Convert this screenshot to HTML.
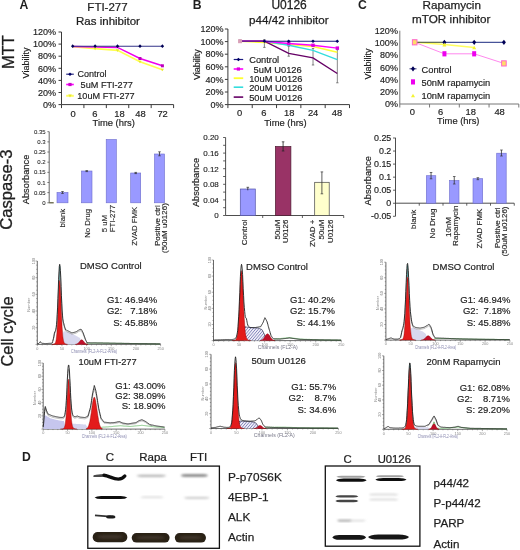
<!DOCTYPE html>
<html><head><meta charset="utf-8"><style>
html,body{margin:0;padding:0;background:#fff;}
svg{display:block;font-family:"Liberation Sans", sans-serif;}
text{opacity:0.999;stroke:#1e1e1e;stroke-width:0.22px;}
</style></head><body>
<svg width="520" height="550" viewBox="0 0 520 550">
<rect width="520" height="550" fill="#fff"/>
<text transform="translate(14.00,52.00) rotate(-90)" font-size="16.5" text-anchor="middle" font-weight="normal" fill="#1e1e1e" style="stroke-width:0.30px">MTT</text>
<text transform="translate(12.20,189.60) rotate(-90)" font-size="16.6" text-anchor="middle" font-weight="normal" fill="#1e1e1e" style="stroke-width:0.30px">Caspase-3</text>
<text transform="translate(12.60,331.50) rotate(-90)" font-size="16.4" text-anchor="middle" font-weight="normal" fill="#1e1e1e" style="stroke-width:0.30px">Cell cycle</text>
<text x="19.40" y="8.80" font-size="12.2" text-anchor="start" font-weight="bold" fill="#1e1e1e" style="stroke-width:0.00px" >A</text>
<text x="192.70" y="9.00" font-size="12.2" text-anchor="start" font-weight="bold" fill="#1e1e1e" style="stroke-width:0.00px" >B</text>
<text x="358.00" y="9.00" font-size="12.2" text-anchor="start" font-weight="bold" fill="#1e1e1e" style="stroke-width:0.00px" >C</text>
<text x="22.00" y="461.30" font-size="12.2" text-anchor="start" font-weight="bold" fill="#1e1e1e" style="stroke-width:0.00px" >D</text>
<text x="107.50" y="10.90" font-size="11.5" text-anchor="middle" font-weight="normal" fill="#1e1e1e" style="stroke-width:0.24px" >FTI-277</text>
<text x="108.00" y="25.30" font-size="11.5" text-anchor="middle" font-weight="normal" fill="#1e1e1e" style="stroke-width:0.24px" >Ras inhibitor</text>
<line x1="61.50" y1="32.00" x2="61.50" y2="104.60" stroke="#3a3a3a" stroke-width="1" />
<line x1="61.50" y1="104.60" x2="173.60" y2="104.60" stroke="#3a3a3a" stroke-width="1" />
<line x1="58.50" y1="32.00" x2="61.50" y2="32.00" stroke="#3a3a3a" stroke-width="1" />
<text x="56.00" y="35.20" font-size="9" text-anchor="end" font-weight="normal" fill="#1e1e1e" style="stroke-width:0.17px" >120%</text>
<line x1="58.50" y1="44.10" x2="61.50" y2="44.10" stroke="#3a3a3a" stroke-width="1" />
<text x="56.00" y="47.30" font-size="9" text-anchor="end" font-weight="normal" fill="#1e1e1e" style="stroke-width:0.17px" >100%</text>
<line x1="58.50" y1="56.20" x2="61.50" y2="56.20" stroke="#3a3a3a" stroke-width="1" />
<text x="56.00" y="59.40" font-size="9" text-anchor="end" font-weight="normal" fill="#1e1e1e" style="stroke-width:0.17px" >80%</text>
<line x1="58.50" y1="68.30" x2="61.50" y2="68.30" stroke="#3a3a3a" stroke-width="1" />
<text x="56.00" y="71.50" font-size="9" text-anchor="end" font-weight="normal" fill="#1e1e1e" style="stroke-width:0.17px" >60%</text>
<line x1="58.50" y1="80.40" x2="61.50" y2="80.40" stroke="#3a3a3a" stroke-width="1" />
<text x="56.00" y="83.60" font-size="9" text-anchor="end" font-weight="normal" fill="#1e1e1e" style="stroke-width:0.17px" >40%</text>
<line x1="58.50" y1="92.50" x2="61.50" y2="92.50" stroke="#3a3a3a" stroke-width="1" />
<text x="56.00" y="95.70" font-size="9" text-anchor="end" font-weight="normal" fill="#1e1e1e" style="stroke-width:0.17px" >20%</text>
<line x1="58.50" y1="104.60" x2="61.50" y2="104.60" stroke="#3a3a3a" stroke-width="1" />
<text x="56.00" y="107.80" font-size="9" text-anchor="end" font-weight="normal" fill="#1e1e1e" style="stroke-width:0.17px" >0%</text>
<line x1="61.50" y1="104.60" x2="61.50" y2="108.10" stroke="#3a3a3a" stroke-width="1" />
<line x1="83.92" y1="104.60" x2="83.92" y2="108.10" stroke="#3a3a3a" stroke-width="1" />
<line x1="106.34" y1="104.60" x2="106.34" y2="108.10" stroke="#3a3a3a" stroke-width="1" />
<line x1="128.76" y1="104.60" x2="128.76" y2="108.10" stroke="#3a3a3a" stroke-width="1" />
<line x1="151.18" y1="104.60" x2="151.18" y2="108.10" stroke="#3a3a3a" stroke-width="1" />
<line x1="173.60" y1="104.60" x2="173.60" y2="108.10" stroke="#3a3a3a" stroke-width="1" />
<text x="73.20" y="117.30" font-size="9.4" text-anchor="middle" font-weight="normal" fill="#1e1e1e" style="stroke-width:0.18px" >0</text>
<text x="94.80" y="117.30" font-size="9.4" text-anchor="middle" font-weight="normal" fill="#1e1e1e" style="stroke-width:0.18px" >6</text>
<text x="119.40" y="117.30" font-size="9.4" text-anchor="middle" font-weight="normal" fill="#1e1e1e" style="stroke-width:0.18px" >18</text>
<text x="140.40" y="117.30" font-size="9.4" text-anchor="middle" font-weight="normal" fill="#1e1e1e" style="stroke-width:0.18px" >48</text>
<text x="162.60" y="117.30" font-size="9.4" text-anchor="middle" font-weight="normal" fill="#1e1e1e" style="stroke-width:0.18px" >72</text>
<text x="113.70" y="125.60" font-size="9.4" text-anchor="middle" font-weight="normal" fill="#1e1e1e" style="stroke-width:0.18px" >Time (hrs)</text>
<text transform="translate(28.80,63.00) rotate(-90)" font-size="9" text-anchor="middle" font-weight="normal" fill="#1e1e1e" style="stroke-width:0.17px">Viability</text>
<polyline points="72.7,46.6 95.1,48.6 117.5,50.3 140.0,61.7 162.4,69.7" stroke="#ffff50" fill="none" stroke-width="1.7" />
<polyline points="72.7,46.4 95.1,47.0 117.5,47.4 140.0,58.5 162.4,65.8" stroke="#ee00ee" fill="none" stroke-width="1.5" />
<polyline points="72.7,46.2 95.1,46.2 117.5,46.2 140.0,46.2 162.4,46.2" stroke="#333388" fill="none" stroke-width="1.1" />
<rect x="138.47" y="57.00" width="3.00" height="3.00" fill="#bb00bb" stroke="none" stroke-width="1" />
<rect x="160.89" y="64.30" width="3.00" height="3.00" fill="#bb00bb" stroke="none" stroke-width="1" />
<polygon points="93.5,47.6 96.7,47.6 95.1,50.2" stroke="none" fill="#e8e830" stroke-width="1" />
<polygon points="115.9,49.3 119.1,49.3 117.5,51.9" stroke="none" fill="#e8e830" stroke-width="1" />
<polygon points="138.4,60.7 141.6,60.7 140.0,63.3" stroke="none" fill="#e8e830" stroke-width="1" />
<polygon points="160.8,68.7 164.0,68.7 162.4,71.3" stroke="none" fill="#e8e830" stroke-width="1" />
<polygon points="71.0,46.2 72.7,44.3 74.4,46.2 72.7,48.1" stroke="none" fill="#000055" stroke-width="1" />
<polygon points="93.4,46.2 95.1,44.3 96.8,46.2 95.1,48.1" stroke="none" fill="#000055" stroke-width="1" />
<polygon points="115.8,46.2 117.5,44.3 119.2,46.2 117.5,48.1" stroke="none" fill="#000055" stroke-width="1" />
<polygon points="138.3,46.2 140.0,44.3 141.7,46.2 140.0,48.1" stroke="none" fill="#000055" stroke-width="1" />
<polygon points="160.7,46.2 162.4,44.3 164.1,46.2 162.4,48.1" stroke="none" fill="#000055" stroke-width="1" />
<line x1="66.20" y1="74.20" x2="73.80" y2="74.20" stroke="#2a2a80" stroke-width="1.2" />
<polygon points="68.2,74.2 70.0,72.4 71.8,74.2 70.0,76.0" stroke="none" fill="#000066" stroke-width="1" />
<line x1="66.20" y1="84.50" x2="73.80" y2="84.50" stroke="#ff00ff" stroke-width="1.6" />
<rect x="68.40" y="82.90" width="3.20" height="3.20" fill="#cc00cc" stroke="none" stroke-width="1" />
<line x1="66.20" y1="95.80" x2="73.80" y2="95.80" stroke="#ffff60" stroke-width="2.0" />
<polygon points="68.2,94.6 71.8,94.6 70.0,97.4" stroke="none" fill="#e8e830" stroke-width="1" />
<text x="77.60" y="77.20" font-size="9" text-anchor="start" font-weight="normal" fill="#1e1e1e" style="stroke-width:0.17px" >Control</text>
<text x="80.60" y="88.30" font-size="9.15" text-anchor="start" font-weight="normal" fill="#1e1e1e" style="stroke-width:0.17px" >5uM FTI-277</text>
<text x="77.30" y="99.30" font-size="9.15" text-anchor="start" font-weight="normal" fill="#1e1e1e" style="stroke-width:0.17px" >10uM FTI-277</text>
<text x="289.10" y="9.30" font-size="12.0" text-anchor="middle" font-weight="normal" fill="#1e1e1e" style="stroke-width:0.26px" >U0126</text>
<text x="288.90" y="23.80" font-size="11.65" text-anchor="middle" font-weight="normal" fill="#1e1e1e" style="stroke-width:0.25px" >p44/42 inhibitor</text>
<line x1="227.90" y1="29.00" x2="227.90" y2="104.60" stroke="#3a3a3a" stroke-width="1" />
<line x1="227.90" y1="104.60" x2="349.50" y2="104.60" stroke="#3a3a3a" stroke-width="1" />
<line x1="224.90" y1="29.00" x2="227.90" y2="29.00" stroke="#3a3a3a" stroke-width="1" />
<text x="223.50" y="32.20" font-size="9" text-anchor="end" font-weight="normal" fill="#1e1e1e" style="stroke-width:0.17px" >120%</text>
<line x1="224.90" y1="41.60" x2="227.90" y2="41.60" stroke="#3a3a3a" stroke-width="1" />
<text x="223.50" y="44.80" font-size="9" text-anchor="end" font-weight="normal" fill="#1e1e1e" style="stroke-width:0.17px" >100%</text>
<line x1="224.90" y1="54.20" x2="227.90" y2="54.20" stroke="#3a3a3a" stroke-width="1" />
<text x="223.50" y="57.40" font-size="9" text-anchor="end" font-weight="normal" fill="#1e1e1e" style="stroke-width:0.17px" >80%</text>
<line x1="224.90" y1="66.80" x2="227.90" y2="66.80" stroke="#3a3a3a" stroke-width="1" />
<text x="223.50" y="70.00" font-size="9" text-anchor="end" font-weight="normal" fill="#1e1e1e" style="stroke-width:0.17px" >60%</text>
<line x1="224.90" y1="79.40" x2="227.90" y2="79.40" stroke="#3a3a3a" stroke-width="1" />
<text x="223.50" y="82.60" font-size="9" text-anchor="end" font-weight="normal" fill="#1e1e1e" style="stroke-width:0.17px" >40%</text>
<line x1="224.90" y1="92.00" x2="227.90" y2="92.00" stroke="#3a3a3a" stroke-width="1" />
<text x="223.50" y="95.20" font-size="9" text-anchor="end" font-weight="normal" fill="#1e1e1e" style="stroke-width:0.17px" >20%</text>
<line x1="224.90" y1="104.60" x2="227.90" y2="104.60" stroke="#3a3a3a" stroke-width="1" />
<text x="223.50" y="107.80" font-size="9" text-anchor="end" font-weight="normal" fill="#1e1e1e" style="stroke-width:0.17px" >0%</text>
<line x1="227.90" y1="104.60" x2="227.90" y2="108.10" stroke="#3a3a3a" stroke-width="1" />
<line x1="252.22" y1="104.60" x2="252.22" y2="108.10" stroke="#3a3a3a" stroke-width="1" />
<line x1="276.54" y1="104.60" x2="276.54" y2="108.10" stroke="#3a3a3a" stroke-width="1" />
<line x1="300.86" y1="104.60" x2="300.86" y2="108.10" stroke="#3a3a3a" stroke-width="1" />
<line x1="325.18" y1="104.60" x2="325.18" y2="108.10" stroke="#3a3a3a" stroke-width="1" />
<line x1="349.50" y1="104.60" x2="349.50" y2="108.10" stroke="#3a3a3a" stroke-width="1" />
<text x="239.60" y="115.50" font-size="9.4" text-anchor="middle" font-weight="normal" fill="#1e1e1e" style="stroke-width:0.18px" >0</text>
<text x="263.90" y="115.50" font-size="9.4" text-anchor="middle" font-weight="normal" fill="#1e1e1e" style="stroke-width:0.18px" >6</text>
<text x="289.20" y="115.50" font-size="9.4" text-anchor="middle" font-weight="normal" fill="#1e1e1e" style="stroke-width:0.18px" >18</text>
<text x="313.10" y="115.50" font-size="9.4" text-anchor="middle" font-weight="normal" fill="#1e1e1e" style="stroke-width:0.18px" >24</text>
<text x="336.90" y="115.50" font-size="9.4" text-anchor="middle" font-weight="normal" fill="#1e1e1e" style="stroke-width:0.18px" >48</text>
<text x="285.40" y="125.60" font-size="9.4" text-anchor="middle" font-weight="normal" fill="#1e1e1e" style="stroke-width:0.18px" >Time (hrs)</text>
<text transform="translate(199.60,64.60) rotate(-90)" font-size="9" text-anchor="middle" font-weight="normal" fill="#1e1e1e" style="stroke-width:0.17px">Viability</text>
<line x1="240.06" y1="40.00" x2="240.06" y2="42.00" stroke="#555" stroke-width="0.7" />
<line x1="238.86" y1="40.00" x2="241.26" y2="40.00" stroke="#555" stroke-width="0.7" />
<line x1="238.86" y1="42.00" x2="241.26" y2="42.00" stroke="#555" stroke-width="0.7" />
<line x1="264.38" y1="39.60" x2="264.38" y2="47.40" stroke="#555" stroke-width="0.7" />
<line x1="263.18" y1="39.60" x2="265.58" y2="39.60" stroke="#555" stroke-width="0.7" />
<line x1="263.18" y1="47.40" x2="265.58" y2="47.40" stroke="#555" stroke-width="0.7" />
<line x1="288.70" y1="46.30" x2="288.70" y2="56.20" stroke="#555" stroke-width="0.7" />
<line x1="287.50" y1="46.30" x2="289.90" y2="46.30" stroke="#555" stroke-width="0.7" />
<line x1="287.50" y1="56.20" x2="289.90" y2="56.20" stroke="#555" stroke-width="0.7" />
<line x1="313.02" y1="48.50" x2="313.02" y2="65.00" stroke="#555" stroke-width="0.7" />
<line x1="311.82" y1="48.50" x2="314.22" y2="48.50" stroke="#555" stroke-width="0.7" />
<line x1="311.82" y1="65.00" x2="314.22" y2="65.00" stroke="#555" stroke-width="0.7" />
<line x1="337.34" y1="49.60" x2="337.34" y2="82.80" stroke="#555" stroke-width="0.7" />
<line x1="336.14" y1="49.60" x2="338.54" y2="49.60" stroke="#555" stroke-width="0.7" />
<line x1="336.14" y1="82.80" x2="338.54" y2="82.80" stroke="#555" stroke-width="0.7" />
<polyline points="240.1,41.2 264.4,42.6 288.7,44.5 313.0,46.5 337.3,52.2" stroke="#ffff30" fill="none" stroke-width="1.5" />
<polyline points="240.1,41.2 264.4,41.2 288.7,45.3 313.0,50.4 337.3,59.6" stroke="#33dddd" fill="none" stroke-width="1.4" />
<polyline points="240.1,41.2 264.4,41.2 288.7,53.4 313.0,57.8 337.3,73.5" stroke="#660066" fill="none" stroke-width="1.4" />
<polyline points="240.1,41.2 264.4,41.2 288.7,43.5 313.0,45.3 337.3,48.1" stroke="#ff00ff" fill="none" stroke-width="1.4" />
<rect x="287.00" y="41.80" width="3.40" height="3.40" fill="#dd00dd" stroke="none" stroke-width="1" />
<rect x="311.32" y="43.60" width="3.40" height="3.40" fill="#dd00dd" stroke="none" stroke-width="1" />
<rect x="335.64" y="46.40" width="3.40" height="3.40" fill="#dd00dd" stroke="none" stroke-width="1" />
<line x1="240.06" y1="41.20" x2="264.38" y2="41.20" stroke="#662288" stroke-width="1.4" />
<rect x="238.06" y="39.20" width="4.00" height="4.00" fill="#d8a0b8" stroke="none" stroke-width="1" />
<polyline points="264.4,41.2 288.7,41.2 313.0,41.2 337.3,41.2" stroke="#1a1a80" fill="none" stroke-width="1.1" />
<polygon points="262.6,41.2 264.4,39.4 266.2,41.2 264.4,43.0" stroke="none" fill="#000066" stroke-width="1" />
<polygon points="286.9,41.2 288.7,39.4 290.5,41.2 288.7,43.0" stroke="none" fill="#000066" stroke-width="1" />
<polygon points="311.2,41.2 313.0,39.4 314.8,41.2 313.0,43.0" stroke="none" fill="#000066" stroke-width="1" />
<polygon points="335.5,41.2 337.3,39.4 339.1,41.2 337.3,43.0" stroke="none" fill="#000066" stroke-width="1" />
<line x1="233.70" y1="59.50" x2="243.20" y2="59.50" stroke="#1a1a80" stroke-width="1.2" />
<line x1="233.70" y1="69.00" x2="243.20" y2="69.00" stroke="#ff00ff" stroke-width="1.6" />
<line x1="233.70" y1="78.20" x2="243.20" y2="78.20" stroke="#ffff30" stroke-width="1.8" />
<line x1="233.70" y1="87.20" x2="243.20" y2="87.20" stroke="#33dddd" stroke-width="1.6" />
<line x1="233.70" y1="97.10" x2="243.20" y2="97.10" stroke="#660066" stroke-width="1.6" />
<polygon points="236.6,59.5 238.4,57.7 240.2,59.5 238.4,61.3" stroke="none" fill="#000066" stroke-width="1" />
<rect x="236.80" y="67.40" width="3.20" height="3.20" fill="#dd00dd" stroke="none" stroke-width="1" />
<text x="249.20" y="63.00" font-size="9.3" text-anchor="start" font-weight="normal" fill="#1e1e1e" style="stroke-width:0.18px" >Control</text>
<text x="253.60" y="72.50" font-size="9.3" text-anchor="start" font-weight="normal" fill="#1e1e1e" style="stroke-width:0.18px" >5uM U0126</text>
<text x="249.20" y="81.70" font-size="9.3" text-anchor="start" font-weight="normal" fill="#1e1e1e" style="stroke-width:0.18px" >10uM U0126</text>
<text x="249.20" y="90.70" font-size="9.3" text-anchor="start" font-weight="normal" fill="#1e1e1e" style="stroke-width:0.18px" >20uM U0126</text>
<text x="249.20" y="100.70" font-size="9.3" text-anchor="start" font-weight="normal" fill="#1e1e1e" style="stroke-width:0.18px" >50uM U0126</text>
<text x="451.70" y="9.40" font-size="11.7" text-anchor="middle" font-weight="normal" fill="#1e1e1e" style="stroke-width:0.25px" >Rapamycin</text>
<text x="451.30" y="23.20" font-size="11.7" text-anchor="middle" font-weight="normal" fill="#1e1e1e" style="stroke-width:0.25px" >mTOR inhibitor</text>
<line x1="399.80" y1="30.70" x2="399.80" y2="104.00" stroke="#777" stroke-width="1" />
<line x1="399.80" y1="104.00" x2="518.80" y2="104.00" stroke="#777" stroke-width="1" />
<text x="397.90" y="33.90" font-size="9" text-anchor="end" font-weight="normal" fill="#1e1e1e" style="stroke-width:0.17px" >120%</text>
<text x="397.90" y="46.12" font-size="9" text-anchor="end" font-weight="normal" fill="#1e1e1e" style="stroke-width:0.17px" >100%</text>
<text x="397.90" y="58.33" font-size="9" text-anchor="end" font-weight="normal" fill="#1e1e1e" style="stroke-width:0.17px" >80%</text>
<text x="397.90" y="70.55" font-size="9" text-anchor="end" font-weight="normal" fill="#1e1e1e" style="stroke-width:0.17px" >60%</text>
<text x="397.90" y="82.77" font-size="9" text-anchor="end" font-weight="normal" fill="#1e1e1e" style="stroke-width:0.17px" >40%</text>
<text x="397.90" y="94.98" font-size="9" text-anchor="end" font-weight="normal" fill="#1e1e1e" style="stroke-width:0.17px" >20%</text>
<text x="397.90" y="107.20" font-size="9" text-anchor="end" font-weight="normal" fill="#1e1e1e" style="stroke-width:0.17px" >0%</text>
<line x1="399.80" y1="104.00" x2="399.80" y2="107.50" stroke="#777" stroke-width="1" />
<line x1="429.55" y1="104.00" x2="429.55" y2="107.50" stroke="#777" stroke-width="1" />
<line x1="459.30" y1="104.00" x2="459.30" y2="107.50" stroke="#777" stroke-width="1" />
<line x1="489.05" y1="104.00" x2="489.05" y2="107.50" stroke="#777" stroke-width="1" />
<line x1="518.80" y1="104.00" x2="518.80" y2="107.50" stroke="#777" stroke-width="1" />
<text x="412.30" y="115.00" font-size="9.4" text-anchor="middle" font-weight="normal" fill="#1e1e1e" style="stroke-width:0.18px" >0</text>
<text x="440.70" y="115.00" font-size="9.4" text-anchor="middle" font-weight="normal" fill="#1e1e1e" style="stroke-width:0.18px" >6</text>
<text x="470.70" y="115.00" font-size="9.4" text-anchor="middle" font-weight="normal" fill="#1e1e1e" style="stroke-width:0.18px" >18</text>
<text x="499.60" y="115.00" font-size="9.4" text-anchor="middle" font-weight="normal" fill="#1e1e1e" style="stroke-width:0.18px" >48</text>
<text x="458.30" y="124.20" font-size="9.4" text-anchor="middle" font-weight="normal" fill="#1e1e1e" style="stroke-width:0.18px" >Time (hrs)</text>
<text transform="translate(371.20,64.00) rotate(-90)" font-size="9" text-anchor="middle" font-weight="normal" fill="#1e1e1e" style="stroke-width:0.17px">Viability</text>
<polyline points="414.7,42.3 444.4,44.6 474.2,47.5" stroke="#ffff60" fill="none" stroke-width="1.5" />
<polyline points="414.7,42.3 444.4,53.8 474.2,53.8 503.9,63.4" stroke="#ff88ee" fill="none" stroke-width="1.0" />
<line x1="414.68" y1="42.30" x2="444.43" y2="42.30" stroke="#4a5a40" stroke-width="1.1" />
<line x1="444.43" y1="42.30" x2="503.92" y2="42.30" stroke="#1a2a80" stroke-width="1.0" />
<polygon points="412.7,42.3 414.7,39.7 416.7,42.3 414.7,44.9" stroke="none" fill="#000055" stroke-width="1" />
<polygon points="442.4,42.3 444.4,39.7 446.4,42.3 444.4,44.9" stroke="none" fill="#000055" stroke-width="1" />
<polygon points="472.2,42.3 474.2,39.7 476.2,42.3 474.2,44.9" stroke="none" fill="#000055" stroke-width="1" />
<polygon points="501.9,42.3 503.9,39.7 505.9,42.3 503.9,44.9" stroke="none" fill="#000055" stroke-width="1" />
<rect x="442.43" y="51.20" width="4.00" height="5.20" fill="#ee00ee" stroke="none" stroke-width="1" />
<rect x="472.17" y="51.20" width="4.00" height="5.20" fill="#ee00ee" stroke="none" stroke-width="1" />
<polygon points="442.4,46.4 446.4,46.4 444.4,42.8" stroke="none" fill="#f4f430" stroke-width="1" />
<polygon points="472.2,49.3 476.2,49.3 474.2,45.7" stroke="none" fill="#f4f430" stroke-width="1" />
<rect x="412.38" y="39.70" width="4.60" height="5.20" fill="#ffdd66" stroke="#ff66cc" stroke-width="1.0" />
<rect x="501.62" y="60.80" width="4.60" height="5.20" fill="#ffdd66" stroke="#ff66cc" stroke-width="1.0" />
<line x1="409.50" y1="68.80" x2="416.50" y2="68.80" stroke="#000055" stroke-width="0.8" />
<polygon points="411.0,68.8 413.0,66.2 415.0,68.8 413.0,71.4" stroke="none" fill="#000055" stroke-width="1" />
<rect x="411.00" y="79.30" width="4.00" height="5.20" fill="#ee00ee" stroke="none" stroke-width="1" />
<polygon points="411.0,97.3 415.0,97.3 413.0,93.7" stroke="none" fill="#f4f430" stroke-width="1" />
<text x="421.50" y="72.70" font-size="9.3" text-anchor="start" font-weight="normal" fill="#1e1e1e" style="stroke-width:0.18px" >Control</text>
<text x="421.50" y="86.20" font-size="9.3" text-anchor="start" font-weight="normal" fill="#1e1e1e" style="stroke-width:0.18px" >50nM rapamycin</text>
<text x="421.50" y="98.90" font-size="9.3" text-anchor="start" font-weight="normal" fill="#1e1e1e" style="stroke-width:0.18px" >10nM rapamycin</text>
<line x1="49.20" y1="131.70" x2="49.20" y2="202.80" stroke="#555" stroke-width="0.9" />
<line x1="49.20" y1="202.80" x2="53.70" y2="202.80" stroke="#555533" stroke-width="1.2" />
<line x1="47.40" y1="131.70" x2="49.20" y2="131.70" stroke="#555" stroke-width="0.8" />
<text x="45.60" y="133.80" font-size="6" text-anchor="end" font-weight="normal" fill="#1e1e1e" style="stroke-width:0.08px" >0.35</text>
<line x1="47.40" y1="141.86" x2="49.20" y2="141.86" stroke="#555" stroke-width="0.8" />
<text x="45.60" y="143.96" font-size="6" text-anchor="end" font-weight="normal" fill="#1e1e1e" style="stroke-width:0.08px" >0.3</text>
<line x1="47.40" y1="152.01" x2="49.20" y2="152.01" stroke="#555" stroke-width="0.8" />
<text x="45.60" y="154.11" font-size="6" text-anchor="end" font-weight="normal" fill="#1e1e1e" style="stroke-width:0.08px" >0.25</text>
<line x1="47.40" y1="162.17" x2="49.20" y2="162.17" stroke="#555" stroke-width="0.8" />
<text x="45.60" y="164.27" font-size="6" text-anchor="end" font-weight="normal" fill="#1e1e1e" style="stroke-width:0.08px" >0.2</text>
<line x1="47.40" y1="172.33" x2="49.20" y2="172.33" stroke="#555" stroke-width="0.8" />
<text x="45.60" y="174.43" font-size="6" text-anchor="end" font-weight="normal" fill="#1e1e1e" style="stroke-width:0.08px" >0.15</text>
<line x1="47.40" y1="182.49" x2="49.20" y2="182.49" stroke="#555" stroke-width="0.8" />
<text x="45.60" y="184.59" font-size="6" text-anchor="end" font-weight="normal" fill="#1e1e1e" style="stroke-width:0.08px" >0.1</text>
<line x1="47.40" y1="192.64" x2="49.20" y2="192.64" stroke="#555" stroke-width="0.8" />
<text x="45.60" y="194.74" font-size="6" text-anchor="end" font-weight="normal" fill="#1e1e1e" style="stroke-width:0.08px" >0.05</text>
<line x1="47.40" y1="202.80" x2="49.20" y2="202.80" stroke="#555" stroke-width="0.8" />
<text x="45.60" y="204.90" font-size="6" text-anchor="end" font-weight="normal" fill="#1e1e1e" style="stroke-width:0.08px" >0</text>
<text transform="translate(29.40,179.50) rotate(-90)" font-size="9.3" text-anchor="middle" font-weight="normal" fill="#1e1e1e" style="stroke-width:0.18px">Absorbance</text>
<rect x="57.00" y="192.50" width="11.00" height="10.30" fill="#9999ff" stroke="#6c6ccc" stroke-width="0.6" />
<line x1="62.50" y1="191.50" x2="62.50" y2="193.50" stroke="#333" stroke-width="0.8" />
<line x1="61.20" y1="191.50" x2="63.80" y2="191.50" stroke="#333" stroke-width="0.7" />
<line x1="61.20" y1="193.50" x2="63.80" y2="193.50" stroke="#333" stroke-width="0.7" />
<rect x="81.50" y="171.00" width="10.50" height="31.80" fill="#9999ff" stroke="#6c6ccc" stroke-width="0.6" />
<line x1="86.75" y1="170.60" x2="86.75" y2="171.60" stroke="#333" stroke-width="0.8" />
<line x1="85.45" y1="170.60" x2="88.05" y2="170.60" stroke="#333" stroke-width="0.7" />
<line x1="85.45" y1="171.60" x2="88.05" y2="171.60" stroke="#333" stroke-width="0.7" />
<rect x="106.20" y="139.50" width="10.10" height="63.30" fill="#9999ff" stroke="#6c6ccc" stroke-width="0.6" />
<rect x="130.70" y="173.00" width="10.00" height="29.80" fill="#9999ff" stroke="#6c6ccc" stroke-width="0.6" />
<line x1="135.70" y1="172.40" x2="135.70" y2="173.60" stroke="#333" stroke-width="0.8" />
<line x1="134.40" y1="172.40" x2="137.00" y2="172.40" stroke="#333" stroke-width="0.7" />
<line x1="134.40" y1="173.60" x2="137.00" y2="173.60" stroke="#333" stroke-width="0.7" />
<rect x="154.50" y="154.00" width="10.00" height="48.80" fill="#9999ff" stroke="#6c6ccc" stroke-width="0.6" />
<line x1="159.50" y1="151.80" x2="159.50" y2="155.80" stroke="#333" stroke-width="0.8" />
<line x1="158.20" y1="151.80" x2="160.80" y2="151.80" stroke="#333" stroke-width="0.7" />
<line x1="158.20" y1="155.80" x2="160.80" y2="155.80" stroke="#333" stroke-width="0.7" />
<text transform="translate(65.30,208.80) rotate(-90)" font-size="7.8" text-anchor="end" font-weight="normal" fill="#1e1e1e" style="stroke-width:0.13px">blank</text>
<text transform="translate(89.70,208.80) rotate(-90)" font-size="7.8" text-anchor="end" font-weight="normal" fill="#1e1e1e" style="stroke-width:0.13px">No Drug</text>
<text transform="translate(106.60,232.30) rotate(-90)" font-size="7.8" text-anchor="start" font-weight="normal" fill="#1e1e1e" style="stroke-width:0.13px">5 uM</text>
<text transform="translate(115.40,232.30) rotate(-90)" font-size="7.8" text-anchor="start" font-weight="normal" fill="#1e1e1e" style="stroke-width:0.13px">FTI-277</text>
<text transform="translate(136.60,206.80) rotate(-90)" font-size="7.8" text-anchor="end" font-weight="normal" fill="#1e1e1e" style="stroke-width:0.13px">ZVAD FMK</text>
<text transform="translate(159.60,205.20) rotate(-90)" font-size="8" text-anchor="end" font-weight="normal" fill="#1e1e1e" style="stroke-width:0.14px">Positive ctrl</text>
<text transform="translate(167.20,203.20) rotate(-90)" font-size="8" text-anchor="end" font-weight="normal" fill="#1e1e1e" style="stroke-width:0.14px">(50uM u0126)</text>
<line x1="225.60" y1="137.50" x2="225.60" y2="215.50" stroke="#3a3a3a" stroke-width="0.9" />
<line x1="225.60" y1="215.50" x2="343.70" y2="215.50" stroke="#3a3a3a" stroke-width="0.9" />
<line x1="223.10" y1="137.50" x2="225.60" y2="137.50" stroke="#3a3a3a" stroke-width="0.8" />
<line x1="223.10" y1="145.30" x2="225.60" y2="145.30" stroke="#3a3a3a" stroke-width="0.8" />
<line x1="223.10" y1="153.10" x2="225.60" y2="153.10" stroke="#3a3a3a" stroke-width="0.8" />
<line x1="223.10" y1="160.90" x2="225.60" y2="160.90" stroke="#3a3a3a" stroke-width="0.8" />
<line x1="223.10" y1="168.70" x2="225.60" y2="168.70" stroke="#3a3a3a" stroke-width="0.8" />
<line x1="223.10" y1="176.50" x2="225.60" y2="176.50" stroke="#3a3a3a" stroke-width="0.8" />
<line x1="223.10" y1="184.30" x2="225.60" y2="184.30" stroke="#3a3a3a" stroke-width="0.8" />
<line x1="223.10" y1="192.10" x2="225.60" y2="192.10" stroke="#3a3a3a" stroke-width="0.8" />
<line x1="223.10" y1="199.90" x2="225.60" y2="199.90" stroke="#3a3a3a" stroke-width="0.8" />
<line x1="223.10" y1="207.70" x2="225.60" y2="207.70" stroke="#3a3a3a" stroke-width="0.8" />
<line x1="223.10" y1="215.50" x2="225.60" y2="215.50" stroke="#3a3a3a" stroke-width="0.8" />
<text x="218.80" y="140.40" font-size="8" text-anchor="end" font-weight="normal" fill="#1e1e1e" style="stroke-width:0.14px" >0.20</text>
<text x="218.80" y="156.00" font-size="8" text-anchor="end" font-weight="normal" fill="#1e1e1e" style="stroke-width:0.14px" >0.16</text>
<text x="218.80" y="171.60" font-size="8" text-anchor="end" font-weight="normal" fill="#1e1e1e" style="stroke-width:0.14px" >0.12</text>
<text x="218.80" y="187.20" font-size="8" text-anchor="end" font-weight="normal" fill="#1e1e1e" style="stroke-width:0.14px" >0.08</text>
<text x="218.80" y="202.80" font-size="8" text-anchor="end" font-weight="normal" fill="#1e1e1e" style="stroke-width:0.14px" >0.04</text>
<text x="218.80" y="218.40" font-size="8" text-anchor="end" font-weight="normal" fill="#1e1e1e" style="stroke-width:0.14px" >0</text>
<line x1="262.70" y1="215.50" x2="262.70" y2="218.00" stroke="#3a3a3a" stroke-width="0.8" />
<line x1="302.40" y1="215.50" x2="302.40" y2="218.00" stroke="#3a3a3a" stroke-width="0.8" />
<line x1="343.70" y1="215.50" x2="343.70" y2="218.00" stroke="#3a3a3a" stroke-width="0.8" />
<text transform="translate(198.60,182.50) rotate(-90)" font-size="9.2" text-anchor="middle" font-weight="normal" fill="#1e1e1e" style="stroke-width:0.18px">Absorbance</text>
<rect x="240.30" y="189.00" width="15.00" height="26.50" fill="#9999ff" stroke="#5555aa" stroke-width="0.7" />
<line x1="247.80" y1="187.30" x2="247.80" y2="190.30" stroke="#222" stroke-width="0.8" />
<line x1="246.50" y1="187.30" x2="249.10" y2="187.30" stroke="#222" stroke-width="0.7" />
<rect x="275.40" y="146.50" width="15.50" height="69.00" fill="#993366" stroke="#4a1a30" stroke-width="0.7" />
<line x1="283.10" y1="141.80" x2="283.10" y2="151.00" stroke="#222" stroke-width="0.8" />
<line x1="281.80" y1="141.80" x2="284.40" y2="141.80" stroke="#222" stroke-width="0.7" />
<line x1="281.80" y1="151.00" x2="284.40" y2="151.00" stroke="#222" stroke-width="0.7" />
<rect x="314.70" y="182.30" width="14.50" height="33.20" fill="#ffffcc" stroke="#444" stroke-width="0.7" />
<line x1="321.90" y1="171.90" x2="321.90" y2="193.80" stroke="#333" stroke-width="0.8" />
<line x1="320.60" y1="171.90" x2="323.20" y2="171.90" stroke="#333" stroke-width="0.7" />
<line x1="320.60" y1="193.80" x2="323.20" y2="193.80" stroke="#333" stroke-width="0.7" />
<text transform="translate(247.20,219.70) rotate(-90)" font-size="7.9" text-anchor="end" font-weight="normal" fill="#1e1e1e" style="stroke-width:0.14px">Control</text>
<text transform="translate(279.50,219.70) rotate(-90)" font-size="7.9" text-anchor="end" font-weight="normal" fill="#1e1e1e" style="stroke-width:0.14px">50uM</text>
<text transform="translate(288.30,219.70) rotate(-90)" font-size="7.9" text-anchor="end" font-weight="normal" fill="#1e1e1e" style="stroke-width:0.14px">U0126</text>
<text transform="translate(315.30,219.70) rotate(-90)" font-size="7.9" text-anchor="end" font-weight="normal" fill="#1e1e1e" style="stroke-width:0.14px">ZVAD +</text>
<text transform="translate(323.90,219.70) rotate(-90)" font-size="7.9" text-anchor="end" font-weight="normal" fill="#1e1e1e" style="stroke-width:0.14px">50uM</text>
<text transform="translate(332.50,219.70) rotate(-90)" font-size="7.9" text-anchor="end" font-weight="normal" fill="#1e1e1e" style="stroke-width:0.14px">U0126</text>
<line x1="395.50" y1="137.80" x2="395.50" y2="216.25" stroke="#3a3a3a" stroke-width="0.9" />
<line x1="395.50" y1="203.20" x2="514.20" y2="203.20" stroke="#3a3a3a" stroke-width="0.9" />
<line x1="393.00" y1="138.00" x2="395.50" y2="138.00" stroke="#3a3a3a" stroke-width="0.8" />
<text x="391.30" y="141.10" font-size="8.9" text-anchor="end" font-weight="normal" fill="#1e1e1e" style="stroke-width:0.17px" >0.25</text>
<line x1="393.00" y1="151.05" x2="395.50" y2="151.05" stroke="#3a3a3a" stroke-width="0.8" />
<text x="391.30" y="154.15" font-size="8.9" text-anchor="end" font-weight="normal" fill="#1e1e1e" style="stroke-width:0.17px" >0.2</text>
<line x1="393.00" y1="164.10" x2="395.50" y2="164.10" stroke="#3a3a3a" stroke-width="0.8" />
<text x="391.30" y="167.20" font-size="8.9" text-anchor="end" font-weight="normal" fill="#1e1e1e" style="stroke-width:0.17px" >0.15</text>
<line x1="393.00" y1="177.15" x2="395.50" y2="177.15" stroke="#3a3a3a" stroke-width="0.8" />
<text x="391.30" y="180.25" font-size="8.9" text-anchor="end" font-weight="normal" fill="#1e1e1e" style="stroke-width:0.17px" >0.1</text>
<line x1="393.00" y1="190.20" x2="395.50" y2="190.20" stroke="#3a3a3a" stroke-width="0.8" />
<text x="391.30" y="193.30" font-size="8.9" text-anchor="end" font-weight="normal" fill="#1e1e1e" style="stroke-width:0.17px" >0.05</text>
<line x1="393.00" y1="203.25" x2="395.50" y2="203.25" stroke="#3a3a3a" stroke-width="0.8" />
<text x="391.30" y="206.35" font-size="8.9" text-anchor="end" font-weight="normal" fill="#1e1e1e" style="stroke-width:0.17px" >0</text>
<line x1="393.00" y1="216.30" x2="395.50" y2="216.30" stroke="#3a3a3a" stroke-width="0.8" />
<text x="391.30" y="219.40" font-size="8.9" text-anchor="end" font-weight="normal" fill="#1e1e1e" style="stroke-width:0.17px" >-0.05</text>
<line x1="419.25" y1="203.20" x2="419.25" y2="205.70" stroke="#3a3a3a" stroke-width="0.8" />
<line x1="443.00" y1="203.20" x2="443.00" y2="205.70" stroke="#3a3a3a" stroke-width="0.8" />
<line x1="466.75" y1="203.20" x2="466.75" y2="205.70" stroke="#3a3a3a" stroke-width="0.8" />
<line x1="490.50" y1="203.20" x2="490.50" y2="205.70" stroke="#3a3a3a" stroke-width="0.8" />
<line x1="514.25" y1="203.20" x2="514.25" y2="205.70" stroke="#3a3a3a" stroke-width="0.8" />
<text transform="translate(370.60,180.70) rotate(-90)" font-size="9.25" text-anchor="middle" font-weight="normal" fill="#1e1e1e" style="stroke-width:0.18px">Absorbance</text>
<rect x="426.30" y="175.70" width="9.50" height="27.50" fill="#9999ff" stroke="#6c6ccc" stroke-width="0.6" />
<line x1="431.05" y1="172.50" x2="431.05" y2="178.80" stroke="#333" stroke-width="0.8" />
<line x1="429.75" y1="172.50" x2="432.35" y2="172.50" stroke="#333" stroke-width="0.7" />
<line x1="429.75" y1="178.80" x2="432.35" y2="178.80" stroke="#333" stroke-width="0.7" />
<rect x="449.50" y="180.50" width="9.50" height="22.70" fill="#9999ff" stroke="#6c6ccc" stroke-width="0.6" />
<line x1="454.25" y1="176.50" x2="454.25" y2="184.00" stroke="#333" stroke-width="0.8" />
<line x1="452.95" y1="176.50" x2="455.55" y2="176.50" stroke="#333" stroke-width="0.7" />
<line x1="452.95" y1="184.00" x2="455.55" y2="184.00" stroke="#333" stroke-width="0.7" />
<rect x="473.00" y="178.70" width="9.70" height="24.50" fill="#9999ff" stroke="#6c6ccc" stroke-width="0.6" />
<line x1="477.85" y1="177.70" x2="477.85" y2="179.70" stroke="#333" stroke-width="0.8" />
<line x1="476.55" y1="177.70" x2="479.15" y2="177.70" stroke="#333" stroke-width="0.7" />
<line x1="476.55" y1="179.70" x2="479.15" y2="179.70" stroke="#333" stroke-width="0.7" />
<rect x="496.70" y="153.20" width="9.50" height="50.00" fill="#9999ff" stroke="#6c6ccc" stroke-width="0.6" />
<line x1="501.45" y1="150.00" x2="501.45" y2="156.00" stroke="#333" stroke-width="0.8" />
<line x1="500.15" y1="150.00" x2="502.75" y2="150.00" stroke="#333" stroke-width="0.7" />
<line x1="500.15" y1="156.00" x2="502.75" y2="156.00" stroke="#333" stroke-width="0.7" />
<text transform="translate(415.80,209.80) rotate(-90)" font-size="8" text-anchor="end" font-weight="normal" fill="#1e1e1e" style="stroke-width:0.14px">blank</text>
<text transform="translate(435.20,208.60) rotate(-90)" font-size="8" text-anchor="end" font-weight="normal" fill="#1e1e1e" style="stroke-width:0.14px">No Drug</text>
<text transform="translate(451.40,227.00) rotate(-90)" font-size="7.9" text-anchor="middle" font-weight="normal" fill="#1e1e1e" style="stroke-width:0.14px">10nM</text>
<text transform="translate(458.00,225.70) rotate(-90)" font-size="8.1" text-anchor="middle" font-weight="normal" fill="#1e1e1e" style="stroke-width:0.14px">Rapamycin</text>
<text transform="translate(481.90,208.60) rotate(-90)" font-size="8" text-anchor="end" font-weight="normal" fill="#1e1e1e" style="stroke-width:0.14px">ZVAD FMK</text>
<text transform="translate(500.10,207.40) rotate(-90)" font-size="8" text-anchor="end" font-weight="normal" fill="#1e1e1e" style="stroke-width:0.14px">Positive ctrl</text>
<text transform="translate(507.30,206.50) rotate(-90)" font-size="8" text-anchor="end" font-weight="normal" fill="#1e1e1e" style="stroke-width:0.14px">(50uM u0126)</text>
<defs><pattern id="hatch" patternUnits="userSpaceOnUse" width="2.2" height="2.2" patternTransform="rotate(40)"><rect width="2.2" height="2.2" fill="#eeeef8"/><line x1="0" y1="0" x2="0" y2="2.2" stroke="#33338f" stroke-width="0.85"/></pattern></defs>
<line x1="37.30" y1="261.00" x2="37.30" y2="344.40" stroke="#444" stroke-width="0.8" />
<line x1="37.30" y1="344.40" x2="160.60" y2="344.40" stroke="#444" stroke-width="0.8" />
<line x1="35.50" y1="344.40" x2="37.30" y2="344.40" stroke="#555" stroke-width="0.5" />
<line x1="36.20" y1="340.23" x2="37.30" y2="340.23" stroke="#555" stroke-width="0.5" />
<line x1="36.20" y1="336.06" x2="37.30" y2="336.06" stroke="#555" stroke-width="0.5" />
<line x1="36.20" y1="331.89" x2="37.30" y2="331.89" stroke="#555" stroke-width="0.5" />
<line x1="35.50" y1="327.72" x2="37.30" y2="327.72" stroke="#555" stroke-width="0.5" />
<line x1="36.20" y1="323.55" x2="37.30" y2="323.55" stroke="#555" stroke-width="0.5" />
<line x1="36.20" y1="319.38" x2="37.30" y2="319.38" stroke="#555" stroke-width="0.5" />
<line x1="36.20" y1="315.21" x2="37.30" y2="315.21" stroke="#555" stroke-width="0.5" />
<line x1="35.50" y1="311.04" x2="37.30" y2="311.04" stroke="#555" stroke-width="0.5" />
<line x1="36.20" y1="306.87" x2="37.30" y2="306.87" stroke="#555" stroke-width="0.5" />
<line x1="36.20" y1="302.70" x2="37.30" y2="302.70" stroke="#555" stroke-width="0.5" />
<line x1="36.20" y1="298.53" x2="37.30" y2="298.53" stroke="#555" stroke-width="0.5" />
<line x1="35.50" y1="294.36" x2="37.30" y2="294.36" stroke="#555" stroke-width="0.5" />
<line x1="36.20" y1="290.19" x2="37.30" y2="290.19" stroke="#555" stroke-width="0.5" />
<line x1="36.20" y1="286.02" x2="37.30" y2="286.02" stroke="#555" stroke-width="0.5" />
<line x1="36.20" y1="281.85" x2="37.30" y2="281.85" stroke="#555" stroke-width="0.5" />
<line x1="35.50" y1="277.68" x2="37.30" y2="277.68" stroke="#555" stroke-width="0.5" />
<line x1="36.20" y1="273.51" x2="37.30" y2="273.51" stroke="#555" stroke-width="0.5" />
<line x1="36.20" y1="269.34" x2="37.30" y2="269.34" stroke="#555" stroke-width="0.5" />
<line x1="36.20" y1="265.17" x2="37.30" y2="265.17" stroke="#555" stroke-width="0.5" />
<line x1="35.50" y1="261.00" x2="37.30" y2="261.00" stroke="#555" stroke-width="0.5" />
<text transform="translate(34.70,327.72) rotate(-90)" font-size="3.8" text-anchor="middle" fill="#777" style="stroke:none">20</text>
<text transform="translate(34.70,311.04) rotate(-90)" font-size="3.8" text-anchor="middle" fill="#777" style="stroke:none">40</text>
<text transform="translate(34.70,294.36) rotate(-90)" font-size="3.8" text-anchor="middle" fill="#777" style="stroke:none">60</text>
<text transform="translate(34.70,277.68) rotate(-90)" font-size="3.8" text-anchor="middle" fill="#777" style="stroke:none">80</text>
<text transform="translate(34.70,261.00) rotate(-90)" font-size="3.8" text-anchor="middle" fill="#777" style="stroke:none">100</text>
<text transform="translate(30.30,304.70) rotate(-90)" font-size="4" text-anchor="middle" fill="#888" style="stroke:none">Number</text>
<line x1="37.30" y1="344.40" x2="37.30" y2="346.20" stroke="#555" stroke-width="0.5" />
<line x1="42.23" y1="344.40" x2="42.23" y2="345.40" stroke="#555" stroke-width="0.5" />
<line x1="47.16" y1="344.40" x2="47.16" y2="345.40" stroke="#555" stroke-width="0.5" />
<line x1="52.10" y1="344.40" x2="52.10" y2="345.40" stroke="#555" stroke-width="0.5" />
<line x1="57.03" y1="344.40" x2="57.03" y2="345.40" stroke="#555" stroke-width="0.5" />
<line x1="61.96" y1="344.40" x2="61.96" y2="346.20" stroke="#555" stroke-width="0.5" />
<line x1="66.89" y1="344.40" x2="66.89" y2="345.40" stroke="#555" stroke-width="0.5" />
<line x1="71.82" y1="344.40" x2="71.82" y2="345.40" stroke="#555" stroke-width="0.5" />
<line x1="76.76" y1="344.40" x2="76.76" y2="345.40" stroke="#555" stroke-width="0.5" />
<line x1="81.69" y1="344.40" x2="81.69" y2="345.40" stroke="#555" stroke-width="0.5" />
<line x1="86.62" y1="344.40" x2="86.62" y2="346.20" stroke="#555" stroke-width="0.5" />
<line x1="91.55" y1="344.40" x2="91.55" y2="345.40" stroke="#555" stroke-width="0.5" />
<line x1="96.48" y1="344.40" x2="96.48" y2="345.40" stroke="#555" stroke-width="0.5" />
<line x1="101.42" y1="344.40" x2="101.42" y2="345.40" stroke="#555" stroke-width="0.5" />
<line x1="106.35" y1="344.40" x2="106.35" y2="345.40" stroke="#555" stroke-width="0.5" />
<line x1="111.28" y1="344.40" x2="111.28" y2="346.20" stroke="#555" stroke-width="0.5" />
<line x1="116.21" y1="344.40" x2="116.21" y2="345.40" stroke="#555" stroke-width="0.5" />
<line x1="121.14" y1="344.40" x2="121.14" y2="345.40" stroke="#555" stroke-width="0.5" />
<line x1="126.08" y1="344.40" x2="126.08" y2="345.40" stroke="#555" stroke-width="0.5" />
<line x1="131.01" y1="344.40" x2="131.01" y2="345.40" stroke="#555" stroke-width="0.5" />
<line x1="135.94" y1="344.40" x2="135.94" y2="346.20" stroke="#555" stroke-width="0.5" />
<line x1="140.87" y1="344.40" x2="140.87" y2="345.40" stroke="#555" stroke-width="0.5" />
<line x1="145.80" y1="344.40" x2="145.80" y2="345.40" stroke="#555" stroke-width="0.5" />
<line x1="150.74" y1="344.40" x2="150.74" y2="345.40" stroke="#555" stroke-width="0.5" />
<line x1="155.67" y1="344.40" x2="155.67" y2="345.40" stroke="#555" stroke-width="0.5" />
<line x1="160.60" y1="344.40" x2="160.60" y2="346.20" stroke="#555" stroke-width="0.5" />
<text x="37.30" y="349.60" font-size="3.8" text-anchor="middle" fill="#888" style="stroke:none">0</text>
<text x="61.96" y="349.60" font-size="3.8" text-anchor="middle" fill="#888" style="stroke:none">50</text>
<text x="86.62" y="349.60" font-size="3.8" text-anchor="middle" fill="#888" style="stroke:none">100</text>
<text x="111.28" y="349.60" font-size="3.8" text-anchor="middle" fill="#888" style="stroke:none">150</text>
<text x="135.94" y="349.60" font-size="3.8" text-anchor="middle" fill="#888" style="stroke:none">200</text>
<text x="160.60" y="349.60" font-size="3.8" text-anchor="middle" fill="#888" style="stroke:none">250</text>
<text x="71.00" y="353.00" font-size="4.6" textLength="46" lengthAdjust="spacingAndGlyphs" fill="#8a8ab0" style="stroke:none">Channels (FL2-A-FL2-Area)</text>
<polygon points="62.0,344.4 62.1,342.6 62.5,338.4 62.8,334.2 63.2,332.1 63.5,331.7 63.9,331.2 64.2,331.2 64.6,331.3 64.9,331.4 65.3,331.5 65.6,331.6 66.0,331.7 66.3,331.8 66.7,331.9 67.0,332.0 67.4,332.1 67.8,332.2 68.1,332.3 68.4,332.4 68.8,332.5 69.1,332.6 69.5,332.8 69.8,332.9 70.2,333.0 70.5,333.2 70.9,333.3 71.2,333.5 71.6,333.6 71.9,333.8 72.3,334.0 72.6,334.1 73.0,334.3 73.3,334.4 73.7,334.6 74.0,334.8 74.4,334.9 74.8,335.1 75.1,335.3 75.4,335.5 75.8,335.6 76.1,335.8 76.5,336.0 76.8,336.2 77.2,336.4 77.5,336.6 77.9,336.8 78.2,337.0 78.6,337.2 78.9,337.4 79.3,337.6 79.6,337.8 80.0,338.0 80.3,338.8 80.7,339.6 81.0,340.4 81.4,341.2 81.8,342.1 82.1,343.2 82.4,344.2 82.5,344.4" stroke="none" fill="#d8d8ee" stroke-width="1" />
<polyline points="86.3,343.2 86.6,343.2 87.0,343.2 87.3,343.2 87.7,343.2 88.0,343.2 88.4,343.2 88.8,343.2 89.1,343.2 89.4,343.2 89.8,343.2 90.1,343.2 90.5,343.2 90.8,343.2 91.2,343.2 91.5,343.2 91.9,343.2 92.2,343.2 92.6,343.2 92.9,343.2 93.3,343.1 93.6,343.1 94.0,343.1 94.3,343.1 94.7,343.1 95.0,343.1 95.4,343.1 95.8,343.1 96.1,343.1 96.4,343.1 96.8,343.1 97.1,343.1 97.5,343.1 97.8,343.1 98.2,343.1 98.5,343.1 98.9,343.1 99.2,343.1 99.6,343.1 99.9,343.1 100.3,343.1 100.6,343.1 101.0,343.1 101.3,343.1 101.7,343.1 102.0,343.1 102.4,343.1 102.8,343.1 103.1,343.1 103.4,343.2 103.8,343.2 104.1,343.2 104.5,343.2 104.8,343.2 105.2,343.2 105.5,343.2 105.9,343.2 106.2,343.2 106.6,343.2 106.9,343.2 107.3,343.2 107.6,343.2 108.0,343.2 108.3,343.2 108.7,343.2 109.0,343.2 109.4,343.2 109.7,343.2 110.1,343.3 110.4,343.3 110.8,343.3 111.1,343.3 111.5,343.3 111.8,343.3 112.2,343.3 112.5,343.3 112.9,343.3 113.2,343.3 113.6,343.3 113.9,343.3 114.3,343.3 114.6,343.3 115.0,343.3 115.3,343.3 115.7,343.3 116.0,343.3 116.4,343.3 116.7,343.4 117.1,343.4 117.4,343.4 117.8,343.4 118.1,343.4 118.5,343.4 118.8,343.4 119.2,343.4 119.5,343.4 119.9,343.4 120.2,343.4 120.6,343.4 120.9,343.4 121.3,343.4 121.6,343.4 122.0,343.4 122.3,343.4 122.7,343.4 123.0,343.4 123.4,343.4 123.7,343.4 124.1,343.5 124.4,343.5 124.8,343.5 125.1,343.5 125.5,343.5 125.8,343.5 126.2,343.5 126.5,343.5 126.9,343.5 127.2,343.5 127.6,343.5 127.9,343.5 128.3,343.5 128.6,343.5 129.0,343.5 129.3,343.5 129.7,343.5 130.1,343.5 130.4,343.5 130.8,343.5 131.1,343.5 131.4,343.5 131.8,343.5 132.1,343.6 132.5,343.6 132.8,343.6 133.2,343.6 133.6,343.6 133.9,343.6 134.2,343.6 134.6,343.6 134.9,343.6 135.3,343.6 135.6,343.6 136.0,343.6 136.3,343.6 136.7,343.6 137.1,343.6 137.4,343.6 137.8,343.6 138.1,343.6 138.4,343.6 138.8,343.6 139.1,343.6 139.5,343.6 139.8,343.6 140.2,343.7 140.6,343.7 140.9,343.7 141.2,343.7 141.6,343.7 141.9,343.7 142.3,343.7 142.6,343.7 143.0,343.7 143.3,343.7 143.7,343.7 144.1,343.7 144.4,343.7 144.8,343.7 145.1,343.7 145.4,343.7 145.8,343.7 146.1,343.7 146.5,343.7 146.8,343.7 147.2,343.7 147.6,343.7 147.9,343.7 148.2,343.8 148.6,343.8 148.9,343.8 149.3,343.8 149.6,343.8 150.0,343.8 150.3,343.8 150.7,343.8 151.0,343.8 151.4,343.8 151.8,343.8 152.1,343.8 152.4,343.8 152.8,343.8 153.1,343.8 153.5,343.8 153.8,343.8 154.2,343.8 154.5,343.8 154.9,343.8 155.2,343.8 155.6,343.8 155.9,343.8 156.3,343.9 156.6,343.9 157.0,343.9 157.3,343.9 157.7,343.9 158.0,343.9 158.4,343.9 158.8,343.9 159.1,343.9 159.4,343.9 159.8,343.9" stroke="#66bb66" fill="none" stroke-width="0.8" />
<polygon points="52.0,344.4 52.0,344.4 52.3,344.3 52.7,344.3 53.0,344.3 53.4,344.2 53.8,344.1 54.1,344.0 54.4,343.8 54.8,343.6 55.1,343.2 55.5,342.5 55.8,341.3 56.2,339.5 56.5,336.8 56.9,332.8 57.2,327.3 57.6,320.2 57.9,311.9 58.3,302.8 58.6,293.9 59.0,286.4 59.3,281.3 59.7,279.4 60.0,281.1 60.4,286.1 60.8,293.5 61.1,302.3 61.4,311.3 61.8,319.6 62.1,326.7 62.5,332.2 62.8,336.2 63.2,339.0 63.5,340.8 63.9,342.0 64.2,342.8 64.6,343.2 64.9,343.6 65.3,343.8 65.6,343.9 66.0,344.1 66.3,344.2 66.7,344.2 67.0,344.3 67.4,344.3 67.4,344.4" stroke="#8a0000" fill="#e31b1b" stroke-width="0.4" />
<polygon points="75.4,344.4 75.4,344.3 75.8,344.3 76.1,344.2 76.5,344.1 76.8,344.0 77.2,343.8 77.5,343.6 77.9,343.4 78.2,343.1 78.6,342.7 78.9,342.3 79.3,341.9 79.6,341.4 80.0,341.0 80.3,340.6 80.7,340.3 81.0,340.0 81.4,339.8 81.8,339.8 82.1,339.9 82.4,340.1 82.8,340.3 83.1,340.7 83.5,341.1 83.8,341.5 84.2,342.0 84.5,342.4 84.9,342.8 85.2,343.1 85.6,343.4 85.9,343.7 86.3,343.9 86.6,344.0 87.0,344.1 87.3,344.2 87.7,344.3 88.0,344.3 88.0,344.4" stroke="#8a0000" fill="#c0102a" stroke-width="0.4" />
<line x1="59.70" y1="266.27" x2="59.70" y2="280.40" stroke="#5aa" stroke-width="1.1" />
<polyline points="53.0,340.9 53.4,339.6 53.8,337.9 54.1,336.2 54.4,334.4 54.8,333.3 55.1,332.8 55.5,332.0 55.8,330.8 56.2,329.0 56.5,326.2 56.9,322.2 57.2,316.8 57.6,309.9 57.9,301.8 58.3,292.9 58.6,284.2 59.0,276.8 59.3,271.7 59.7,269.7 60.0,271.1 60.4,275.6 60.8,282.5 61.1,290.6 61.4,298.8 61.8,306.3 62.1,312.7 62.5,317.5 62.8,320.9 63.2,323.2 63.5,324.6 63.9,325.6 64.2,327.1 64.6,328.3 64.9,329.3 65.3,330.3 65.6,331.1 66.0,331.3 66.3,331.5 66.7,331.7 67.0,331.9 67.4,332.1 67.8,332.2 68.1,332.4 68.4,332.5 68.8,332.7 69.1,332.8 69.5,333.0 69.8,333.2 70.2,333.4 70.5,333.5 70.9,333.7 71.2,333.9 71.6,334.0 71.9,334.2 72.3,334.1 72.6,334.0 73.0,333.9 73.3,333.9 73.7,333.8 74.0,333.7 74.4,333.6 74.8,333.5 75.1,333.5 75.4,333.4 75.8,333.3 76.1,333.2 76.5,332.9 76.8,332.7 77.2,332.5 77.5,332.3 77.9,332.1 78.2,331.8 78.6,331.6 78.9,331.4 79.3,331.3 79.6,331.1 80.0,331.0 80.3,330.9 80.7,330.8 81.0,330.6 81.4,331.1 81.8,331.7 82.1,332.3 82.4,332.8 82.8,333.4 83.1,334.1 83.5,335.0 83.8,336.0 84.2,336.9 84.5,337.8 84.9,338.7 85.2,339.6 85.6,340.5" stroke="#777" fill="none" stroke-width="0.5" />
<polyline points="37.3,343.8 37.6,343.7 38.0,343.6 38.3,343.6 38.7,343.5 39.0,343.3 39.4,342.8 39.8,342.2 40.1,341.7 40.4,341.8 40.8,342.2 41.1,342.7 41.5,343.1 41.8,343.2 42.2,343.3 42.5,343.3 42.9,343.4 43.2,343.4 43.6,343.4 43.9,343.5 44.3,343.5 44.6,343.6 45.0,343.6 45.3,343.6 45.7,343.6 46.0,343.5 46.4,343.5 46.8,343.5 47.1,343.5 47.4,343.5 47.8,343.4 48.1,343.4 48.5,343.4 48.8,343.4 49.2,343.4 49.5,343.3 49.9,343.3 50.2,343.3 50.6,343.3 50.9,343.3 51.3,343.2 51.6,343.2 52.0,343.2 52.3,342.9 52.7,341.5 53.0,340.1 53.4,338.6 53.8,336.9 54.1,335.0 54.4,333.1 54.8,332.0 55.1,331.4 55.5,330.6 55.8,329.3 56.2,327.4 56.5,324.4 56.9,320.2 57.2,314.4 57.6,307.1 57.9,298.4 58.3,289.0 58.6,279.7 59.0,271.8 59.3,266.4 59.7,264.3 60.0,265.8 60.4,270.6 60.8,277.9 61.1,286.5 61.4,295.3 61.8,303.3 62.1,310.0 62.5,315.1 62.8,318.8 63.2,321.2 63.5,322.7 63.9,323.8 64.2,325.3 64.6,326.6 64.9,327.7 65.3,328.7 65.6,329.6 66.0,329.8 66.3,330.1 66.7,330.3 67.0,330.5 67.4,330.7 67.8,330.8 68.1,331.0 68.4,331.1 68.8,331.3 69.1,331.5 69.5,331.7 69.8,331.8 70.2,332.0 70.5,332.2 70.9,332.4 71.2,332.6 71.6,332.7 71.9,332.9 72.3,332.8 72.6,332.7 73.0,332.6 73.3,332.5 73.7,332.5 74.0,332.4 74.4,332.3 74.8,332.2 75.1,332.1 75.4,332.0 75.8,331.9 76.1,331.8 76.5,331.6 76.8,331.3 77.2,331.1 77.5,330.9 77.9,330.6 78.2,330.4 78.6,330.2 78.9,329.9 79.3,329.8 79.6,329.7 80.0,329.5 80.3,329.4 80.7,329.3 81.0,329.1 81.4,329.6 81.8,330.2 82.1,330.8 82.4,331.4 82.8,332.1 83.1,332.8 83.5,333.8 83.8,334.8 84.2,335.8 84.5,336.7 84.9,337.7 85.2,338.7 85.6,339.6 85.9,340.4 86.3,341.2 86.6,342.0 87.0,342.8 87.3,342.8 87.7,342.8 88.0,342.8 88.4,342.8 88.8,342.8 89.1,342.8 89.4,342.8 89.8,342.8 90.1,342.8 90.5,342.9 90.8,342.9 91.2,342.9 91.5,342.9 91.9,342.9 92.2,342.9 92.6,342.9 92.9,342.9 93.3,342.9 93.6,342.9 94.0,342.9 94.3,342.9 94.7,342.9 95.0,342.9 95.4,342.9 95.8,342.9 96.1,342.9 96.4,342.9 96.8,343.0 97.1,343.0 97.5,343.0 97.8,343.0 98.2,343.0 98.5,343.0 98.9,343.0 99.2,343.0 99.6,343.0 99.9,343.0 100.3,343.0 100.6,343.0 101.0,343.0 101.3,343.0 101.7,343.0 102.0,343.0 102.4,343.0 102.8,343.0 103.1,343.0 103.4,343.1 103.8,343.1 104.1,343.1 104.5,343.1 104.8,343.1 105.2,343.1 105.5,343.1 105.9,343.1 106.2,343.1 106.6,343.1 106.9,343.1 107.3,343.1 107.6,343.1 108.0,343.1 108.3,343.1 108.7,343.1 109.0,343.1 109.4,343.2 109.7,343.2 110.1,343.2 110.4,343.2 110.8,343.2 111.1,343.2 111.5,343.2 111.8,343.2 112.2,343.2 112.5,343.2 112.9,343.2 113.2,343.2 113.6,343.2 113.9,343.2 114.3,343.2 114.6,343.2 115.0,343.2 115.3,343.2 115.7,343.3 116.0,343.3 116.4,343.3 116.7,343.3 117.1,343.3 117.4,343.3 117.8,343.3 118.1,343.3 118.5,343.3 118.8,343.3 119.2,343.3 119.5,343.3 119.9,343.3 120.2,343.3 120.6,343.3 120.9,343.3 121.3,343.3 121.6,343.3 122.0,343.4 122.3,343.4 122.7,343.4 123.0,343.4 123.4,343.4 123.7,343.4 124.1,343.4 124.4,343.4 124.8,343.4 125.1,343.4 125.5,343.4 125.8,343.4 126.2,343.4 126.5,343.4 126.9,343.4 127.2,343.4 127.6,343.4 127.9,343.4 128.3,343.4 128.6,343.4 129.0,343.4 129.3,343.4 129.7,343.5 130.1,343.5 130.4,343.5 130.8,343.5 131.1,343.5 131.4,343.5 131.8,343.5 132.1,343.5 132.5,343.5 132.8,343.5 133.2,343.5 133.6,343.5 133.9,343.5 134.2,343.5 134.6,343.5 134.9,343.5 135.3,343.5 135.6,343.5 136.0,343.5 136.3,343.5 136.7,343.5 137.1,343.5 137.4,343.5 137.8,343.5 138.1,343.5 138.4,343.6 138.8,343.6 139.1,343.6 139.5,343.6 139.8,343.6 140.2,343.6 140.6,343.6 140.9,343.6 141.2,343.6 141.6,343.6 141.9,343.6 142.3,343.6 142.6,343.6 143.0,343.6 143.3,343.6 143.7,343.6 144.1,343.6 144.4,343.6 144.8,343.6 145.1,343.6 145.4,343.6 145.8,343.6 146.1,343.6 146.5,343.6 146.8,343.6 147.2,343.7 147.6,343.7 147.9,343.7 148.2,343.7 148.6,343.7 148.9,343.7 149.3,343.7 149.6,343.7 150.0,343.7 150.3,343.7 150.7,343.7 151.0,343.7 151.4,343.7 151.8,343.7 152.1,343.7 152.4,343.7 152.8,343.7 153.1,343.7 153.5,343.7 153.8,343.7 154.2,343.7 154.5,343.7 154.9,343.7 155.2,343.7 155.6,343.7 155.9,343.8 156.3,343.8 156.6,343.8 157.0,343.8 157.3,343.8 157.7,343.8 158.0,343.8 158.4,343.8 158.8,343.8 159.1,343.8 159.4,343.8 159.8,343.8 160.1,343.8 160.5,343.8" stroke="#151515" fill="none" stroke-width="0.85" stroke-linejoin="round"/>
<line x1="43.20" y1="363.00" x2="43.20" y2="429.10" stroke="#444" stroke-width="0.8" />
<line x1="43.20" y1="429.10" x2="164.90" y2="429.10" stroke="#444" stroke-width="0.8" />
<line x1="41.40" y1="429.10" x2="43.20" y2="429.10" stroke="#555" stroke-width="0.5" />
<line x1="42.10" y1="425.80" x2="43.20" y2="425.80" stroke="#555" stroke-width="0.5" />
<line x1="42.10" y1="422.49" x2="43.20" y2="422.49" stroke="#555" stroke-width="0.5" />
<line x1="42.10" y1="419.19" x2="43.20" y2="419.19" stroke="#555" stroke-width="0.5" />
<line x1="41.40" y1="415.88" x2="43.20" y2="415.88" stroke="#555" stroke-width="0.5" />
<line x1="42.10" y1="412.58" x2="43.20" y2="412.58" stroke="#555" stroke-width="0.5" />
<line x1="42.10" y1="409.27" x2="43.20" y2="409.27" stroke="#555" stroke-width="0.5" />
<line x1="42.10" y1="405.97" x2="43.20" y2="405.97" stroke="#555" stroke-width="0.5" />
<line x1="41.40" y1="402.66" x2="43.20" y2="402.66" stroke="#555" stroke-width="0.5" />
<line x1="42.10" y1="399.36" x2="43.20" y2="399.36" stroke="#555" stroke-width="0.5" />
<line x1="42.10" y1="396.05" x2="43.20" y2="396.05" stroke="#555" stroke-width="0.5" />
<line x1="42.10" y1="392.75" x2="43.20" y2="392.75" stroke="#555" stroke-width="0.5" />
<line x1="41.40" y1="389.44" x2="43.20" y2="389.44" stroke="#555" stroke-width="0.5" />
<line x1="42.10" y1="386.13" x2="43.20" y2="386.13" stroke="#555" stroke-width="0.5" />
<line x1="42.10" y1="382.83" x2="43.20" y2="382.83" stroke="#555" stroke-width="0.5" />
<line x1="42.10" y1="379.52" x2="43.20" y2="379.52" stroke="#555" stroke-width="0.5" />
<line x1="41.40" y1="376.22" x2="43.20" y2="376.22" stroke="#555" stroke-width="0.5" />
<line x1="42.10" y1="372.92" x2="43.20" y2="372.92" stroke="#555" stroke-width="0.5" />
<line x1="42.10" y1="369.61" x2="43.20" y2="369.61" stroke="#555" stroke-width="0.5" />
<line x1="42.10" y1="366.31" x2="43.20" y2="366.31" stroke="#555" stroke-width="0.5" />
<line x1="41.40" y1="363.00" x2="43.20" y2="363.00" stroke="#555" stroke-width="0.5" />
<text transform="translate(40.60,415.88) rotate(-90)" font-size="3.8" text-anchor="middle" fill="#777" style="stroke:none">20</text>
<text transform="translate(40.60,402.66) rotate(-90)" font-size="3.8" text-anchor="middle" fill="#777" style="stroke:none">40</text>
<text transform="translate(40.60,389.44) rotate(-90)" font-size="3.8" text-anchor="middle" fill="#777" style="stroke:none">60</text>
<text transform="translate(40.60,376.22) rotate(-90)" font-size="3.8" text-anchor="middle" fill="#777" style="stroke:none">80</text>
<text transform="translate(40.60,363.00) rotate(-90)" font-size="3.8" text-anchor="middle" fill="#777" style="stroke:none">100</text>
<text transform="translate(36.20,398.05) rotate(-90)" font-size="4" text-anchor="middle" fill="#888" style="stroke:none">Number</text>
<line x1="43.20" y1="429.10" x2="43.20" y2="430.90" stroke="#555" stroke-width="0.5" />
<line x1="48.07" y1="429.10" x2="48.07" y2="430.10" stroke="#555" stroke-width="0.5" />
<line x1="52.94" y1="429.10" x2="52.94" y2="430.10" stroke="#555" stroke-width="0.5" />
<line x1="57.80" y1="429.10" x2="57.80" y2="430.10" stroke="#555" stroke-width="0.5" />
<line x1="62.67" y1="429.10" x2="62.67" y2="430.10" stroke="#555" stroke-width="0.5" />
<line x1="67.54" y1="429.10" x2="67.54" y2="430.90" stroke="#555" stroke-width="0.5" />
<line x1="72.41" y1="429.10" x2="72.41" y2="430.10" stroke="#555" stroke-width="0.5" />
<line x1="77.28" y1="429.10" x2="77.28" y2="430.10" stroke="#555" stroke-width="0.5" />
<line x1="82.14" y1="429.10" x2="82.14" y2="430.10" stroke="#555" stroke-width="0.5" />
<line x1="87.01" y1="429.10" x2="87.01" y2="430.10" stroke="#555" stroke-width="0.5" />
<line x1="91.88" y1="429.10" x2="91.88" y2="430.90" stroke="#555" stroke-width="0.5" />
<line x1="96.75" y1="429.10" x2="96.75" y2="430.10" stroke="#555" stroke-width="0.5" />
<line x1="101.62" y1="429.10" x2="101.62" y2="430.10" stroke="#555" stroke-width="0.5" />
<line x1="106.48" y1="429.10" x2="106.48" y2="430.10" stroke="#555" stroke-width="0.5" />
<line x1="111.35" y1="429.10" x2="111.35" y2="430.10" stroke="#555" stroke-width="0.5" />
<line x1="116.22" y1="429.10" x2="116.22" y2="430.90" stroke="#555" stroke-width="0.5" />
<line x1="121.09" y1="429.10" x2="121.09" y2="430.10" stroke="#555" stroke-width="0.5" />
<line x1="125.96" y1="429.10" x2="125.96" y2="430.10" stroke="#555" stroke-width="0.5" />
<line x1="130.82" y1="429.10" x2="130.82" y2="430.10" stroke="#555" stroke-width="0.5" />
<line x1="135.69" y1="429.10" x2="135.69" y2="430.10" stroke="#555" stroke-width="0.5" />
<line x1="140.56" y1="429.10" x2="140.56" y2="430.90" stroke="#555" stroke-width="0.5" />
<line x1="145.43" y1="429.10" x2="145.43" y2="430.10" stroke="#555" stroke-width="0.5" />
<line x1="150.30" y1="429.10" x2="150.30" y2="430.10" stroke="#555" stroke-width="0.5" />
<line x1="155.16" y1="429.10" x2="155.16" y2="430.10" stroke="#555" stroke-width="0.5" />
<line x1="160.03" y1="429.10" x2="160.03" y2="430.10" stroke="#555" stroke-width="0.5" />
<line x1="164.90" y1="429.10" x2="164.90" y2="430.90" stroke="#555" stroke-width="0.5" />
<text x="43.20" y="434.30" font-size="3.8" text-anchor="middle" fill="#888" style="stroke:none">0</text>
<text x="67.54" y="434.30" font-size="3.8" text-anchor="middle" fill="#888" style="stroke:none">50</text>
<text x="91.88" y="434.30" font-size="3.8" text-anchor="middle" fill="#888" style="stroke:none">100</text>
<text x="116.22" y="434.30" font-size="3.8" text-anchor="middle" fill="#888" style="stroke:none">150</text>
<text x="140.56" y="434.30" font-size="3.8" text-anchor="middle" fill="#888" style="stroke:none">200</text>
<text x="164.90" y="434.30" font-size="3.8" text-anchor="middle" fill="#888" style="stroke:none">250</text>
<text x="81.80" y="437.70" font-size="4.6" textLength="45" lengthAdjust="spacingAndGlyphs" fill="#8a8ab0" style="stroke:none">Channels (FL2-A-FL2-Area)</text>
<polygon points="43.3,429.1 43.6,417.4 43.9,415.2 44.2,415.2 44.6,415.3 45.0,415.4 45.3,415.5 45.7,415.5 46.0,415.6 46.4,415.8 46.7,416.0 47.1,416.3 47.4,416.5 47.8,416.7 48.1,416.9 48.5,417.1 48.8,417.4 49.2,417.6 49.5,417.8 49.9,418.0 50.2,418.2 50.6,418.3 50.9,418.4 51.2,418.5 51.6,418.6 52.0,418.7 52.3,418.8 52.7,418.9 53.0,419.0 53.4,419.1 53.7,419.2 54.1,419.3 54.4,419.4 54.8,419.5 55.1,419.6 55.5,419.7 55.8,419.8 56.2,419.8 56.5,419.9 56.9,420.0 57.2,420.0 57.6,420.1 57.9,420.2 58.2,420.2 58.6,420.3 59.0,420.4 59.3,420.5 59.7,420.5 60.0,420.6 60.4,420.6 60.7,420.7 61.0,420.7 61.4,420.8 61.8,420.8 62.1,420.9 62.5,420.9 62.8,421.0 63.2,421.0 63.5,421.0 63.9,421.1 64.2,422.2 64.5,424.0 64.9,425.9 65.2,427.8 65.5,429.1" stroke="none" fill="#c6c6ee" stroke-width="1" />
<polygon points="71.0,429.1 71.2,428.0 71.5,426.1 71.9,424.1 72.2,423.6 72.6,423.6 73.0,423.7 73.3,423.7 73.7,423.7 74.0,423.7 74.3,423.7 74.7,423.8 75.0,423.8 75.4,423.8 75.8,423.8 76.1,423.9 76.5,423.9 76.8,423.9 77.2,423.9 77.5,423.9 77.8,424.0 78.2,424.0 78.5,424.0 78.9,424.0 79.2,424.1 79.6,424.1 80.0,424.1 80.3,424.1 80.7,424.2 81.0,424.2 81.3,424.2 81.7,424.2 82.0,424.3 82.4,424.3 82.8,424.3 83.1,424.4 83.5,424.4 83.8,424.4 84.2,424.4 84.5,424.5 84.8,424.5 85.2,424.5 85.5,424.6 85.9,424.6 86.2,425.2 86.6,425.9 87.0,426.7 87.3,427.5 87.7,428.3 88.0,429.1 88.0,429.1" stroke="none" fill="#d4d4ee" stroke-width="1" />
<polyline points="101.3,427.3 101.7,427.3 102.0,427.2 102.3,427.2 102.7,427.2 103.0,427.2 103.4,427.1 103.8,427.1 104.1,427.1 104.4,427.1 104.8,427.0 105.2,427.0 105.5,427.0 105.8,427.0 106.2,427.0 106.5,426.9 106.9,426.9 107.2,426.9 107.6,426.9 108.0,426.8 108.3,426.8 108.7,426.8 109.0,426.8 109.3,426.7 109.7,426.7 110.0,426.7 110.4,426.7 110.8,426.6 111.1,426.6 111.5,426.6 111.8,426.5 112.1,426.5 112.5,426.5 112.8,426.4 113.2,426.4 113.5,426.3 113.9,426.3 114.2,426.3 114.6,426.2 115.0,426.2 115.3,426.2 115.6,426.1 116.0,426.1 116.3,426.1 116.7,426.0 117.0,426.0 117.4,426.0 117.8,425.9 118.1,425.9 118.5,425.9 118.8,425.8 119.1,425.8 119.5,425.8 119.8,425.7 120.2,425.7 120.5,425.7 120.9,425.8 121.2,425.8 121.6,425.8 122.0,425.9 122.3,425.9 122.6,425.9 123.0,425.9 123.3,426.0 123.7,426.0 124.0,426.0 124.4,426.1 124.8,426.1 125.1,426.1 125.5,426.1 125.8,426.2 126.1,426.2 126.5,426.2 126.8,426.2 127.2,426.3 127.5,426.3 127.9,426.3 128.2,426.4 128.6,426.4 128.9,426.4 129.3,426.4 129.6,426.5 130.0,426.5 130.3,426.5 130.7,426.4 131.1,426.4 131.4,426.4 131.8,426.3 132.1,426.3 132.4,426.3 132.8,426.2 133.1,426.2 133.5,426.2 133.8,426.1 134.2,426.1 134.6,426.0 134.9,426.0 135.2,426.0 135.6,425.9 135.9,425.9 136.3,425.9 136.6,425.8 137.0,425.8 137.3,425.8 137.7,425.7 138.1,425.7 138.4,425.7 138.8,425.6 139.1,425.6 139.4,425.6 139.8,425.5 140.1,425.5 140.5,425.5 140.8,425.4 141.2,425.4 141.6,425.3 141.9,425.3 142.2,425.3 142.6,425.4 142.9,425.4 143.3,425.5 143.6,425.5 144.0,425.5 144.3,425.6 144.7,425.6 145.1,425.7 145.4,425.7 145.8,425.8 146.1,425.8 146.4,425.8 146.8,425.9 147.1,425.9 147.5,426.0 147.8,426.0 148.2,426.1 148.6,426.1 148.9,426.1 149.2,426.2 149.6,426.2 149.9,426.3 150.3,426.3 150.6,426.4 151.0,426.4 151.3,426.5 151.7,426.5 152.1,426.5 152.4,426.6 152.8,426.6 153.1,426.7 153.4,426.7 153.8,426.8 154.1,426.8 154.5,426.8 154.8,426.9 155.2,426.9 155.6,426.9 155.9,427.0 156.2,427.0 156.6,427.0 156.9,427.0 157.3,427.1 157.6,427.1 158.0,427.1 158.3,427.1 158.7,427.2 159.1,427.2 159.4,427.2 159.8,427.2 160.1,427.3 160.4,427.3 160.8,427.3 161.1,427.3 161.5,427.4 161.8,427.4 162.2,427.4 162.6,427.4 162.9,427.5 163.2,427.5 163.6,427.5 163.9,427.5 164.3,427.6 164.6,427.6" stroke="#66bb66" fill="none" stroke-width="0.8" />
<polygon points="60.4,429.1 60.4,429.1 60.7,429.1 61.0,429.0 61.4,429.0 61.8,429.0 62.1,428.9 62.5,428.9 62.8,428.8 63.2,428.7 63.5,428.5 63.9,428.2 64.2,427.7 64.5,426.9 64.9,425.7 65.2,423.9 65.6,421.1 66.0,417.4 66.3,412.5 66.7,406.7 67.0,400.0 67.3,393.3 67.7,387.1 68.0,382.3 68.4,379.6 68.8,379.3 69.1,381.6 69.5,386.1 69.8,392.0 70.2,398.7 70.5,405.3 70.8,411.3 71.2,416.3 71.5,420.2 71.9,423.1 72.2,425.1 72.6,426.4 73.0,427.3 73.3,427.8 73.7,428.2 74.0,428.4 74.3,428.6 74.7,428.7 75.0,428.8 75.4,428.9 75.8,429.0 76.1,429.0 76.5,429.0 76.8,429.1 76.8,429.1" stroke="#8a0000" fill="#e31b1b" stroke-width="0.4" />
<polygon points="86.2,429.1 86.2,428.7 86.6,428.6 87.0,428.3 87.3,428.0 87.7,427.6 88.0,427.0 88.3,426.3 88.7,425.4 89.0,424.3 89.4,422.9 89.8,421.4 90.1,419.6 90.5,417.5 90.8,415.3 91.2,412.9 91.5,410.4 91.8,407.9 92.2,405.5 92.5,403.2 92.9,401.1 93.2,399.4 93.6,398.2 94.0,397.4 94.3,397.1 94.7,397.4 95.0,398.2 95.3,399.4 95.7,401.1 96.0,403.2 96.4,405.5 96.8,407.9 97.1,410.4 97.5,412.9 97.8,415.3 98.2,417.5 98.5,419.6 98.8,421.4 99.2,422.9 99.5,424.3 99.9,425.4 100.2,426.3 100.6,427.0 100.9,427.6 101.3,428.0 101.7,428.3 102.0,428.6 102.3,428.7 102.3,429.1" stroke="#8a0000" fill="#e31b1b" stroke-width="0.4" />
<polyline points="43.6,424.2 43.9,420.6 44.2,417.1 44.6,413.3 45.0,409.4 45.3,408.5 45.7,409.7 46.0,410.8 46.4,412.0 46.7,412.7 47.1,413.5 47.4,414.3 47.8,415.0 48.1,415.6 48.5,415.8 48.8,415.9 49.2,416.0 49.5,416.1 49.9,416.3 50.2,416.4 50.6,416.5 50.9,416.6 51.2,416.8 51.6,416.9 52.0,417.0 52.3,417.2 52.7,417.3 53.0,417.4 53.4,417.5 53.7,417.6 54.1,417.6 54.4,417.7 54.8,417.8 55.1,417.9 55.5,417.9 55.8,418.0 56.2,418.1 56.5,418.1 56.9,418.2 57.2,418.3 57.6,418.3 57.9,418.4 58.2,418.4 58.6,418.5 59.0,418.5 59.3,418.6 59.7,418.6 60.0,418.6 60.4,418.7 60.7,418.7 61.0,418.7 61.4,418.7 61.8,418.8 62.1,418.8 62.5,418.7 62.8,418.7 63.2,418.6 63.5,418.5 63.9,418.2 64.2,417.8 64.5,417.0 64.9,415.9 65.2,414.0 65.6,411.4 66.0,407.7 66.3,402.8 66.7,396.9 67.0,390.3 67.3,383.5 67.7,377.3 68.0,372.5 68.4,369.7 68.8,369.4 69.1,371.7 69.5,376.1 69.8,381.9 70.2,388.5 70.5,395.1 70.8,401.0 71.2,406.0 71.5,409.8 71.9,412.6 72.2,414.6 72.6,415.9 73.0,416.7 73.3,417.3 73.7,417.6 74.0,417.8 74.3,418.0 74.7,418.1 75.0,418.1 75.4,418.0 75.8,417.9 76.1,417.8 76.5,417.7 76.8,417.6 77.2,417.4 77.5,417.4 77.8,417.6 78.2,417.7 78.5,417.9 78.9,418.0 79.2,418.1 79.6,418.3 80.0,418.4 80.3,418.4 80.7,418.5 81.0,418.5 81.3,418.5 81.7,418.6 82.0,418.6 82.4,418.6 82.8,418.7 83.1,418.7 83.5,418.7 83.8,418.8 84.2,418.8 84.5,418.8 84.8,418.9 85.2,418.8 85.5,418.6 85.9,418.5 86.2,418.3 86.6,418.1 87.0,418.0 87.3,417.8 87.7,417.6 88.0,417.5 88.3,416.3 88.7,415.1 89.0,413.9 89.4,412.7 89.8,411.6 90.1,410.4 90.5,409.2 90.8,407.2 91.2,405.0 91.5,402.9 91.8,400.8 92.2,398.6 92.5,396.6 92.9,395.0 93.2,393.4 93.6,391.9 94.0,390.3 94.3,388.7 94.7,389.8 95.0,390.9 95.3,392.0 95.7,393.1 96.0,394.3 96.4,396.4 96.8,398.5 97.1,400.6 97.5,402.7 97.8,404.8 98.2,406.9 98.5,409.0 98.8,410.5 99.2,411.9 99.5,413.4 99.9,414.8 100.2,416.3 100.6,417.7 100.9,419.2 101.3,419.7 101.7,420.2 102.0,420.6 102.3,421.1 102.7,421.5 103.0,421.9 103.4,422.4 103.8,422.8 104.1,423.1 104.4,423.2 104.8,423.2 105.2,423.2 105.5,423.3 105.8,423.3 106.2,423.4 106.5,423.4 106.9,423.4 107.2,423.5 107.6,423.5 108.0,423.6 108.3,423.6 108.7,423.6 109.0,423.7 109.3,423.7 109.7,423.7 110.0,423.8 110.4,423.8 110.8,423.7 111.1,423.7 111.5,423.7 111.8,423.7 112.1,423.7 112.5,423.6 112.8,423.6 113.2,423.6 113.5,423.6 113.9,423.6 114.2,423.5 114.6,423.5 115.0,423.5 115.3,423.4 115.6,423.4 116.0,423.3 116.3,423.2 116.7,423.1 117.0,423.0 117.4,423.0 117.8,422.9 118.1,422.8 118.5,422.7 118.8,422.6 119.1,422.6 119.5,422.7 119.8,422.8 120.2,423.0 120.5,423.1 120.9,423.2 121.2,423.4 121.6,423.5 122.0,423.6 122.3,423.8 122.6,423.9 123.0,424.1 123.3,424.1 123.7,424.2 124.0,424.2 124.4,424.3 124.8,424.3 125.1,424.4 125.5,424.4 125.8,424.5 126.1,424.5 126.5,424.6 126.8,424.6 127.2,424.7 127.5,424.7 127.9,424.8 128.2,424.8 128.6,424.7 128.9,424.7 129.3,424.6 129.6,424.6 130.0,424.5 130.3,424.5 130.7,424.4 131.1,424.3 131.4,424.3 131.8,424.2 132.1,424.2 132.4,424.1 132.8,424.1 133.1,424.0 133.5,424.0 133.8,423.9 134.2,423.9 134.6,423.8 134.9,423.8 135.2,423.7 135.6,423.7 135.9,423.6 136.3,423.4 136.6,423.2 137.0,423.0 137.3,422.7 137.7,422.5 138.1,422.3 138.4,422.1 138.8,421.9 139.1,421.7 139.4,421.6 139.8,421.5 140.1,421.4 140.5,421.3 140.8,421.2 141.2,421.1 141.6,421.0 141.9,420.9 142.2,421.0 142.6,421.1 142.9,421.3 143.3,421.4 143.6,421.6 144.0,421.7 144.3,421.9 144.7,422.0 145.1,422.2 145.4,422.4 145.8,422.7 146.1,422.9 146.4,423.1 146.8,423.4 147.1,423.6 147.5,423.8 147.8,424.1 148.2,424.3 148.6,424.5 148.9,424.7 149.2,425.0 149.6,425.2 149.9,425.4 150.3,425.5 150.6,425.6 151.0,425.7 151.3,425.7 151.7,425.8 152.1,425.9" stroke="#777" fill="none" stroke-width="0.5" />
<polyline points="43.2,427.1 43.6,423.3 43.9,419.5 44.2,415.6 44.6,411.6 45.0,407.5 45.3,406.5 45.7,407.8 46.0,409.0 46.4,410.2 46.7,411.0 47.1,411.9 47.4,412.7 47.8,413.5 48.1,414.1 48.5,414.3 48.8,414.4 49.2,414.5 49.5,414.7 49.9,414.8 50.2,414.9 50.6,415.1 50.9,415.2 51.2,415.3 51.6,415.5 52.0,415.6 52.3,415.8 52.7,415.9 53.0,416.0 53.4,416.1 53.7,416.2 54.1,416.3 54.4,416.3 54.8,416.4 55.1,416.5 55.5,416.6 55.8,416.6 56.2,416.7 56.5,416.8 56.9,416.9 57.2,416.9 57.6,417.0 57.9,417.1 58.2,417.1 58.6,417.2 59.0,417.2 59.3,417.3 59.7,417.3 60.0,417.3 60.4,417.4 60.7,417.4 61.0,417.4 61.4,417.4 61.8,417.5 62.1,417.5 62.5,417.4 62.8,417.4 63.2,417.3 63.5,417.1 63.9,416.9 64.2,416.4 64.5,415.6 64.9,414.4 65.2,412.4 65.6,409.6 66.0,405.7 66.3,400.5 66.7,394.2 67.0,387.2 67.3,379.9 67.7,373.3 68.0,368.2 68.4,365.3 68.8,365.0 69.1,367.4 69.5,372.0 69.8,378.3 70.2,385.3 70.5,392.3 70.8,398.6 71.2,403.9 71.5,407.9 71.9,410.9 72.2,413.0 72.6,414.4 73.0,415.3 73.3,415.9 73.7,416.2 74.0,416.5 74.3,416.6 74.7,416.7 75.0,416.8 75.4,416.7 75.8,416.6 76.1,416.5 76.5,416.3 76.8,416.2 77.2,416.0 77.5,416.1 77.8,416.2 78.2,416.4 78.5,416.5 78.9,416.6 79.2,416.8 79.6,416.9 80.0,417.1 80.3,417.1 80.7,417.2 81.0,417.2 81.3,417.2 81.7,417.3 82.0,417.3 82.4,417.3 82.8,417.4 83.1,417.4 83.5,417.4 83.8,417.5 84.2,417.5 84.5,417.5 84.8,417.6 85.2,417.5 85.5,417.3 85.9,417.1 86.2,417.0 86.6,416.8 87.0,416.6 87.3,416.4 87.7,416.3 88.0,416.1 88.3,414.8 88.7,413.6 89.0,412.3 89.4,411.1 89.8,409.8 90.1,408.5 90.5,407.3 90.8,405.2 91.2,402.9 91.5,400.6 91.8,398.3 92.2,396.1 92.5,393.9 92.9,392.2 93.2,390.5 93.6,388.8 94.0,387.2 94.3,385.5 94.7,386.7 95.0,387.8 95.3,389.0 95.7,390.1 96.0,391.4 96.4,393.7 96.8,395.9 97.1,398.1 97.5,400.4 97.8,402.6 98.2,404.9 98.5,407.1 98.8,408.6 99.2,410.2 99.5,411.7 99.9,413.3 100.2,414.8 100.6,416.3 100.9,417.9 101.3,418.5 101.7,419.0 102.0,419.4 102.3,419.9 102.7,420.4 103.0,420.8 103.4,421.3 103.8,421.8 104.1,422.1 104.4,422.2 104.8,422.2 105.2,422.2 105.5,422.3 105.8,422.3 106.2,422.4 106.5,422.4 106.9,422.4 107.2,422.5 107.6,422.5 108.0,422.6 108.3,422.6 108.7,422.6 109.0,422.7 109.3,422.7 109.7,422.8 110.0,422.8 110.4,422.8 110.8,422.8 111.1,422.7 111.5,422.7 111.8,422.7 112.1,422.7 112.5,422.7 112.8,422.6 113.2,422.6 113.5,422.6 113.9,422.6 114.2,422.5 114.6,422.5 115.0,422.5 115.3,422.4 115.6,422.3 116.0,422.3 116.3,422.2 116.7,422.1 117.0,422.0 117.4,421.9 117.8,421.8 118.1,421.8 118.5,421.7 118.8,421.6 119.1,421.5 119.5,421.6 119.8,421.8 120.2,421.9 120.5,422.1 120.9,422.2 121.2,422.4 121.6,422.5 122.0,422.7 122.3,422.8 122.6,423.0 123.0,423.1 123.3,423.2 123.7,423.2 124.0,423.3 124.4,423.3 124.8,423.4 125.1,423.4 125.5,423.5 125.8,423.5 126.1,423.6 126.5,423.7 126.8,423.7 127.2,423.8 127.5,423.8 127.9,423.9 128.2,423.9 128.6,423.8 128.9,423.7 129.3,423.7 129.6,423.6 130.0,423.6 130.3,423.5 130.7,423.5 131.1,423.4 131.4,423.3 131.8,423.3 132.1,423.2 132.4,423.2 132.8,423.1 133.1,423.1 133.5,423.0 133.8,422.9 134.2,422.9 134.6,422.8 134.9,422.8 135.2,422.7 135.6,422.7 135.9,422.6 136.3,422.4 136.6,422.2 137.0,421.9 137.3,421.7 137.7,421.5 138.1,421.2 138.4,421.0 138.8,420.8 139.1,420.6 139.4,420.5 139.8,420.4 140.1,420.3 140.5,420.2 140.8,420.0 141.2,419.9 141.6,419.8 141.9,419.7 142.2,419.8 142.6,420.0 142.9,420.1 143.3,420.3 143.6,420.5 144.0,420.6 144.3,420.8 144.7,421.0 145.1,421.1 145.4,421.4 145.8,421.6 146.1,421.9 146.4,422.1 146.8,422.4 147.1,422.6 147.5,422.9 147.8,423.1 148.2,423.3 148.6,423.6 148.9,423.8 149.2,424.1 149.6,424.3 149.9,424.6 150.3,424.7 150.6,424.7 151.0,424.8 151.3,424.9 151.7,425.0 152.1,425.0 152.4,425.1 152.8,425.2 153.1,425.3 153.4,425.3 153.8,425.4 154.1,425.5 154.5,425.6 154.8,425.7 155.2,425.7 155.6,425.8 155.9,425.9 156.2,425.9 156.6,426.0 156.9,426.0 157.3,426.1 157.6,426.1 158.0,426.2 158.3,426.2 158.7,426.3 159.1,426.3 159.4,426.4 159.8,426.4 160.1,426.5 160.4,426.5 160.8,426.5 161.1,426.6 161.5,426.6 161.8,426.7 162.2,426.7 162.6,426.8 162.9,426.8 163.2,426.9 163.6,426.9 163.9,427.0 164.3,427.0 164.6,427.1" stroke="#151515" fill="none" stroke-width="0.85" stroke-linejoin="round"/>
<line x1="213.50" y1="260.00" x2="213.50" y2="340.60" stroke="#444" stroke-width="0.8" />
<line x1="213.50" y1="340.60" x2="341.30" y2="340.60" stroke="#444" stroke-width="0.8" />
<line x1="211.70" y1="340.60" x2="213.50" y2="340.60" stroke="#555" stroke-width="0.5" />
<line x1="212.40" y1="336.57" x2="213.50" y2="336.57" stroke="#555" stroke-width="0.5" />
<line x1="212.40" y1="332.54" x2="213.50" y2="332.54" stroke="#555" stroke-width="0.5" />
<line x1="212.40" y1="328.51" x2="213.50" y2="328.51" stroke="#555" stroke-width="0.5" />
<line x1="211.70" y1="324.48" x2="213.50" y2="324.48" stroke="#555" stroke-width="0.5" />
<line x1="212.40" y1="320.45" x2="213.50" y2="320.45" stroke="#555" stroke-width="0.5" />
<line x1="212.40" y1="316.42" x2="213.50" y2="316.42" stroke="#555" stroke-width="0.5" />
<line x1="212.40" y1="312.39" x2="213.50" y2="312.39" stroke="#555" stroke-width="0.5" />
<line x1="211.70" y1="308.36" x2="213.50" y2="308.36" stroke="#555" stroke-width="0.5" />
<line x1="212.40" y1="304.33" x2="213.50" y2="304.33" stroke="#555" stroke-width="0.5" />
<line x1="212.40" y1="300.30" x2="213.50" y2="300.30" stroke="#555" stroke-width="0.5" />
<line x1="212.40" y1="296.27" x2="213.50" y2="296.27" stroke="#555" stroke-width="0.5" />
<line x1="211.70" y1="292.24" x2="213.50" y2="292.24" stroke="#555" stroke-width="0.5" />
<line x1="212.40" y1="288.21" x2="213.50" y2="288.21" stroke="#555" stroke-width="0.5" />
<line x1="212.40" y1="284.18" x2="213.50" y2="284.18" stroke="#555" stroke-width="0.5" />
<line x1="212.40" y1="280.15" x2="213.50" y2="280.15" stroke="#555" stroke-width="0.5" />
<line x1="211.70" y1="276.12" x2="213.50" y2="276.12" stroke="#555" stroke-width="0.5" />
<line x1="212.40" y1="272.09" x2="213.50" y2="272.09" stroke="#555" stroke-width="0.5" />
<line x1="212.40" y1="268.06" x2="213.50" y2="268.06" stroke="#555" stroke-width="0.5" />
<line x1="212.40" y1="264.03" x2="213.50" y2="264.03" stroke="#555" stroke-width="0.5" />
<line x1="211.70" y1="260.00" x2="213.50" y2="260.00" stroke="#555" stroke-width="0.5" />
<text transform="translate(210.90,324.48) rotate(-90)" font-size="3.8" text-anchor="middle" fill="#777" style="stroke:none">20</text>
<text transform="translate(210.90,308.36) rotate(-90)" font-size="3.8" text-anchor="middle" fill="#777" style="stroke:none">40</text>
<text transform="translate(210.90,292.24) rotate(-90)" font-size="3.8" text-anchor="middle" fill="#777" style="stroke:none">60</text>
<text transform="translate(210.90,276.12) rotate(-90)" font-size="3.8" text-anchor="middle" fill="#777" style="stroke:none">80</text>
<text transform="translate(210.90,260.00) rotate(-90)" font-size="3.8" text-anchor="middle" fill="#777" style="stroke:none">100</text>
<text transform="translate(206.50,302.30) rotate(-90)" font-size="4" text-anchor="middle" fill="#888" style="stroke:none">Number</text>
<line x1="213.50" y1="340.60" x2="213.50" y2="342.40" stroke="#555" stroke-width="0.5" />
<line x1="218.61" y1="340.60" x2="218.61" y2="341.60" stroke="#555" stroke-width="0.5" />
<line x1="223.72" y1="340.60" x2="223.72" y2="341.60" stroke="#555" stroke-width="0.5" />
<line x1="228.84" y1="340.60" x2="228.84" y2="341.60" stroke="#555" stroke-width="0.5" />
<line x1="233.95" y1="340.60" x2="233.95" y2="341.60" stroke="#555" stroke-width="0.5" />
<line x1="239.06" y1="340.60" x2="239.06" y2="342.40" stroke="#555" stroke-width="0.5" />
<line x1="244.17" y1="340.60" x2="244.17" y2="341.60" stroke="#555" stroke-width="0.5" />
<line x1="249.28" y1="340.60" x2="249.28" y2="341.60" stroke="#555" stroke-width="0.5" />
<line x1="254.40" y1="340.60" x2="254.40" y2="341.60" stroke="#555" stroke-width="0.5" />
<line x1="259.51" y1="340.60" x2="259.51" y2="341.60" stroke="#555" stroke-width="0.5" />
<line x1="264.62" y1="340.60" x2="264.62" y2="342.40" stroke="#555" stroke-width="0.5" />
<line x1="269.73" y1="340.60" x2="269.73" y2="341.60" stroke="#555" stroke-width="0.5" />
<line x1="274.84" y1="340.60" x2="274.84" y2="341.60" stroke="#555" stroke-width="0.5" />
<line x1="279.96" y1="340.60" x2="279.96" y2="341.60" stroke="#555" stroke-width="0.5" />
<line x1="285.07" y1="340.60" x2="285.07" y2="341.60" stroke="#555" stroke-width="0.5" />
<line x1="290.18" y1="340.60" x2="290.18" y2="342.40" stroke="#555" stroke-width="0.5" />
<line x1="295.29" y1="340.60" x2="295.29" y2="341.60" stroke="#555" stroke-width="0.5" />
<line x1="300.40" y1="340.60" x2="300.40" y2="341.60" stroke="#555" stroke-width="0.5" />
<line x1="305.52" y1="340.60" x2="305.52" y2="341.60" stroke="#555" stroke-width="0.5" />
<line x1="310.63" y1="340.60" x2="310.63" y2="341.60" stroke="#555" stroke-width="0.5" />
<line x1="315.74" y1="340.60" x2="315.74" y2="342.40" stroke="#555" stroke-width="0.5" />
<line x1="320.85" y1="340.60" x2="320.85" y2="341.60" stroke="#555" stroke-width="0.5" />
<line x1="325.96" y1="340.60" x2="325.96" y2="341.60" stroke="#555" stroke-width="0.5" />
<line x1="331.08" y1="340.60" x2="331.08" y2="341.60" stroke="#555" stroke-width="0.5" />
<line x1="336.19" y1="340.60" x2="336.19" y2="341.60" stroke="#555" stroke-width="0.5" />
<line x1="341.30" y1="340.60" x2="341.30" y2="342.40" stroke="#555" stroke-width="0.5" />
<text x="213.50" y="345.80" font-size="3.8" text-anchor="middle" fill="#888" style="stroke:none">0</text>
<text x="239.06" y="345.80" font-size="3.8" text-anchor="middle" fill="#888" style="stroke:none">50</text>
<text x="264.62" y="345.80" font-size="3.8" text-anchor="middle" fill="#888" style="stroke:none">100</text>
<text x="290.18" y="345.80" font-size="3.8" text-anchor="middle" fill="#888" style="stroke:none">150</text>
<text x="315.74" y="345.80" font-size="3.8" text-anchor="middle" fill="#888" style="stroke:none">200</text>
<text x="341.30" y="345.80" font-size="3.8" text-anchor="middle" fill="#888" style="stroke:none">250</text>
<text x="257.80" y="349.20" font-size="4.6" textLength="40" lengthAdjust="spacingAndGlyphs" fill="#778" style="stroke:none">Channels (FL2-A)</text>
<polygon points="243.5,340.6 243.6,339.2 243.9,334.3 244.3,329.4 244.7,326.6 245.0,326.7 245.3,326.8 245.7,326.9 246.1,327.0 246.4,327.1 246.8,327.1 247.1,327.2 247.4,327.2 247.8,327.2 248.2,327.3 248.5,327.3 248.8,327.3 249.2,327.4 249.6,327.4 249.9,327.4 250.2,327.4 250.6,327.5 250.9,327.5 251.3,327.5 251.7,327.6 252.0,327.6 252.3,327.6 252.7,327.6 253.1,327.7 253.4,327.7 253.8,327.7 254.1,327.7 254.4,327.8 254.8,327.8 255.2,327.8 255.5,327.8 255.8,327.9 256.2,327.9 256.6,327.9 256.9,327.9 257.2,328.0 257.6,328.0 257.9,328.0 258.3,328.1 258.6,328.3 259.0,328.4 259.4,328.5 259.7,328.7 260.1,328.8 260.4,329.0 260.8,329.1 261.1,329.2 261.4,329.4 261.8,329.5 262.1,329.9 262.5,330.6 262.9,331.3 263.2,332.0 263.6,332.7 263.9,333.4 264.2,334.1 264.6,334.9 264.9,335.9 265.3,337.0 265.6,338.0 266.0,339.1 266.4,340.2 266.5,340.6" stroke="none" fill="url(#hatch)" stroke-width="1" />
<polyline points="243.6,339.2 243.9,334.3 244.3,329.4 244.7,326.6 245.0,326.7 245.3,326.8 245.7,326.9 246.1,327.0 246.4,327.1 246.8,327.1 247.1,327.2 247.4,327.2 247.8,327.2 248.2,327.3 248.5,327.3 248.8,327.3 249.2,327.4 249.6,327.4 249.9,327.4 250.2,327.4 250.6,327.5 250.9,327.5 251.3,327.5 251.7,327.6 252.0,327.6 252.3,327.6 252.7,327.6 253.1,327.7 253.4,327.7 253.8,327.7 254.1,327.7 254.4,327.8 254.8,327.8 255.2,327.8 255.5,327.8 255.8,327.9 256.2,327.9 256.6,327.9 256.9,327.9 257.2,328.0 257.6,328.0 257.9,328.0 258.3,328.1 258.6,328.3 259.0,328.4 259.4,328.5 259.7,328.7 260.1,328.8 260.4,329.0 260.8,329.1 261.1,329.2 261.4,329.4 261.8,329.5 262.1,329.9 262.5,330.6 262.9,331.3 263.2,332.0 263.6,332.7 263.9,333.4 264.2,334.1 264.6,334.9 264.9,335.9 265.3,337.0 265.6,338.0 266.0,339.1 266.4,340.2" stroke="#222244" fill="none" stroke-width="0.7" />
<polyline points="274.1,339.1 274.4,339.1 274.8,339.0 275.1,339.0 275.4,339.0 275.8,338.9 276.1,338.9 276.5,338.9 276.9,338.8 277.2,338.8 277.6,338.8 277.9,338.7 278.2,338.7 278.6,338.7 278.9,338.6 279.3,338.6 279.6,338.6 280.0,338.5 280.4,338.5 280.7,338.5 281.1,338.4 281.4,338.4 281.8,338.4 282.1,338.3 282.4,338.3 282.8,338.3 283.1,338.2 283.5,338.2 283.9,338.2 284.2,338.1 284.6,338.1 284.9,338.1 285.2,338.0 285.6,338.0 285.9,338.0 286.3,337.9 286.6,337.9 287.0,337.9 287.4,337.8 287.7,337.8 288.1,337.7 288.4,337.7 288.8,337.7 289.1,337.6 289.4,337.6 289.8,337.6 290.1,337.7 290.5,337.7 290.9,337.8 291.2,337.8 291.6,337.9 291.9,337.9 292.2,338.0 292.6,338.0 292.9,338.1 293.3,338.1 293.6,338.2 294.0,338.2 294.4,338.3 294.7,338.3 295.1,338.4 295.4,338.4 295.8,338.5 296.1,338.5 296.4,338.6 296.8,338.6 297.1,338.7 297.5,338.7 297.9,338.8 298.2,338.8 298.6,338.9 298.9,338.9 299.2,339.0 299.6,339.0 299.9,339.1 300.3,339.1 300.6,339.1 301.0,339.1 301.4,339.1 301.7,339.2 302.1,339.2 302.4,339.2 302.8,339.2 303.1,339.2 303.4,339.2 303.8,339.2 304.1,339.2 304.5,339.3 304.9,339.3 305.2,339.3 305.6,339.3 305.9,339.3 306.2,339.3 306.6,339.3 306.9,339.3 307.3,339.4 307.6,339.4 308.0,339.4 308.4,339.4 308.7,339.4 309.1,339.4 309.4,339.4 309.8,339.4 310.1,339.5 310.4,339.5 310.8,339.5 311.1,339.5 311.5,339.5 311.9,339.5 312.2,339.5 312.6,339.5 312.9,339.6 313.2,339.6 313.6,339.6 313.9,339.6 314.3,339.6 314.6,339.6 315.0,339.6 315.4,339.6 315.7,339.6 316.1,339.7 316.4,339.7 316.8,339.7 317.1,339.7 317.4,339.7 317.8,339.7 318.1,339.7 318.5,339.7 318.9,339.8 319.2,339.8 319.6,339.8 319.9,339.8 320.2,339.8 320.6,339.8 320.9,339.8 321.3,339.8 321.6,339.8 322.0,339.8 322.4,339.8 322.7,339.8 323.1,339.8 323.4,339.8 323.8,339.9 324.1,339.9 324.4,339.9 324.8,339.9 325.1,339.9 325.5,339.9 325.9,339.9 326.2,339.9 326.6,339.9 326.9,339.9 327.2,339.9 327.6,339.9 327.9,339.9 328.3,339.9 328.6,339.9 329.0,339.9 329.4,339.9 329.7,339.9 330.1,339.9 330.4,339.9 330.8,340.0 331.1,340.0 331.4,340.0 331.8,340.0 332.1,340.0 332.5,340.0 332.9,340.0 333.2,340.0 333.6,340.0 333.9,340.0 334.2,340.0 334.6,340.0 334.9,340.0 335.3,340.0 335.6,340.0 336.0,340.0 336.4,340.0 336.7,340.0 337.1,340.0 337.4,340.0 337.8,340.1 338.1,340.1 338.4,340.1 338.8,340.1 339.1,340.1 339.5,340.1 339.9,340.1 340.2,340.1 340.6,340.1 340.9,340.1" stroke="#66bb66" fill="none" stroke-width="0.8" />
<polygon points="232.1,340.6 232.1,340.6 232.4,340.5 232.8,340.5 233.1,340.5 233.4,340.5 233.8,340.4 234.2,340.3 234.5,340.2 234.8,340.1 235.2,340.0 235.6,339.7 235.9,339.4 236.2,338.8 236.6,338.1 236.9,336.9 237.3,335.2 237.7,332.8 238.0,329.4 238.3,325.0 238.7,319.5 239.1,312.8 239.4,305.2 239.8,297.2 240.1,289.1 240.4,281.8 240.8,275.8 241.2,272.0 241.5,270.6 241.8,271.9 242.2,275.6 242.6,281.5 242.9,288.7 243.2,296.7 243.6,304.8 243.9,312.3 244.3,318.9 244.7,324.5 245.0,328.9 245.3,332.2 245.7,334.7 246.1,336.4 246.4,337.6 246.8,338.5 247.1,339.0 247.4,339.4 247.8,339.7 248.2,339.9 248.5,340.1 248.8,340.2 249.2,340.3 249.6,340.4 249.9,340.4 250.2,340.5 250.6,340.5 250.9,340.5 250.9,340.6" stroke="#8a0000" fill="#e31b1b" stroke-width="0.4" />
<polygon points="260.1,340.6 260.1,340.5 260.4,340.4 260.8,340.4 261.1,340.3 261.4,340.1 261.8,340.0 262.1,339.8 262.5,339.5 262.9,339.2 263.2,338.9 263.6,338.5 263.9,338.0 264.2,337.5 264.6,336.9 264.9,336.4 265.3,335.8 265.6,335.3 266.0,334.8 266.4,334.4 266.7,334.1 267.1,333.9 267.4,333.8 267.8,333.8 268.1,334.0 268.4,334.2 268.8,334.6 269.1,335.0 269.5,335.5 269.9,336.1 270.2,336.6 270.6,337.2 270.9,337.7 271.2,338.2 271.6,338.6 271.9,339.0 272.3,339.4 272.6,339.6 273.0,339.9 273.4,340.1 273.7,340.2 274.1,340.3 274.4,340.4 274.8,340.5 275.1,340.5 275.1,340.6" stroke="#8a0000" fill="#c0102a" stroke-width="0.4" />
<polyline points="213.5,340.0 213.8,340.0 214.2,340.0 214.6,340.0 214.9,340.0 215.2,339.9 215.6,339.9 215.9,339.9 216.3,339.9 216.7,339.9 217.0,339.9 217.3,339.9 217.7,339.9 218.1,339.9 218.4,339.8 218.8,339.8 219.1,339.8 219.4,339.8 219.8,339.8 220.2,339.8 220.5,339.8 220.8,339.8 221.2,339.7 221.6,339.7 221.9,339.7 222.2,339.7 222.6,339.7 222.9,339.7 223.3,339.6 223.7,339.6 224.0,339.6 224.3,339.6 224.7,339.6 225.1,339.5 225.4,339.5 225.8,339.5 226.1,339.5 226.4,339.5 226.8,339.5 227.2,339.5 227.5,339.5 227.8,339.5 228.2,339.5 228.6,339.5 228.9,339.5 229.2,339.6 229.6,339.6 229.9,339.6 230.3,339.6 230.7,339.6 231.0,339.6 231.3,339.6 231.7,339.6 232.1,339.6 232.4,339.5 232.8,339.4 233.1,339.4 233.4,339.3 233.8,339.2 234.2,339.1 234.5,338.9 234.8,338.8 235.2,338.5 235.6,338.3 235.9,337.9 236.2,337.2 236.6,336.2 236.9,334.8 237.3,332.9 237.7,330.3 238.0,326.7 238.3,322.0 238.7,316.2 239.1,309.2 239.4,301.2 239.8,292.7 240.1,284.2 240.4,276.5 240.8,270.2 241.2,266.0 241.5,264.3 241.8,265.4 242.2,268.9 242.6,274.6 242.9,281.8 243.2,288.8 243.6,295.6 243.9,301.9 244.3,307.3 244.7,311.5 245.0,314.6 245.3,316.6 245.7,317.7 246.1,318.0 246.4,318.6 246.8,320.5 247.1,322.2 247.4,323.7 247.8,325.1 248.2,326.0 248.5,326.3 248.8,326.6 249.2,326.9 249.6,327.2 249.9,327.5 250.2,327.6 250.6,327.6 250.9,327.6 251.3,327.6 251.7,327.6 252.0,327.6 252.3,327.6 252.7,327.6 253.1,327.6 253.4,327.6 253.8,327.6 254.1,327.6 254.4,327.6 254.8,327.6 255.2,327.6 255.5,327.5 255.8,327.5 256.2,327.4 256.6,327.3 256.9,327.3 257.2,327.2 257.6,327.2 257.9,327.1 258.3,327.0 258.6,327.0 259.0,326.9 259.4,326.8 259.7,326.8 260.1,326.7 260.4,326.7 260.8,326.6 261.1,326.1 261.4,325.4 261.8,324.8 262.1,324.1 262.5,323.5 262.9,322.9 263.2,322.1 263.6,321.2 263.9,320.3 264.2,319.5 264.6,318.6 264.9,317.7 265.3,318.2 265.6,318.9 266.0,319.6 266.4,320.3 266.7,321.0 267.1,321.8 267.4,323.0 267.8,324.2 268.1,325.5 268.4,326.7 268.8,327.9 269.1,329.1 269.5,330.4 269.9,331.6 270.2,332.8 270.6,334.0 270.9,335.2 271.2,335.9 271.6,336.4 271.9,336.9 272.3,337.4 272.6,337.9 273.0,338.4 273.4,338.8 273.7,338.8 274.1,338.8 274.4,338.8 274.8,338.9 275.1,338.9 275.4,338.9 275.8,338.9 276.1,338.9 276.5,338.9 276.9,339.0 277.2,339.0 277.6,339.0 277.9,339.0 278.2,339.0 278.6,339.0 278.9,339.1 279.3,339.1 279.6,339.1 280.0,339.1 280.4,339.1 280.7,339.0 281.1,339.0 281.4,338.9 281.8,338.9 282.1,338.9 282.4,338.8 282.8,338.8 283.1,338.7 283.5,338.7 283.9,338.7 284.2,338.6 284.6,338.6 284.9,338.5 285.2,338.5 285.6,338.5 285.9,338.4 286.3,338.4 286.6,338.3 287.0,338.3 287.4,338.3 287.7,338.2 288.1,338.2 288.4,338.1 288.8,338.1 289.1,338.1 289.4,338.0 289.8,338.0 290.1,338.1 290.5,338.1 290.9,338.2 291.2,338.2 291.6,338.3 291.9,338.3 292.2,338.4 292.6,338.4 292.9,338.5 293.3,338.5 293.6,338.5 294.0,338.6 294.4,338.6 294.7,338.7 295.1,338.7 295.4,338.8 295.8,338.8 296.1,338.9 296.4,338.9 296.8,339.0 297.1,339.0 297.5,339.1 297.9,339.1 298.2,339.2 298.6,339.2 298.9,339.3 299.2,339.3 299.6,339.3 299.9,339.4 300.3,339.4 300.6,339.4 301.0,339.4 301.4,339.4 301.7,339.4 302.1,339.4 302.4,339.4 302.8,339.5 303.1,339.5 303.4,339.5 303.8,339.5 304.1,339.5 304.5,339.5 304.9,339.5 305.2,339.5 305.6,339.5 305.9,339.5 306.2,339.5 306.6,339.5 306.9,339.5 307.3,339.5 307.6,339.6 308.0,339.6 308.4,339.6 308.7,339.6 309.1,339.6 309.4,339.6 309.8,339.6 310.1,339.6 310.4,339.6 310.8,339.6 311.1,339.6 311.5,339.6 311.9,339.6 312.2,339.6 312.6,339.7 312.9,339.7 313.2,339.7 313.6,339.7 313.9,339.7 314.3,339.7 314.6,339.7 315.0,339.7 315.4,339.7 315.7,339.7 316.1,339.7 316.4,339.7 316.8,339.7 317.1,339.7 317.4,339.7 317.8,339.8 318.1,339.8 318.5,339.8 318.9,339.8 319.2,339.8 319.6,339.8 319.9,339.8 320.2,339.8 320.6,339.8 320.9,339.8 321.3,339.8 321.6,339.8 322.0,339.8 322.4,339.8 322.7,339.8 323.1,339.8 323.4,339.8 323.8,339.9 324.1,339.9 324.4,339.9 324.8,339.9 325.1,339.9 325.5,339.9 325.9,339.9 326.2,339.9 326.6,339.9 326.9,339.9 327.2,339.9 327.6,339.9 327.9,339.9 328.3,339.9 328.6,339.9 329.0,339.9 329.4,339.9 329.7,339.9 330.1,339.9 330.4,339.9 330.8,340.0 331.1,340.0 331.4,340.0 331.8,340.0 332.1,340.0 332.5,340.0 332.9,340.0 333.2,340.0 333.6,340.0 333.9,340.0 334.2,340.0 334.6,340.0 334.9,340.0 335.3,340.0 335.6,340.0 336.0,340.0 336.4,340.0 336.7,340.0 337.1,340.0 337.4,340.0 337.8,340.1 338.1,340.1 338.4,340.1 338.8,340.1 339.1,340.1 339.5,340.1 339.9,340.1 340.2,340.1 340.6,340.1 340.9,340.1 341.2,340.1" stroke="#151515" fill="none" stroke-width="0.85" stroke-linejoin="round"/>
<line x1="211.00" y1="354.30" x2="211.00" y2="428.50" stroke="#444" stroke-width="0.8" />
<line x1="211.00" y1="428.50" x2="338.40" y2="428.50" stroke="#444" stroke-width="0.8" />
<line x1="209.20" y1="428.50" x2="211.00" y2="428.50" stroke="#555" stroke-width="0.5" />
<line x1="209.90" y1="424.79" x2="211.00" y2="424.79" stroke="#555" stroke-width="0.5" />
<line x1="209.90" y1="421.08" x2="211.00" y2="421.08" stroke="#555" stroke-width="0.5" />
<line x1="209.90" y1="417.37" x2="211.00" y2="417.37" stroke="#555" stroke-width="0.5" />
<line x1="209.20" y1="413.66" x2="211.00" y2="413.66" stroke="#555" stroke-width="0.5" />
<line x1="209.90" y1="409.95" x2="211.00" y2="409.95" stroke="#555" stroke-width="0.5" />
<line x1="209.90" y1="406.24" x2="211.00" y2="406.24" stroke="#555" stroke-width="0.5" />
<line x1="209.90" y1="402.53" x2="211.00" y2="402.53" stroke="#555" stroke-width="0.5" />
<line x1="209.20" y1="398.82" x2="211.00" y2="398.82" stroke="#555" stroke-width="0.5" />
<line x1="209.90" y1="395.11" x2="211.00" y2="395.11" stroke="#555" stroke-width="0.5" />
<line x1="209.90" y1="391.40" x2="211.00" y2="391.40" stroke="#555" stroke-width="0.5" />
<line x1="209.90" y1="387.69" x2="211.00" y2="387.69" stroke="#555" stroke-width="0.5" />
<line x1="209.20" y1="383.98" x2="211.00" y2="383.98" stroke="#555" stroke-width="0.5" />
<line x1="209.90" y1="380.27" x2="211.00" y2="380.27" stroke="#555" stroke-width="0.5" />
<line x1="209.90" y1="376.56" x2="211.00" y2="376.56" stroke="#555" stroke-width="0.5" />
<line x1="209.90" y1="372.85" x2="211.00" y2="372.85" stroke="#555" stroke-width="0.5" />
<line x1="209.20" y1="369.14" x2="211.00" y2="369.14" stroke="#555" stroke-width="0.5" />
<line x1="209.90" y1="365.43" x2="211.00" y2="365.43" stroke="#555" stroke-width="0.5" />
<line x1="209.90" y1="361.72" x2="211.00" y2="361.72" stroke="#555" stroke-width="0.5" />
<line x1="209.90" y1="358.01" x2="211.00" y2="358.01" stroke="#555" stroke-width="0.5" />
<line x1="209.20" y1="354.30" x2="211.00" y2="354.30" stroke="#555" stroke-width="0.5" />
<text transform="translate(208.40,413.66) rotate(-90)" font-size="3.8" text-anchor="middle" fill="#777" style="stroke:none">20</text>
<text transform="translate(208.40,398.82) rotate(-90)" font-size="3.8" text-anchor="middle" fill="#777" style="stroke:none">40</text>
<text transform="translate(208.40,383.98) rotate(-90)" font-size="3.8" text-anchor="middle" fill="#777" style="stroke:none">60</text>
<text transform="translate(208.40,369.14) rotate(-90)" font-size="3.8" text-anchor="middle" fill="#777" style="stroke:none">80</text>
<text transform="translate(208.40,354.30) rotate(-90)" font-size="3.8" text-anchor="middle" fill="#777" style="stroke:none">100</text>
<text transform="translate(204.00,393.40) rotate(-90)" font-size="4" text-anchor="middle" fill="#888" style="stroke:none">Number</text>
<line x1="211.00" y1="428.50" x2="211.00" y2="430.30" stroke="#555" stroke-width="0.5" />
<line x1="216.10" y1="428.50" x2="216.10" y2="429.50" stroke="#555" stroke-width="0.5" />
<line x1="221.19" y1="428.50" x2="221.19" y2="429.50" stroke="#555" stroke-width="0.5" />
<line x1="226.29" y1="428.50" x2="226.29" y2="429.50" stroke="#555" stroke-width="0.5" />
<line x1="231.38" y1="428.50" x2="231.38" y2="429.50" stroke="#555" stroke-width="0.5" />
<line x1="236.48" y1="428.50" x2="236.48" y2="430.30" stroke="#555" stroke-width="0.5" />
<line x1="241.58" y1="428.50" x2="241.58" y2="429.50" stroke="#555" stroke-width="0.5" />
<line x1="246.67" y1="428.50" x2="246.67" y2="429.50" stroke="#555" stroke-width="0.5" />
<line x1="251.77" y1="428.50" x2="251.77" y2="429.50" stroke="#555" stroke-width="0.5" />
<line x1="256.86" y1="428.50" x2="256.86" y2="429.50" stroke="#555" stroke-width="0.5" />
<line x1="261.96" y1="428.50" x2="261.96" y2="430.30" stroke="#555" stroke-width="0.5" />
<line x1="267.06" y1="428.50" x2="267.06" y2="429.50" stroke="#555" stroke-width="0.5" />
<line x1="272.15" y1="428.50" x2="272.15" y2="429.50" stroke="#555" stroke-width="0.5" />
<line x1="277.25" y1="428.50" x2="277.25" y2="429.50" stroke="#555" stroke-width="0.5" />
<line x1="282.34" y1="428.50" x2="282.34" y2="429.50" stroke="#555" stroke-width="0.5" />
<line x1="287.44" y1="428.50" x2="287.44" y2="430.30" stroke="#555" stroke-width="0.5" />
<line x1="292.54" y1="428.50" x2="292.54" y2="429.50" stroke="#555" stroke-width="0.5" />
<line x1="297.63" y1="428.50" x2="297.63" y2="429.50" stroke="#555" stroke-width="0.5" />
<line x1="302.73" y1="428.50" x2="302.73" y2="429.50" stroke="#555" stroke-width="0.5" />
<line x1="307.82" y1="428.50" x2="307.82" y2="429.50" stroke="#555" stroke-width="0.5" />
<line x1="312.92" y1="428.50" x2="312.92" y2="430.30" stroke="#555" stroke-width="0.5" />
<line x1="318.02" y1="428.50" x2="318.02" y2="429.50" stroke="#555" stroke-width="0.5" />
<line x1="323.11" y1="428.50" x2="323.11" y2="429.50" stroke="#555" stroke-width="0.5" />
<line x1="328.21" y1="428.50" x2="328.21" y2="429.50" stroke="#555" stroke-width="0.5" />
<line x1="333.30" y1="428.50" x2="333.30" y2="429.50" stroke="#555" stroke-width="0.5" />
<line x1="338.40" y1="428.50" x2="338.40" y2="430.30" stroke="#555" stroke-width="0.5" />
<text x="211.00" y="433.70" font-size="3.8" text-anchor="middle" fill="#888" style="stroke:none">0</text>
<text x="236.48" y="433.70" font-size="3.8" text-anchor="middle" fill="#888" style="stroke:none">50</text>
<text x="261.96" y="433.70" font-size="3.8" text-anchor="middle" fill="#888" style="stroke:none">100</text>
<text x="287.44" y="433.70" font-size="3.8" text-anchor="middle" fill="#888" style="stroke:none">150</text>
<text x="312.92" y="433.70" font-size="3.8" text-anchor="middle" fill="#888" style="stroke:none">200</text>
<text x="338.40" y="433.70" font-size="3.8" text-anchor="middle" fill="#888" style="stroke:none">250</text>
<text x="253.80" y="437.10" font-size="4.6" textLength="41" lengthAdjust="spacingAndGlyphs" fill="#778" style="stroke:none">Channels (FL2-A)</text>
<polygon points="238.5,428.5 238.7,427.4 239.0,424.8 239.3,422.1 239.7,421.0 240.1,421.0 240.4,421.0 240.8,421.1 241.1,421.1 241.4,421.1 241.8,421.1 242.2,421.1 242.5,421.2 242.8,421.2 243.2,421.2 243.6,421.2 243.9,421.2 244.2,421.3 244.6,421.3 244.9,421.3 245.3,421.3 245.7,421.3 246.0,421.4 246.3,421.4 246.7,421.4 247.1,421.4 247.4,421.4 247.8,421.5 248.1,421.5 248.4,421.5 248.8,421.5 249.2,421.5 249.5,421.6 249.8,421.6 250.2,421.6 250.6,421.6 250.9,421.6 251.2,421.7 251.6,421.7 251.9,421.7 252.3,421.8 252.7,421.9 253.0,422.0 253.3,422.1 253.7,422.3 254.1,422.4 254.4,422.5 254.8,422.6 255.1,422.7 255.4,422.8 255.8,422.9 256.1,423.2 256.5,423.8 256.9,424.3 257.2,424.8 257.6,425.3 257.9,425.8 258.2,426.6 258.6,427.5 258.9,428.4 259.0,428.5" stroke="none" fill="url(#hatch)" stroke-width="1" />
<polyline points="238.7,427.4 239.0,424.8 239.3,422.1 239.7,421.0 240.1,421.0 240.4,421.0 240.8,421.1 241.1,421.1 241.4,421.1 241.8,421.1 242.2,421.1 242.5,421.2 242.8,421.2 243.2,421.2 243.6,421.2 243.9,421.2 244.2,421.3 244.6,421.3 244.9,421.3 245.3,421.3 245.7,421.3 246.0,421.4 246.3,421.4 246.7,421.4 247.1,421.4 247.4,421.4 247.8,421.5 248.1,421.5 248.4,421.5 248.8,421.5 249.2,421.5 249.5,421.6 249.8,421.6 250.2,421.6 250.6,421.6 250.9,421.6 251.2,421.7 251.6,421.7 251.9,421.7 252.3,421.8 252.7,421.9 253.0,422.0 253.3,422.1 253.7,422.3 254.1,422.4 254.4,422.5 254.8,422.6 255.1,422.7 255.4,422.8 255.8,422.9 256.1,423.2 256.5,423.8 256.9,424.3 257.2,424.8 257.6,425.3 257.9,425.8 258.2,426.6 258.6,427.5 258.9,428.4" stroke="#222244" fill="none" stroke-width="0.7" />
<polyline points="265.2,427.3 265.6,427.3 265.9,427.3 266.3,427.3 266.6,427.3 267.0,427.3 267.4,427.3 267.7,427.3 268.1,427.3 268.4,427.3 268.8,427.3 269.1,427.3 269.4,427.3 269.8,427.3 270.1,427.3 270.5,427.3 270.9,427.3 271.2,427.3 271.6,427.3 271.9,427.3 272.2,427.3 272.6,427.3 272.9,427.3 273.3,427.3 273.6,427.3 274.0,427.3 274.4,427.3 274.7,427.3 275.1,427.2 275.4,427.2 275.8,427.2 276.1,427.2 276.4,427.2 276.8,427.2 277.1,427.2 277.5,427.2 277.9,427.2 278.2,427.2 278.6,427.2 278.9,427.2 279.2,427.2 279.6,427.2 279.9,427.2 280.3,427.2 280.6,427.2 281.0,427.2 281.4,427.2 281.7,427.2 282.1,427.2 282.4,427.2 282.8,427.2 283.1,427.2 283.4,427.2 283.8,427.2 284.1,427.2 284.5,427.2 284.9,427.2 285.2,427.2 285.6,427.2 285.9,427.2 286.2,427.2 286.6,427.3 286.9,427.3 287.3,427.3 287.6,427.3 288.0,427.3 288.4,427.3 288.7,427.3 289.1,427.3 289.4,427.3 289.8,427.4 290.1,427.4 290.4,427.4 290.8,427.4 291.1,427.4 291.5,427.4 291.9,427.4 292.2,427.4 292.6,427.5 292.9,427.5 293.2,427.5 293.6,427.5 293.9,427.5 294.3,427.5 294.6,427.5 295.0,427.5 295.4,427.5 295.7,427.6 296.1,427.6 296.4,427.6 296.8,427.6 297.1,427.6 297.4,427.6 297.8,427.6 298.1,427.6 298.5,427.6 298.9,427.7 299.2,427.7 299.6,427.7 299.9,427.7 300.2,427.7 300.6,427.7 300.9,427.7 301.3,427.7 301.6,427.7 302.0,427.7 302.4,427.7 302.7,427.7 303.1,427.7 303.4,427.7 303.8,427.7 304.1,427.7 304.4,427.7 304.8,427.8 305.1,427.8 305.5,427.8 305.9,427.8 306.2,427.8 306.6,427.8 306.9,427.8 307.2,427.8 307.6,427.8 307.9,427.8 308.3,427.8 308.6,427.8 309.0,427.8 309.4,427.8 309.7,427.8 310.1,427.8 310.4,427.8 310.8,427.8 311.1,427.8 311.4,427.8 311.8,427.8 312.1,427.8 312.5,427.8 312.9,427.8 313.2,427.8 313.6,427.8 313.9,427.8 314.2,427.9 314.6,427.9 314.9,427.9 315.3,427.9 315.6,427.9 316.0,427.9 316.4,427.9 316.7,427.9 317.1,427.9 317.4,427.9 317.8,427.9 318.1,427.9 318.4,427.9 318.8,427.9 319.1,427.9 319.5,427.9 319.9,427.9 320.2,427.9 320.6,427.9 320.9,427.9 321.2,427.9 321.6,427.9 321.9,427.9 322.3,427.9 322.6,427.9 323.0,427.9 323.4,427.9 323.7,427.9 324.1,428.0 324.4,428.0 324.8,428.0 325.1,428.0 325.4,428.0 325.8,428.0 326.1,428.0 326.5,428.0 326.9,428.0 327.2,428.0 327.6,428.0 327.9,428.0 328.2,428.0 328.6,428.0 328.9,428.0 329.3,428.0 329.6,428.0 330.0,428.0 330.4,428.0 330.7,428.0 331.1,428.0 331.4,428.0 331.8,428.0 332.1,428.0 332.4,428.0 332.8,428.0 333.1,428.0 333.5,428.1 333.9,428.1 334.2,428.1 334.6,428.1 334.9,428.1 335.2,428.1 335.6,428.1 335.9,428.1 336.3,428.1 336.6,428.1 337.0,428.1 337.4,428.1 337.7,428.1" stroke="#66bb66" fill="none" stroke-width="0.8" />
<polygon points="226.8,428.5 226.8,428.5 227.1,428.5 227.4,428.4 227.8,428.4 228.2,428.4 228.5,428.3 228.8,428.2 229.2,428.1 229.6,428.0 229.9,427.8 230.2,427.5 230.6,427.0 230.9,426.3 231.3,425.2 231.7,423.5 232.0,421.0 232.3,417.4 232.7,412.6 233.1,406.6 233.4,399.3 233.8,391.2 234.1,382.8 234.4,374.9 234.8,368.4 235.2,364.1 235.5,362.5 235.8,364.0 236.2,368.1 236.6,374.5 236.9,382.3 237.2,390.7 237.6,398.8 237.9,406.0 238.3,412.1 238.7,416.8 239.0,420.4 239.3,422.9 239.7,424.7 240.1,425.9 240.4,426.6 240.8,427.2 241.1,427.5 241.4,427.8 241.8,427.9 242.2,428.1 242.5,428.2 242.8,428.3 243.2,428.3 243.6,428.4 243.9,428.4 244.2,428.4 244.2,428.5" stroke="#8a0000" fill="#e31b1b" stroke-width="0.4" />
<polygon points="253.7,428.5 253.7,428.5 254.1,428.4 254.4,428.4 254.8,428.3 255.1,428.2 255.4,428.1 255.8,428.0 256.1,427.9 256.5,427.7 256.9,427.4 257.2,427.2 257.6,426.9 257.9,426.6 258.2,426.3 258.6,426.0 258.9,425.8 259.3,425.6 259.6,425.5 260.0,425.5 260.4,425.5 260.7,425.6 261.1,425.8 261.4,426.0 261.8,426.3 262.1,426.6 262.4,426.9 262.8,427.2 263.1,427.4 263.5,427.7 263.9,427.9 264.2,428.0 264.6,428.1 264.9,428.2 265.2,428.3 265.6,428.4 265.9,428.4 266.3,428.5 266.3,428.5" stroke="#8a0000" fill="#c0102a" stroke-width="0.4" />
<polyline points="211.0,427.9 211.3,427.9 211.7,427.8 212.1,427.8 212.4,427.7 212.8,427.7 213.1,427.6 213.4,427.6 213.8,427.6 214.2,427.5 214.5,427.5 214.8,427.4 215.2,427.4 215.6,427.4 215.9,427.3 216.2,427.2 216.6,427.1 216.9,427.0 217.3,426.9 217.7,426.8 218.0,426.7 218.3,426.7 218.7,426.6 219.1,426.5 219.4,426.4 219.8,426.3 220.1,426.2 220.4,426.3 220.8,426.4 221.2,426.5 221.5,426.6 221.8,426.7 222.2,426.7 222.6,426.8 222.9,426.9 223.2,427.0 223.6,427.1 223.9,427.2 224.3,427.2 224.7,427.3 225.0,427.3 225.3,427.3 225.7,427.3 226.1,427.4 226.4,427.4 226.8,427.4 227.1,427.4 227.4,427.4 227.8,427.4 228.2,427.4 228.5,427.4 228.8,427.3 229.2,427.3 229.6,427.1 229.9,427.0 230.2,426.6 230.6,426.1 230.9,425.3 231.3,424.1 231.7,422.3 232.0,419.6 232.3,415.9 232.7,410.8 233.1,404.4 233.4,396.5 233.8,387.8 234.1,378.8 234.4,370.3 234.8,363.3 235.2,358.6 235.5,356.8 235.8,358.1 236.2,362.3 236.6,368.9 236.9,376.9 237.2,385.2 237.6,393.0 237.9,399.9 238.3,405.6 238.7,409.9 239.0,413.0 239.3,414.9 239.7,416.5 240.1,417.8 240.4,418.6 240.8,419.2 241.1,419.6 241.4,419.9 241.8,420.1 242.2,420.3 242.5,420.4 242.8,420.5 243.2,420.6 243.6,420.7 243.9,420.7 244.2,420.8 244.6,420.8 244.9,420.9 245.3,420.9 245.7,420.9 246.0,420.9 246.3,421.0 246.7,421.0 247.1,421.0 247.4,421.0 247.8,421.1 248.1,421.1 248.4,421.1 248.8,421.1 249.2,421.1 249.5,421.2 249.8,421.2 250.2,421.2 250.6,421.2 250.9,421.1 251.2,421.1 251.6,421.1 251.9,421.1 252.3,421.1 252.7,421.0 253.0,421.0 253.3,421.0 253.7,421.0 254.1,421.0 254.4,420.9 254.8,420.9 255.1,420.8 255.4,420.6 255.8,420.3 256.1,420.1 256.5,419.8 256.9,419.6 257.2,419.3 257.6,419.1 257.9,418.8 258.2,418.5 258.6,418.2 258.9,417.9 259.3,418.0 259.6,418.4 260.0,418.8 260.4,419.2 260.7,419.7 261.1,420.1 261.4,420.9 261.8,421.7 262.1,422.5 262.4,423.3 262.8,424.1 263.1,424.7 263.5,425.1 263.9,425.6 264.2,426.0 264.6,426.4 264.9,426.9 265.2,427.0 265.6,427.0 265.9,427.0 266.3,427.1 266.6,427.1 267.0,427.1 267.4,427.1 267.7,427.1 268.1,427.2 268.4,427.2 268.8,427.2 269.1,427.2 269.4,427.2 269.8,427.2 270.1,427.3 270.5,427.3 270.9,427.3 271.2,427.3 271.6,427.3 271.9,427.3 272.2,427.4 272.6,427.4 272.9,427.4 273.3,427.4 273.6,427.4 274.0,427.4 274.4,427.5 274.7,427.5 275.1,427.5 275.4,427.5 275.8,427.5 276.1,427.5 276.4,427.5 276.8,427.5 277.1,427.5 277.5,427.5 277.9,427.5 278.2,427.6 278.6,427.6 278.9,427.6 279.2,427.6 279.6,427.6 279.9,427.6 280.3,427.6 280.6,427.6 281.0,427.6 281.4,427.6 281.7,427.6 282.1,427.6 282.4,427.6 282.8,427.6 283.1,427.6 283.4,427.6 283.8,427.6 284.1,427.6 284.5,427.7 284.9,427.7 285.2,427.7 285.6,427.7 285.9,427.7 286.2,427.7 286.6,427.7 286.9,427.7 287.3,427.7 287.6,427.7 288.0,427.7 288.4,427.7 288.7,427.7 289.1,427.7 289.4,427.7 289.8,427.7 290.1,427.7 290.4,427.7 290.8,427.8 291.1,427.8 291.5,427.8 291.9,427.8 292.2,427.8 292.6,427.8 292.9,427.8 293.2,427.8 293.6,427.8 293.9,427.8 294.3,427.8 294.6,427.8 295.0,427.8 295.4,427.8 295.7,427.8 296.1,427.8 296.4,427.8 296.8,427.8 297.1,427.9 297.4,427.9 297.8,427.9 298.1,427.9 298.5,427.9 298.9,427.9 299.2,427.9 299.6,427.9 299.9,427.9 300.2,427.9 300.6,427.9 300.9,427.9 301.3,427.9 301.6,427.9 302.0,427.9 302.4,427.9 302.7,427.9 303.1,427.9 303.4,427.9 303.8,427.9 304.1,427.9 304.4,427.9 304.8,427.9 305.1,427.9 305.5,427.9 305.9,427.9 306.2,427.9 306.6,427.9 306.9,427.9 307.2,427.9 307.6,427.9 307.9,427.9 308.3,427.9 308.6,427.9 309.0,427.9 309.4,427.9 309.7,428.0 310.1,428.0 310.4,428.0 310.8,428.0 311.1,428.0 311.4,428.0 311.8,428.0 312.1,428.0 312.5,428.0 312.9,428.0 313.2,428.0 313.6,428.0 313.9,428.0 314.2,428.0 314.6,428.0 314.9,428.0 315.3,428.0 315.6,428.0 316.0,428.0 316.4,428.0 316.7,428.0 317.1,428.0 317.4,428.0 317.8,428.0 318.1,428.0 318.4,428.0 318.8,428.0 319.1,428.0 319.5,428.0 319.9,428.0 320.2,428.0 320.6,428.0 320.9,428.0 321.2,428.0 321.6,428.0 321.9,428.0 322.3,428.0 322.6,428.0 323.0,428.0 323.4,428.0 323.7,428.0 324.1,428.0 324.4,428.0 324.8,428.0 325.1,428.0 325.4,428.0 325.8,428.0 326.1,428.0 326.5,428.0 326.9,428.0 327.2,428.0 327.6,428.0 327.9,428.0 328.2,428.0 328.6,428.1 328.9,428.1 329.3,428.1 329.6,428.1 330.0,428.1 330.4,428.1 330.7,428.1 331.1,428.1 331.4,428.1 331.8,428.1 332.1,428.1 332.4,428.1 332.8,428.1 333.1,428.1 333.5,428.1 333.9,428.1 334.2,428.1 334.6,428.1 334.9,428.1 335.2,428.1 335.6,428.1 335.9,428.1 336.3,428.1 336.6,428.1 337.0,428.1 337.4,428.1 337.7,428.1 338.1,428.1" stroke="#151515" fill="none" stroke-width="0.85" stroke-linejoin="round"/>
<line x1="385.90" y1="262.20" x2="385.90" y2="340.10" stroke="#444" stroke-width="0.8" />
<line x1="385.90" y1="340.10" x2="509.90" y2="340.10" stroke="#444" stroke-width="0.8" />
<line x1="384.10" y1="340.10" x2="385.90" y2="340.10" stroke="#555" stroke-width="0.5" />
<line x1="384.80" y1="336.21" x2="385.90" y2="336.21" stroke="#555" stroke-width="0.5" />
<line x1="384.80" y1="332.31" x2="385.90" y2="332.31" stroke="#555" stroke-width="0.5" />
<line x1="384.80" y1="328.42" x2="385.90" y2="328.42" stroke="#555" stroke-width="0.5" />
<line x1="384.10" y1="324.52" x2="385.90" y2="324.52" stroke="#555" stroke-width="0.5" />
<line x1="384.80" y1="320.62" x2="385.90" y2="320.62" stroke="#555" stroke-width="0.5" />
<line x1="384.80" y1="316.73" x2="385.90" y2="316.73" stroke="#555" stroke-width="0.5" />
<line x1="384.80" y1="312.84" x2="385.90" y2="312.84" stroke="#555" stroke-width="0.5" />
<line x1="384.10" y1="308.94" x2="385.90" y2="308.94" stroke="#555" stroke-width="0.5" />
<line x1="384.80" y1="305.05" x2="385.90" y2="305.05" stroke="#555" stroke-width="0.5" />
<line x1="384.80" y1="301.15" x2="385.90" y2="301.15" stroke="#555" stroke-width="0.5" />
<line x1="384.80" y1="297.25" x2="385.90" y2="297.25" stroke="#555" stroke-width="0.5" />
<line x1="384.10" y1="293.36" x2="385.90" y2="293.36" stroke="#555" stroke-width="0.5" />
<line x1="384.80" y1="289.46" x2="385.90" y2="289.46" stroke="#555" stroke-width="0.5" />
<line x1="384.80" y1="285.57" x2="385.90" y2="285.57" stroke="#555" stroke-width="0.5" />
<line x1="384.80" y1="281.68" x2="385.90" y2="281.68" stroke="#555" stroke-width="0.5" />
<line x1="384.10" y1="277.78" x2="385.90" y2="277.78" stroke="#555" stroke-width="0.5" />
<line x1="384.80" y1="273.88" x2="385.90" y2="273.88" stroke="#555" stroke-width="0.5" />
<line x1="384.80" y1="269.99" x2="385.90" y2="269.99" stroke="#555" stroke-width="0.5" />
<line x1="384.80" y1="266.10" x2="385.90" y2="266.10" stroke="#555" stroke-width="0.5" />
<line x1="384.10" y1="262.20" x2="385.90" y2="262.20" stroke="#555" stroke-width="0.5" />
<text transform="translate(383.30,324.52) rotate(-90)" font-size="3.8" text-anchor="middle" fill="#777" style="stroke:none">20</text>
<text transform="translate(383.30,308.94) rotate(-90)" font-size="3.8" text-anchor="middle" fill="#777" style="stroke:none">40</text>
<text transform="translate(383.30,293.36) rotate(-90)" font-size="3.8" text-anchor="middle" fill="#777" style="stroke:none">60</text>
<text transform="translate(383.30,277.78) rotate(-90)" font-size="3.8" text-anchor="middle" fill="#777" style="stroke:none">80</text>
<text transform="translate(383.30,262.20) rotate(-90)" font-size="3.8" text-anchor="middle" fill="#777" style="stroke:none">100</text>
<text transform="translate(378.90,303.15) rotate(-90)" font-size="4" text-anchor="middle" fill="#888" style="stroke:none">Number</text>
<line x1="385.90" y1="340.10" x2="385.90" y2="341.90" stroke="#555" stroke-width="0.5" />
<line x1="390.86" y1="340.10" x2="390.86" y2="341.10" stroke="#555" stroke-width="0.5" />
<line x1="395.82" y1="340.10" x2="395.82" y2="341.10" stroke="#555" stroke-width="0.5" />
<line x1="400.78" y1="340.10" x2="400.78" y2="341.10" stroke="#555" stroke-width="0.5" />
<line x1="405.74" y1="340.10" x2="405.74" y2="341.10" stroke="#555" stroke-width="0.5" />
<line x1="410.70" y1="340.10" x2="410.70" y2="341.90" stroke="#555" stroke-width="0.5" />
<line x1="415.66" y1="340.10" x2="415.66" y2="341.10" stroke="#555" stroke-width="0.5" />
<line x1="420.62" y1="340.10" x2="420.62" y2="341.10" stroke="#555" stroke-width="0.5" />
<line x1="425.58" y1="340.10" x2="425.58" y2="341.10" stroke="#555" stroke-width="0.5" />
<line x1="430.54" y1="340.10" x2="430.54" y2="341.10" stroke="#555" stroke-width="0.5" />
<line x1="435.50" y1="340.10" x2="435.50" y2="341.90" stroke="#555" stroke-width="0.5" />
<line x1="440.46" y1="340.10" x2="440.46" y2="341.10" stroke="#555" stroke-width="0.5" />
<line x1="445.42" y1="340.10" x2="445.42" y2="341.10" stroke="#555" stroke-width="0.5" />
<line x1="450.38" y1="340.10" x2="450.38" y2="341.10" stroke="#555" stroke-width="0.5" />
<line x1="455.34" y1="340.10" x2="455.34" y2="341.10" stroke="#555" stroke-width="0.5" />
<line x1="460.30" y1="340.10" x2="460.30" y2="341.90" stroke="#555" stroke-width="0.5" />
<line x1="465.26" y1="340.10" x2="465.26" y2="341.10" stroke="#555" stroke-width="0.5" />
<line x1="470.22" y1="340.10" x2="470.22" y2="341.10" stroke="#555" stroke-width="0.5" />
<line x1="475.18" y1="340.10" x2="475.18" y2="341.10" stroke="#555" stroke-width="0.5" />
<line x1="480.14" y1="340.10" x2="480.14" y2="341.10" stroke="#555" stroke-width="0.5" />
<line x1="485.10" y1="340.10" x2="485.10" y2="341.90" stroke="#555" stroke-width="0.5" />
<line x1="490.06" y1="340.10" x2="490.06" y2="341.10" stroke="#555" stroke-width="0.5" />
<line x1="495.02" y1="340.10" x2="495.02" y2="341.10" stroke="#555" stroke-width="0.5" />
<line x1="499.98" y1="340.10" x2="499.98" y2="341.10" stroke="#555" stroke-width="0.5" />
<line x1="504.94" y1="340.10" x2="504.94" y2="341.10" stroke="#555" stroke-width="0.5" />
<line x1="509.90" y1="340.10" x2="509.90" y2="341.90" stroke="#555" stroke-width="0.5" />
<text x="385.90" y="345.30" font-size="3.8" text-anchor="middle" fill="#888" style="stroke:none">0</text>
<text x="410.70" y="345.30" font-size="3.8" text-anchor="middle" fill="#888" style="stroke:none">50</text>
<text x="435.50" y="345.30" font-size="3.8" text-anchor="middle" fill="#888" style="stroke:none">100</text>
<text x="460.30" y="345.30" font-size="3.8" text-anchor="middle" fill="#888" style="stroke:none">150</text>
<text x="485.10" y="345.30" font-size="3.8" text-anchor="middle" fill="#888" style="stroke:none">200</text>
<text x="509.90" y="345.30" font-size="3.8" text-anchor="middle" fill="#888" style="stroke:none">250</text>
<text x="415.10" y="348.70" font-size="4.6" textLength="41" lengthAdjust="spacingAndGlyphs" fill="#8a8ab0" style="stroke:none">Channels (FL2-A-FL2-Area)</text>
<polygon points="410.0,340.1 410.0,339.5 410.4,335.3 410.8,331.1 411.1,328.1 411.4,328.0 411.8,327.9 412.1,327.8 412.5,327.7 412.8,327.6 413.2,327.7 413.5,327.8 413.9,328.0 414.2,328.1 414.6,328.2 414.9,328.4 415.3,328.5 415.6,328.7 416.0,328.8 416.3,328.9 416.7,329.1 417.0,329.2 417.4,329.4 417.8,329.5 418.1,329.6 418.4,329.8 418.8,329.9 419.1,330.1 419.5,330.2 419.8,330.3 420.2,330.5 420.5,330.6 420.9,330.8 421.2,330.9 421.6,331.0 421.9,331.2 422.3,331.3 422.6,331.5 423.0,331.6 423.3,331.9 423.7,332.2 424.0,332.5 424.4,332.8 424.8,333.1 425.1,333.4 425.4,333.6 425.8,333.9 426.1,334.7 426.5,336.1 426.8,337.5 427.2,338.9 427.5,340.1" stroke="none" fill="#d8d8ee" stroke-width="1" />
<polyline points="434.2,338.5 434.5,338.5 434.9,338.5 435.2,338.5 435.6,338.5 435.9,338.5 436.3,338.5 436.6,338.5 437.0,338.5 437.3,338.5 437.7,338.5 438.0,338.5 438.4,338.5 438.8,338.5 439.1,338.5 439.4,338.5 439.8,338.5 440.1,338.5 440.5,338.5 440.8,338.5 441.2,338.5 441.5,338.5 441.9,338.5 442.2,338.5 442.6,338.5 442.9,338.5 443.3,338.5 443.6,338.5 444.0,338.5 444.3,338.5 444.7,338.5 445.0,338.5 445.4,338.5 445.8,338.5 446.1,338.5 446.4,338.5 446.8,338.5 447.1,338.5 447.5,338.5 447.8,338.5 448.2,338.5 448.5,338.5 448.9,338.5 449.2,338.5 449.6,338.5 449.9,338.5 450.3,338.5 450.6,338.5 451.0,338.5 451.3,338.5 451.7,338.6 452.0,338.6 452.4,338.6 452.8,338.6 453.1,338.6 453.4,338.6 453.8,338.6 454.1,338.6 454.5,338.6 454.8,338.6 455.2,338.7 455.5,338.7 455.9,338.7 456.2,338.7 456.6,338.7 456.9,338.7 457.3,338.7 457.6,338.7 458.0,338.7 458.3,338.8 458.7,338.8 459.0,338.8 459.4,338.8 459.8,338.8 460.1,338.8 460.4,338.8 460.8,338.8 461.1,338.8 461.5,338.8 461.8,338.9 462.2,338.9 462.5,338.9 462.9,338.9 463.2,338.9 463.6,338.9 463.9,338.9 464.3,338.9 464.6,338.9 465.0,339.0 465.3,339.0 465.7,339.0 466.0,339.0 466.4,339.0 466.8,339.0 467.1,339.0 467.4,339.0 467.8,339.0 468.1,339.0 468.5,339.1 468.8,339.1 469.2,339.1 469.5,339.1 469.9,339.1 470.2,339.1 470.6,339.1 470.9,339.1 471.3,339.1 471.6,339.1 472.0,339.1 472.3,339.1 472.7,339.1 473.0,339.1 473.4,339.1 473.8,339.1 474.1,339.2 474.4,339.2 474.8,339.2 475.1,339.2 475.5,339.2 475.8,339.2 476.2,339.2 476.5,339.2 476.9,339.2 477.2,339.2 477.6,339.2 477.9,339.2 478.3,339.2 478.6,339.2 479.0,339.2 479.3,339.2 479.7,339.2 480.0,339.2 480.4,339.2 480.8,339.2 481.1,339.2 481.4,339.2 481.8,339.3 482.1,339.3 482.5,339.3 482.8,339.3 483.2,339.3 483.5,339.3 483.9,339.3 484.2,339.3 484.6,339.3 484.9,339.3 485.3,339.3 485.6,339.3 486.0,339.3 486.3,339.3 486.7,339.3 487.0,339.3 487.4,339.3 487.8,339.3 488.1,339.3 488.4,339.3 488.8,339.3 489.1,339.3 489.5,339.4 489.8,339.4 490.2,339.4 490.5,339.4 490.9,339.4 491.2,339.4 491.6,339.4 491.9,339.4 492.3,339.4 492.6,339.4 493.0,339.4 493.3,339.4 493.7,339.4 494.0,339.4 494.4,339.4 494.8,339.4 495.1,339.4 495.4,339.4 495.8,339.4 496.1,339.4 496.5,339.4 496.8,339.4 497.2,339.4 497.5,339.5 497.9,339.5 498.2,339.5 498.6,339.5 498.9,339.5 499.3,339.5 499.6,339.5 500.0,339.5 500.3,339.5 500.7,339.5 501.0,339.5 501.4,339.5 501.8,339.5 502.1,339.5 502.4,339.5 502.8,339.5 503.1,339.5 503.5,339.5 503.8,339.5 504.2,339.5 504.5,339.5 504.9,339.5 505.2,339.6 505.6,339.6 505.9,339.6 506.3,339.6 506.6,339.6 507.0,339.6 507.3,339.6 507.7,339.6 508.0,339.6 508.4,339.6 508.8,339.6" stroke="#66bb66" fill="none" stroke-width="0.8" />
<polygon points="399.5,340.1 399.5,340.1 399.9,340.0 400.2,340.0 400.6,340.0 400.9,339.9 401.3,339.8 401.6,339.7 402.0,339.6 402.3,339.4 402.7,339.0 403.0,338.4 403.4,337.5 403.8,336.0 404.1,333.8 404.4,330.5 404.8,325.9 405.1,319.9 405.5,312.5 405.8,304.1 406.2,295.5 406.5,287.4 406.9,280.9 407.2,277.0 407.6,276.2 407.9,278.7 408.3,284.1 408.6,291.5 409.0,299.9 409.3,308.5 409.7,316.3 410.0,322.9 410.4,328.1 410.8,331.9 411.1,334.6 411.4,336.4 411.8,337.6 412.1,338.4 412.5,338.9 412.8,339.2 413.2,339.5 413.5,339.6 413.9,339.7 414.2,339.8 414.6,339.9 414.9,340.0 415.3,340.0 415.6,340.0 415.6,340.1" stroke="#8a0000" fill="#e31b1b" stroke-width="0.4" />
<polygon points="421.2,340.1 421.2,340.0 421.6,340.0 421.9,340.0 422.3,339.9 422.6,339.8 423.0,339.7 423.3,339.5 423.7,339.3 424.0,339.1 424.4,338.8 424.8,338.5 425.1,338.2 425.4,337.8 425.8,337.4 426.1,337.0 426.5,336.7 426.8,336.3 427.2,336.1 427.5,335.9 427.9,335.7 428.2,335.7 428.6,335.8 428.9,335.9 429.3,336.1 429.6,336.4 430.0,336.8 430.3,337.2 430.7,337.5 431.0,337.9 431.4,338.3 431.8,338.6 432.1,338.9 432.4,339.2 432.8,339.4 433.1,339.6 433.5,339.7 433.8,339.8 434.2,339.9 434.5,340.0 434.9,340.0 435.2,340.0 435.2,340.1" stroke="#8a0000" fill="#c0102a" stroke-width="0.4" />
<line x1="407.50" y1="265.27" x2="407.50" y2="277.10" stroke="#5aa" stroke-width="1.1" />
<polyline points="400.9,336.7 401.3,335.1 401.6,333.4 402.0,331.8 402.3,330.9 402.7,329.9 403.0,328.7 403.4,327.2 403.8,325.5 404.1,323.2 404.4,319.9 404.8,315.5 405.1,309.7 405.5,302.8 405.8,294.9 406.2,286.8 406.5,279.2 406.9,273.1 407.2,269.4 407.6,268.6 407.9,270.8 408.3,275.4 408.6,281.8 409.0,289.3 409.3,296.8 409.7,303.7 410.0,309.4 410.4,313.8 410.8,317.0 411.1,319.4 411.4,321.7 411.8,323.5 412.1,324.8 412.5,325.9 412.8,326.9 413.2,327.5 413.5,327.7 413.9,328.0 414.2,328.2 414.6,328.3 414.9,328.5 415.3,328.6 415.6,328.8 416.0,328.9 416.3,329.0 416.7,329.0 417.0,329.1 417.4,329.1 417.8,329.2 418.1,329.2 418.4,329.2 418.8,329.3 419.1,329.3 419.5,329.4 419.8,329.4 420.2,329.4 420.5,329.3 420.9,329.3 421.2,329.2 421.6,329.1 421.9,329.1 422.3,329.0 422.6,328.9 423.0,328.9 423.3,328.8 423.7,328.7 424.0,328.6 424.4,328.5 424.8,328.3 425.1,328.1 425.4,327.9 425.8,327.7 426.1,327.5 426.5,327.3 426.8,327.1 427.2,326.9 427.5,326.7 427.9,326.5 428.2,326.3 428.6,326.1 428.9,325.8 429.3,326.0 429.6,326.5 430.0,327.0 430.3,327.5 430.7,328.0 431.0,328.6 431.4,329.8 431.8,330.9 432.1,332.1 432.4,333.3 432.8,334.4 433.1,335.3 433.5,336.0 433.8,336.6" stroke="#777" fill="none" stroke-width="0.5" />
<polyline points="385.9,339.6 386.2,339.5 386.6,339.4 386.9,339.2 387.3,339.1 387.6,339.0 388.0,338.9 388.3,338.8 388.7,338.7 389.0,338.5 389.4,338.4 389.8,338.3 390.1,338.2 390.4,338.1 390.8,338.0 391.1,338.0 391.5,338.1 391.8,338.2 392.2,338.4 392.5,338.5 392.9,338.7 393.2,338.8 393.6,338.9 393.9,339.1 394.3,339.1 394.6,339.1 395.0,339.1 395.3,339.1 395.7,339.1 396.0,339.1 396.4,339.1 396.8,339.1 397.1,339.1 397.4,339.1 397.8,339.1 398.1,339.0 398.5,338.9 398.8,338.7 399.2,338.6 399.5,338.4 399.9,338.3 400.2,338.1 400.6,337.5 400.9,335.8 401.3,334.1 401.6,332.4 402.0,330.6 402.3,329.7 402.7,328.6 403.0,327.3 403.4,325.7 403.8,323.9 404.1,321.5 404.4,318.0 404.8,313.3 405.1,307.2 405.5,299.8 405.8,291.4 406.2,282.8 406.5,274.7 406.9,268.2 407.2,264.2 407.6,263.4 407.9,265.7 408.3,270.6 408.6,277.5 409.0,285.4 409.3,293.4 409.7,300.7 410.0,306.8 410.4,311.5 410.8,314.9 411.1,317.4 411.4,319.9 411.8,321.8 412.1,323.2 412.5,324.4 412.8,325.4 413.2,326.0 413.5,326.3 413.9,326.5 414.2,326.8 414.6,326.9 414.9,327.1 415.3,327.3 415.6,327.4 416.0,327.6 416.3,327.6 416.7,327.7 417.0,327.7 417.4,327.8 417.8,327.8 418.1,327.9 418.4,327.9 418.8,327.9 419.1,328.0 419.5,328.0 419.8,328.1 420.2,328.1 420.5,328.0 420.9,327.9 421.2,327.8 421.6,327.8 421.9,327.7 422.3,327.6 422.6,327.6 423.0,327.5 423.3,327.4 423.7,327.4 424.0,327.3 424.4,327.1 424.8,326.9 425.1,326.7 425.4,326.5 425.8,326.3 426.1,326.1 426.5,325.9 426.8,325.7 427.2,325.5 427.5,325.2 427.9,325.0 428.2,324.8 428.6,324.5 428.9,324.3 429.3,324.5 429.6,325.0 430.0,325.6 430.3,326.1 430.7,326.6 431.0,327.3 431.4,328.5 431.8,329.7 432.1,330.9 432.4,332.2 432.8,333.4 433.1,334.4 433.5,335.1 433.8,335.7 434.2,336.4 434.5,337.0 434.9,337.7 435.2,337.9 435.6,337.9 435.9,337.9 436.3,338.0 436.6,338.0 437.0,338.0 437.3,338.0 437.7,338.0 438.0,338.0 438.4,338.0 438.8,338.1 439.1,338.1 439.4,338.1 439.8,338.1 440.1,338.1 440.5,338.1 440.8,338.1 441.2,338.1 441.5,338.2 441.9,338.2 442.2,338.2 442.6,338.2 442.9,338.2 443.3,338.2 443.6,338.2 444.0,338.3 444.3,338.3 444.7,338.3 445.0,338.3 445.4,338.3 445.8,338.3 446.1,338.3 446.4,338.4 446.8,338.4 447.1,338.4 447.5,338.4 447.8,338.4 448.2,338.4 448.5,338.4 448.9,338.5 449.2,338.5 449.6,338.5 449.9,338.5 450.3,338.5 450.6,338.5 451.0,338.5 451.3,338.6 451.7,338.6 452.0,338.6 452.4,338.6 452.8,338.6 453.1,338.6 453.4,338.6 453.8,338.7 454.1,338.7 454.5,338.7 454.8,338.7 455.2,338.7 455.5,338.7 455.9,338.7 456.2,338.8 456.6,338.8 456.9,338.8 457.3,338.8 457.6,338.8 458.0,338.8 458.3,338.8 458.7,338.8 459.0,338.9 459.4,338.9 459.8,338.9 460.1,338.9 460.4,338.9 460.8,338.9 461.1,338.9 461.5,338.9 461.8,338.9 462.2,338.9 462.5,339.0 462.9,339.0 463.2,339.0 463.6,339.0 463.9,339.0 464.3,339.0 464.6,339.0 465.0,339.0 465.3,339.0 465.7,339.0 466.0,339.0 466.4,339.0 466.8,339.0 467.1,339.0 467.4,339.0 467.8,339.1 468.1,339.1 468.5,339.1 468.8,339.1 469.2,339.1 469.5,339.1 469.9,339.1 470.2,339.1 470.6,339.1 470.9,339.1 471.3,339.1 471.6,339.1 472.0,339.1 472.3,339.1 472.7,339.2 473.0,339.2 473.4,339.2 473.8,339.2 474.1,339.2 474.4,339.2 474.8,339.2 475.1,339.2 475.5,339.2 475.8,339.2 476.2,339.2 476.5,339.2 476.9,339.2 477.2,339.2 477.6,339.3 477.9,339.3 478.3,339.3 478.6,339.3 479.0,339.3 479.3,339.3 479.7,339.3 480.0,339.3 480.4,339.3 480.8,339.3 481.1,339.3 481.4,339.3 481.8,339.3 482.1,339.3 482.5,339.3 482.8,339.3 483.2,339.3 483.5,339.3 483.9,339.3 484.2,339.3 484.6,339.3 484.9,339.4 485.3,339.4 485.6,339.4 486.0,339.4 486.3,339.4 486.7,339.4 487.0,339.4 487.4,339.4 487.8,339.4 488.1,339.4 488.4,339.4 488.8,339.4 489.1,339.4 489.5,339.4 489.8,339.4 490.2,339.4 490.5,339.4 490.9,339.4 491.2,339.4 491.6,339.4 491.9,339.4 492.3,339.4 492.6,339.4 493.0,339.4 493.3,339.4 493.7,339.4 494.0,339.4 494.4,339.4 494.8,339.5 495.1,339.5 495.4,339.5 495.8,339.5 496.1,339.5 496.5,339.5 496.8,339.5 497.2,339.5 497.5,339.5 497.9,339.5 498.2,339.5 498.6,339.5 498.9,339.5 499.3,339.5 499.6,339.5 500.0,339.5 500.3,339.5 500.7,339.5 501.0,339.5 501.4,339.5 501.8,339.5 502.1,339.5 502.4,339.5 502.8,339.5 503.1,339.5 503.5,339.5 503.8,339.5 504.2,339.6 504.5,339.6 504.9,339.6 505.2,339.6 505.6,339.6 505.9,339.6 506.3,339.6 506.6,339.6 507.0,339.6 507.3,339.6 507.7,339.6 508.0,339.6 508.4,339.6 508.8,339.6 509.1,339.6 509.4,339.6 509.8,339.6" stroke="#151515" fill="none" stroke-width="0.85" stroke-linejoin="round"/>
<line x1="383.80" y1="355.80" x2="383.80" y2="429.30" stroke="#444" stroke-width="0.8" />
<line x1="383.80" y1="429.30" x2="507.00" y2="429.30" stroke="#444" stroke-width="0.8" />
<line x1="382.00" y1="429.30" x2="383.80" y2="429.30" stroke="#555" stroke-width="0.5" />
<line x1="382.70" y1="425.62" x2="383.80" y2="425.62" stroke="#555" stroke-width="0.5" />
<line x1="382.70" y1="421.95" x2="383.80" y2="421.95" stroke="#555" stroke-width="0.5" />
<line x1="382.70" y1="418.28" x2="383.80" y2="418.28" stroke="#555" stroke-width="0.5" />
<line x1="382.00" y1="414.60" x2="383.80" y2="414.60" stroke="#555" stroke-width="0.5" />
<line x1="382.70" y1="410.93" x2="383.80" y2="410.93" stroke="#555" stroke-width="0.5" />
<line x1="382.70" y1="407.25" x2="383.80" y2="407.25" stroke="#555" stroke-width="0.5" />
<line x1="382.70" y1="403.57" x2="383.80" y2="403.57" stroke="#555" stroke-width="0.5" />
<line x1="382.00" y1="399.90" x2="383.80" y2="399.90" stroke="#555" stroke-width="0.5" />
<line x1="382.70" y1="396.23" x2="383.80" y2="396.23" stroke="#555" stroke-width="0.5" />
<line x1="382.70" y1="392.55" x2="383.80" y2="392.55" stroke="#555" stroke-width="0.5" />
<line x1="382.70" y1="388.88" x2="383.80" y2="388.88" stroke="#555" stroke-width="0.5" />
<line x1="382.00" y1="385.20" x2="383.80" y2="385.20" stroke="#555" stroke-width="0.5" />
<line x1="382.70" y1="381.53" x2="383.80" y2="381.53" stroke="#555" stroke-width="0.5" />
<line x1="382.70" y1="377.85" x2="383.80" y2="377.85" stroke="#555" stroke-width="0.5" />
<line x1="382.70" y1="374.18" x2="383.80" y2="374.18" stroke="#555" stroke-width="0.5" />
<line x1="382.00" y1="370.50" x2="383.80" y2="370.50" stroke="#555" stroke-width="0.5" />
<line x1="382.70" y1="366.82" x2="383.80" y2="366.82" stroke="#555" stroke-width="0.5" />
<line x1="382.70" y1="363.15" x2="383.80" y2="363.15" stroke="#555" stroke-width="0.5" />
<line x1="382.70" y1="359.48" x2="383.80" y2="359.48" stroke="#555" stroke-width="0.5" />
<line x1="382.00" y1="355.80" x2="383.80" y2="355.80" stroke="#555" stroke-width="0.5" />
<text transform="translate(381.20,414.60) rotate(-90)" font-size="3.8" text-anchor="middle" fill="#777" style="stroke:none">20</text>
<text transform="translate(381.20,399.90) rotate(-90)" font-size="3.8" text-anchor="middle" fill="#777" style="stroke:none">40</text>
<text transform="translate(381.20,385.20) rotate(-90)" font-size="3.8" text-anchor="middle" fill="#777" style="stroke:none">60</text>
<text transform="translate(381.20,370.50) rotate(-90)" font-size="3.8" text-anchor="middle" fill="#777" style="stroke:none">80</text>
<text transform="translate(381.20,355.80) rotate(-90)" font-size="3.8" text-anchor="middle" fill="#777" style="stroke:none">100</text>
<text transform="translate(376.80,394.55) rotate(-90)" font-size="4" text-anchor="middle" fill="#888" style="stroke:none">Number</text>
<line x1="383.80" y1="429.30" x2="383.80" y2="431.10" stroke="#555" stroke-width="0.5" />
<line x1="388.73" y1="429.30" x2="388.73" y2="430.30" stroke="#555" stroke-width="0.5" />
<line x1="393.66" y1="429.30" x2="393.66" y2="430.30" stroke="#555" stroke-width="0.5" />
<line x1="398.58" y1="429.30" x2="398.58" y2="430.30" stroke="#555" stroke-width="0.5" />
<line x1="403.51" y1="429.30" x2="403.51" y2="430.30" stroke="#555" stroke-width="0.5" />
<line x1="408.44" y1="429.30" x2="408.44" y2="431.10" stroke="#555" stroke-width="0.5" />
<line x1="413.37" y1="429.30" x2="413.37" y2="430.30" stroke="#555" stroke-width="0.5" />
<line x1="418.30" y1="429.30" x2="418.30" y2="430.30" stroke="#555" stroke-width="0.5" />
<line x1="423.22" y1="429.30" x2="423.22" y2="430.30" stroke="#555" stroke-width="0.5" />
<line x1="428.15" y1="429.30" x2="428.15" y2="430.30" stroke="#555" stroke-width="0.5" />
<line x1="433.08" y1="429.30" x2="433.08" y2="431.10" stroke="#555" stroke-width="0.5" />
<line x1="438.01" y1="429.30" x2="438.01" y2="430.30" stroke="#555" stroke-width="0.5" />
<line x1="442.94" y1="429.30" x2="442.94" y2="430.30" stroke="#555" stroke-width="0.5" />
<line x1="447.86" y1="429.30" x2="447.86" y2="430.30" stroke="#555" stroke-width="0.5" />
<line x1="452.79" y1="429.30" x2="452.79" y2="430.30" stroke="#555" stroke-width="0.5" />
<line x1="457.72" y1="429.30" x2="457.72" y2="431.10" stroke="#555" stroke-width="0.5" />
<line x1="462.65" y1="429.30" x2="462.65" y2="430.30" stroke="#555" stroke-width="0.5" />
<line x1="467.58" y1="429.30" x2="467.58" y2="430.30" stroke="#555" stroke-width="0.5" />
<line x1="472.50" y1="429.30" x2="472.50" y2="430.30" stroke="#555" stroke-width="0.5" />
<line x1="477.43" y1="429.30" x2="477.43" y2="430.30" stroke="#555" stroke-width="0.5" />
<line x1="482.36" y1="429.30" x2="482.36" y2="431.10" stroke="#555" stroke-width="0.5" />
<line x1="487.29" y1="429.30" x2="487.29" y2="430.30" stroke="#555" stroke-width="0.5" />
<line x1="492.22" y1="429.30" x2="492.22" y2="430.30" stroke="#555" stroke-width="0.5" />
<line x1="497.14" y1="429.30" x2="497.14" y2="430.30" stroke="#555" stroke-width="0.5" />
<line x1="502.07" y1="429.30" x2="502.07" y2="430.30" stroke="#555" stroke-width="0.5" />
<line x1="507.00" y1="429.30" x2="507.00" y2="431.10" stroke="#555" stroke-width="0.5" />
<text x="383.80" y="434.50" font-size="3.8" text-anchor="middle" fill="#888" style="stroke:none">0</text>
<text x="408.44" y="434.50" font-size="3.8" text-anchor="middle" fill="#888" style="stroke:none">50</text>
<text x="433.08" y="434.50" font-size="3.8" text-anchor="middle" fill="#888" style="stroke:none">100</text>
<text x="457.72" y="434.50" font-size="3.8" text-anchor="middle" fill="#888" style="stroke:none">150</text>
<text x="482.36" y="434.50" font-size="3.8" text-anchor="middle" fill="#888" style="stroke:none">200</text>
<text x="507.00" y="434.50" font-size="3.8" text-anchor="middle" fill="#888" style="stroke:none">250</text>
<text x="417.80" y="437.90" font-size="4.6" textLength="40" lengthAdjust="spacingAndGlyphs" fill="#8a8ab0" style="stroke:none">Channels (FL2-A-FL2-Area)</text>
<polygon points="412.0,429.3 412.2,428.9 412.5,428.1 412.9,427.2 413.2,426.8 413.6,426.8 413.9,426.8 414.2,426.8 414.6,426.8 414.9,426.9 415.3,426.9 415.7,426.9 416.0,426.9 416.4,426.9 416.7,426.9 417.1,426.9 417.4,426.9 417.8,426.9 418.1,426.9 418.4,427.0 418.8,427.0 419.1,427.0 419.5,427.0 419.9,427.0 420.2,427.0 420.6,427.0 420.9,427.0 421.2,427.0 421.6,427.1 421.9,427.1 422.3,427.1 422.6,427.1 423.0,427.1 423.4,427.1 423.7,427.1 424.1,427.2 424.4,427.2 424.8,427.2 425.1,427.2 425.4,427.2 425.8,427.2 426.1,427.2 426.5,427.2 426.9,427.3 427.2,427.3 427.6,427.3 427.9,427.3 428.2,427.6 428.6,427.9 428.9,428.2 429.3,428.6 429.6,428.9 430.0,429.3 430.0,429.3" stroke="none" fill="#d8d8ee" stroke-width="1" />
<polyline points="432.1,427.9 432.4,426.7 432.8,425.5 433.1,424.3 433.5,423.1 433.9,421.8 434.2,422.0 434.6,423.2 434.9,424.4 435.2,425.7 435.6,426.9 435.9,428.1 436.3,428.3 436.6,428.3 437.0,428.3 437.4,428.3 437.7,428.3 438.1,428.3 438.4,428.3 438.8,428.3 439.1,428.3 439.4,428.3 439.8,428.3 440.1,428.3 440.5,428.3 440.9,428.3 441.2,428.3 441.6,428.3 441.9,428.3 442.2,428.3 442.6,428.3 442.9,428.3 443.3,428.3 443.6,428.3 444.0,428.3 444.4,428.3 444.7,428.3 445.1,428.3 445.4,428.3 445.8,428.2 446.1,428.2 446.4,428.2 446.8,428.1 447.1,428.1 447.5,428.1 447.9,428.0 448.2,428.0 448.6,428.0 448.9,427.9 449.2,427.9 449.6,427.9 449.9,427.8 450.3,427.8 450.6,427.8 451.0,427.7 451.4,427.7 451.7,427.7 452.1,427.6 452.4,427.6 452.8,427.6 453.1,427.6 453.4,427.5 453.8,427.5 454.1,427.5 454.5,427.4 454.9,427.4 455.2,427.4 455.6,427.3 455.9,427.3 456.2,427.3 456.6,427.2 456.9,427.2 457.3,427.2 457.6,427.1 458.0,427.1 458.4,427.1 458.7,427.2 459.1,427.2 459.4,427.3 459.8,427.3 460.1,427.3 460.4,427.4 460.8,427.4 461.1,427.5 461.5,427.5 461.9,427.5 462.2,427.6 462.6,427.6 462.9,427.7 463.2,427.7 463.6,427.8 463.9,427.8 464.3,427.8 464.6,427.9 465.0,427.9 465.4,428.0 465.7,428.0 466.1,428.0 466.4,428.1 466.8,428.1 467.1,428.2 467.4,428.2 467.8,428.2 468.1,428.3 468.5,428.3 468.9,428.4 469.2,428.4 469.6,428.4 469.9,428.5 470.2,428.5 470.6,428.5 470.9,428.5 471.3,428.5 471.6,428.5 472.0,428.5 472.4,428.5 472.7,428.5 473.1,428.5 473.4,428.5 473.8,428.5 474.1,428.5 474.4,428.5 474.8,428.6 475.1,428.6 475.5,428.6 475.9,428.6 476.2,428.6 476.6,428.6 476.9,428.6 477.2,428.6 477.6,428.6 477.9,428.6 478.3,428.6 478.6,428.6 479.0,428.6 479.4,428.6 479.7,428.6 480.1,428.6 480.4,428.6 480.8,428.6 481.1,428.6 481.4,428.6 481.8,428.6 482.1,428.6 482.5,428.6 482.9,428.6 483.2,428.6 483.6,428.6 483.9,428.7 484.2,428.7 484.6,428.7 484.9,428.7 485.3,428.7 485.6,428.7 486.0,428.7 486.4,428.7 486.7,428.7 487.1,428.7 487.4,428.7 487.8,428.7 488.1,428.7 488.4,428.7 488.8,428.7 489.1,428.7 489.5,428.7 489.9,428.7 490.2,428.7 490.6,428.7 490.9,428.7 491.2,428.7 491.6,428.7 491.9,428.7 492.3,428.7 492.6,428.7 493.0,428.7 493.4,428.8 493.7,428.8 494.1,428.8 494.4,428.8 494.8,428.8 495.1,428.8 495.4,428.8 495.8,428.8 496.1,428.8 496.5,428.8 496.9,428.8 497.2,428.8 497.6,428.8 497.9,428.8 498.2,428.8 498.6,428.8 498.9,428.8 499.3,428.8 499.6,428.8 500.0,428.8 500.4,428.8 500.7,428.8 501.1,428.8 501.4,428.8 501.8,428.8 502.1,428.8 502.4,428.9 502.8,428.9 503.1,428.9 503.5,428.9 503.9,428.9 504.2,428.9 504.6,428.9 504.9,428.9 505.2,428.9 505.6,428.9 505.9,428.9 506.3,428.9 506.6,428.9 507.0,428.9" stroke="#66bb66" fill="none" stroke-width="0.8" />
<polygon points="401.7,429.3 401.7,429.3 402.0,429.3 402.4,429.2 402.7,429.2 403.1,429.2 403.4,429.1 403.8,429.0 404.1,428.9 404.4,428.7 404.8,428.4 405.2,428.0 405.5,427.3 405.9,426.2 406.2,424.5 406.6,422.0 406.9,418.3 407.2,413.2 407.6,406.8 407.9,399.2 408.3,390.9 408.7,382.6 409.0,375.3 409.4,370.0 409.7,367.5 410.1,368.1 410.4,371.8 410.8,377.9 411.1,385.6 411.4,394.0 411.8,402.0 412.2,409.1 412.5,415.0 412.9,419.4 413.2,422.6 413.6,424.8 413.9,426.3 414.2,427.3 414.6,427.9 414.9,428.3 415.3,428.6 415.7,428.7 416.0,428.9 416.4,429.0 416.7,429.1 417.1,429.1 417.4,429.2 417.8,429.2 417.8,429.3" stroke="#8a0000" fill="#e31b1b" stroke-width="0.4" />
<polygon points="428.6,429.3 428.6,429.2 428.9,429.2 429.3,429.1 429.6,429.0 430.0,428.8 430.4,428.6 430.7,428.3 431.1,427.9 431.4,427.4 431.8,426.8 432.1,426.1 432.4,425.5 432.8,424.9 433.1,424.4 433.5,424.0 433.9,423.8 434.2,423.8 434.6,424.1 434.9,424.4 435.2,425.0 435.6,425.6 435.9,426.2 436.3,426.9 436.6,427.4 437.0,427.9 437.4,428.3 437.7,428.6 438.1,428.9 438.4,429.0 438.8,429.1 439.1,429.2 439.1,429.3" stroke="#8a0000" fill="#c0102a" stroke-width="0.4" />
<line x1="409.80" y1="364.67" x2="409.80" y2="368.30" stroke="#5aa" stroke-width="1.1" />
<polyline points="405.9,425.1 406.2,423.4 406.6,420.8 406.9,417.2 407.2,412.2 407.6,405.9 407.9,398.5 408.3,390.4 408.7,382.3 409.0,375.1 409.4,370.0 409.7,367.5 410.1,368.0 410.4,371.5 410.8,377.4 411.1,384.9 411.4,392.9 411.8,400.7 412.2,407.5 412.5,413.2 412.9,417.5 413.2,420.6 413.6,422.8 413.9,424.2 414.2,425.1 414.6,425.7 414.9,426.1" stroke="#777" fill="none" stroke-width="0.5" />
<polyline points="427.2,426.0 427.6,425.9 427.9,425.7 428.2,425.6 428.6,425.4 428.9,425.2 429.3,424.7 429.6,424.2 430.0,423.6 430.4,423.1 430.7,422.5 431.1,422.0 431.4,421.4 431.8,420.9 432.1,420.3 432.4,419.8 432.8,419.2 433.1,418.6 433.5,418.0 433.9,417.5 434.2,417.5 434.6,418.1 434.9,418.7 435.2,419.3 435.6,419.8 435.9,420.4 436.3,421.3 436.6,422.3 437.0,423.3 437.4,424.3 437.7,425.3" stroke="#777" fill="none" stroke-width="0.5" />
<polyline points="383.8,428.7 384.2,428.6 384.5,428.4 384.9,428.3 385.2,428.1 385.6,428.0 385.9,427.8 386.2,427.6 386.6,427.3 386.9,427.1 387.3,426.8 387.7,426.6 388.0,426.3 388.4,426.5 388.7,426.8 389.1,427.0 389.4,427.3 389.8,427.5 390.1,427.7 390.4,427.7 390.8,427.8 391.2,427.8 391.5,427.8 391.9,427.8 392.2,427.9 392.6,427.9 392.9,427.9 393.2,428.0 393.6,428.0 393.9,428.0 394.3,428.0 394.7,428.1 395.0,428.1 395.4,428.1 395.7,428.1 396.1,428.1 396.4,428.1 396.8,428.1 397.1,428.1 397.4,428.1 397.8,428.1 398.2,428.1 398.5,428.1 398.9,428.1 399.2,428.0 399.6,428.0 399.9,428.0 400.2,428.0 400.6,428.0 400.9,428.0 401.3,428.0 401.7,428.0 402.0,428.0 402.4,427.9 402.7,427.9 403.1,427.8 403.4,427.7 403.8,427.5 404.1,427.3 404.4,427.1 404.8,426.7 405.2,426.2 405.5,425.4 405.9,424.2 406.2,422.3 406.6,419.6 406.9,415.7 407.2,410.5 407.6,403.8 407.9,395.9 408.3,387.2 408.7,378.6 409.0,371.0 409.4,365.5 409.7,362.9 410.1,363.4 410.4,367.2 410.8,373.5 411.1,381.4 411.4,389.9 411.8,398.2 412.2,405.5 412.5,411.5 412.9,416.1 413.2,419.4 413.6,421.7 413.9,423.2 414.2,424.2 414.6,424.8 414.9,425.2 415.3,425.5 415.7,425.7 416.0,425.9 416.4,426.0 416.7,426.1 417.1,426.1 417.4,426.2 417.8,426.2 418.1,426.2 418.4,426.3 418.8,426.3 419.1,426.3 419.5,426.3 419.9,426.3 420.2,426.3 420.6,426.3 420.9,426.3 421.2,426.3 421.6,426.3 421.9,426.3 422.3,426.3 422.6,426.3 423.0,426.3 423.4,426.3 423.7,426.3 424.1,426.3 424.4,426.3 424.8,426.3 425.1,426.2 425.4,426.1 425.8,425.9 426.1,425.7 426.5,425.5 426.9,425.4 427.2,425.2 427.6,425.0 427.9,424.8 428.2,424.7 428.6,424.5 428.9,424.3 429.3,423.8 429.6,423.2 430.0,422.6 430.4,422.0 430.7,421.5 431.1,420.9 431.4,420.3 431.8,419.7 432.1,419.1 432.4,418.5 432.8,417.9 433.1,417.3 433.5,416.7 433.9,416.1 434.2,416.1 434.6,416.8 434.9,417.4 435.2,418.0 435.6,418.6 435.9,419.2 436.3,420.2 436.6,421.2 437.0,422.3 437.4,423.4 437.7,424.4 438.1,425.3 438.4,425.5 438.8,425.8 439.1,426.0 439.4,426.2 439.8,426.4 440.1,426.6 440.5,426.8 440.9,427.0 441.2,427.1 441.6,427.1 441.9,427.2 442.2,427.2 442.6,427.2 442.9,427.2 443.3,427.3 443.6,427.3 444.0,427.3 444.4,427.3 444.7,427.3 445.1,427.4 445.4,427.4 445.8,427.4 446.1,427.4 446.4,427.5 446.8,427.5 447.1,427.5 447.5,427.5 447.9,427.6 448.2,427.6 448.6,427.6 448.9,427.6 449.2,427.7 449.6,427.7 449.9,427.7 450.3,427.7 450.6,427.6 451.0,427.6 451.4,427.5 451.7,427.5 452.1,427.5 452.4,427.4 452.8,427.4 453.1,427.3 453.4,427.3 453.8,427.2 454.1,427.2 454.5,427.2 454.9,427.1 455.2,427.0 455.6,427.0 455.9,426.9 456.2,426.8 456.6,426.7 456.9,426.6 457.3,426.5 457.6,426.4 458.0,426.3 458.4,426.4 458.7,426.5 459.1,426.7 459.4,426.8 459.8,426.9 460.1,427.0 460.4,427.1 460.8,427.2 461.1,427.3 461.5,427.4 461.9,427.4 462.2,427.4 462.6,427.5 462.9,427.5 463.2,427.6 463.6,427.6 463.9,427.6 464.3,427.7 464.6,427.7 465.0,427.7 465.4,427.8 465.7,427.8 466.1,427.9 466.4,427.9 466.8,427.9 467.1,428.0 467.4,428.0 467.8,428.1 468.1,428.1 468.5,428.1 468.9,428.2 469.2,428.2 469.6,428.2 469.9,428.3 470.2,428.3 470.6,428.3 470.9,428.3 471.3,428.3 471.6,428.3 472.0,428.3 472.4,428.3 472.7,428.3 473.1,428.3 473.4,428.3 473.8,428.4 474.1,428.4 474.4,428.4 474.8,428.4 475.1,428.4 475.5,428.4 475.9,428.4 476.2,428.4 476.6,428.4 476.9,428.4 477.2,428.4 477.6,428.4 477.9,428.4 478.3,428.4 478.6,428.4 479.0,428.4 479.4,428.4 479.7,428.4 480.1,428.4 480.4,428.4 480.8,428.4 481.1,428.4 481.4,428.5 481.8,428.5 482.1,428.5 482.5,428.5 482.9,428.5 483.2,428.5 483.6,428.5 483.9,428.5 484.2,428.5 484.6,428.5 484.9,428.5 485.3,428.5 485.6,428.5 486.0,428.5 486.4,428.5 486.7,428.5 487.1,428.5 487.4,428.5 487.8,428.5 488.1,428.5 488.4,428.5 488.8,428.6 489.1,428.6 489.5,428.6 489.9,428.6 490.2,428.6 490.6,428.6 490.9,428.6 491.2,428.6 491.6,428.6 491.9,428.6 492.3,428.6 492.6,428.6 493.0,428.6 493.4,428.6 493.7,428.6 494.1,428.6 494.4,428.6 494.8,428.6 495.1,428.6 495.4,428.6 495.8,428.6 496.1,428.7 496.5,428.7 496.9,428.7 497.2,428.7 497.6,428.7 497.9,428.7 498.2,428.7 498.6,428.7 498.9,428.7 499.3,428.7 499.6,428.7 500.0,428.7 500.4,428.7 500.7,428.7 501.1,428.7 501.4,428.7 501.8,428.7 502.1,428.7 502.4,428.7 502.8,428.7 503.1,428.7 503.5,428.8 503.9,428.8 504.2,428.8 504.6,428.8 504.9,428.8 505.2,428.8 505.6,428.8 505.9,428.8 506.3,428.8 506.6,428.8 507.0,428.8" stroke="#151515" fill="none" stroke-width="0.85" stroke-linejoin="round"/>
<text x="110.80" y="269.40" font-size="9.5" text-anchor="middle" font-weight="normal" fill="#1e1e1e" style="stroke-width:0.18px" >DMSO Control</text>
<text x="157.10" y="302.60" font-size="9.5" text-anchor="end" font-weight="normal" fill="#1e1e1e" style="stroke-width:0.18px" xml:space="preserve">G1: 46.94%</text>
<text x="157.10" y="314.10" font-size="9.5" text-anchor="end" font-weight="normal" fill="#1e1e1e" style="stroke-width:0.18px" xml:space="preserve">G2:   7.18%</text>
<text x="157.10" y="325.70" font-size="9.5" text-anchor="end" font-weight="normal" fill="#1e1e1e" style="stroke-width:0.18px" xml:space="preserve">S: 45.88%</text>
<text x="107.60" y="364.50" font-size="9.25" text-anchor="middle" font-weight="normal" fill="#1e1e1e" style="stroke-width:0.18px" >10uM FTI-277</text>
<text x="165.50" y="389.00" font-size="9.5" text-anchor="end" font-weight="normal" fill="#1e1e1e" style="stroke-width:0.18px" xml:space="preserve">G1: 43.00%</text>
<text x="165.50" y="399.00" font-size="9.5" text-anchor="end" font-weight="normal" fill="#1e1e1e" style="stroke-width:0.18px" xml:space="preserve">G2: 38.09%</text>
<text x="165.50" y="409.10" font-size="9.5" text-anchor="end" font-weight="normal" fill="#1e1e1e" style="stroke-width:0.18px" xml:space="preserve">S: 18.90%</text>
<text x="277.00" y="270.00" font-size="9.5" text-anchor="middle" font-weight="normal" fill="#1e1e1e" style="stroke-width:0.18px" >DMSO Control</text>
<text x="335.00" y="302.60" font-size="9.5" text-anchor="end" font-weight="normal" fill="#1e1e1e" style="stroke-width:0.18px" xml:space="preserve">G1: 40.2%</text>
<text x="335.00" y="314.10" font-size="9.5" text-anchor="end" font-weight="normal" fill="#1e1e1e" style="stroke-width:0.18px" xml:space="preserve">G2: 15.7%</text>
<text x="335.00" y="325.70" font-size="9.5" text-anchor="end" font-weight="normal" fill="#1e1e1e" style="stroke-width:0.18px" xml:space="preserve">S: 44.1%</text>
<text x="278.60" y="364.40" font-size="9.5" text-anchor="middle" font-weight="normal" fill="#1e1e1e" style="stroke-width:0.18px" >50um U0126</text>
<text x="336.10" y="390.40" font-size="9.5" text-anchor="end" font-weight="normal" fill="#1e1e1e" style="stroke-width:0.18px" xml:space="preserve">G1: 55.7%</text>
<text x="336.10" y="401.30" font-size="9.5" text-anchor="end" font-weight="normal" fill="#1e1e1e" style="stroke-width:0.18px" xml:space="preserve">G2:    8.7%</text>
<text x="336.10" y="412.90" font-size="9.5" text-anchor="end" font-weight="normal" fill="#1e1e1e" style="stroke-width:0.18px" xml:space="preserve">S: 34.6%</text>
<text x="463.50" y="270.00" font-size="9.5" text-anchor="middle" font-weight="normal" fill="#1e1e1e" style="stroke-width:0.18px" >DMSO Control</text>
<text x="510.50" y="302.60" font-size="9.5" text-anchor="end" font-weight="normal" fill="#1e1e1e" style="stroke-width:0.18px" xml:space="preserve">G1: 46.94%</text>
<text x="510.50" y="314.10" font-size="9.5" text-anchor="end" font-weight="normal" fill="#1e1e1e" style="stroke-width:0.18px" xml:space="preserve">G2:  7.18%</text>
<text x="510.50" y="325.70" font-size="9.5" text-anchor="end" font-weight="normal" fill="#1e1e1e" style="stroke-width:0.18px" xml:space="preserve">S: 45.88%</text>
<text x="463.50" y="365.00" font-size="9.5" text-anchor="middle" font-weight="normal" fill="#1e1e1e" style="stroke-width:0.18px" >20nM Rapamycin</text>
<text x="509.90" y="391.00" font-size="9.5" text-anchor="end" font-weight="normal" fill="#1e1e1e" style="stroke-width:0.18px" xml:space="preserve">G1: 62.08%</text>
<text x="509.90" y="401.90" font-size="9.5" text-anchor="end" font-weight="normal" fill="#1e1e1e" style="stroke-width:0.18px" xml:space="preserve">G2:    8.71%</text>
<text x="509.90" y="412.90" font-size="9.5" text-anchor="end" font-weight="normal" fill="#1e1e1e" style="stroke-width:0.18px" xml:space="preserve">S: 29.20%</text>
<defs><filter id="b1" x="-20%" y="-50%" width="140%" height="200%"><feGaussianBlur stdDeviation="0.5 0.6"/></filter><filter id="b2" x="-20%" y="-80%" width="140%" height="260%"><feGaussianBlur stdDeviation="0.9"/></filter></defs>
<text x="110.00" y="461.20" font-size="11.5" text-anchor="middle" font-weight="normal" fill="#1e1e1e" style="stroke-width:0.24px" >C</text>
<text x="153.00" y="461.20" font-size="11.5" text-anchor="middle" font-weight="normal" fill="#1e1e1e" style="stroke-width:0.24px" >Rapa</text>
<text x="198.60" y="461.20" font-size="11.5" text-anchor="middle" font-weight="normal" fill="#1e1e1e" style="stroke-width:0.24px" >FTI</text>
<rect x="87.80" y="466.10" width="131.60" height="82.20" fill="#fff" stroke="#111" stroke-width="1.3" />
<path d="M94.6,476.4 C98,475.9 102,475.1 106,475.4" stroke="#4a4a4a" stroke-width="2.6" fill="none" filter="url(#b1)" stroke-linecap="round"/>
<path d="M104,475.3 C109,475.9 113,479.1 118.3,479.1 C121.5,479.0 123.5,477.7 124.8,476.0" stroke="#111" stroke-width="3.4" fill="none" filter="url(#b1)" stroke-linecap="round"/>
<path d="M94.60,497.40 Q96.56,495.90 101.14,495.90 L120.76,495.90 Q125.34,495.90 127.30,497.40 Q125.34,498.90 120.76,498.90 L101.14,498.90 Q96.56,498.90 94.60,497.40 Z" fill="#0e0e0e" filter="url(#b1)" opacity="1"/>
<path d="M95,515.3 L111,516.6" stroke="#333" stroke-width="1.8" fill="none" filter="url(#b1)"/>
<path d="M106.00,516.90 Q106.58,515.30 108.88,515.30 L112.72,515.30 Q115.02,515.30 115.60,516.90 Q115.02,518.50 112.72,518.50 L108.88,518.50 Q106.58,518.50 106.00,516.90 Z" fill="#1a1a1a" filter="url(#b1)" opacity="1"/>
<rect x="92.70" y="532.10" width="34.60" height="10.20" rx="5.00" fill="#2a2118" filter="url(#b1)" opacity="1"/>
<rect x="131.70" y="533.00" width="37.90" height="9.60" rx="4.80" fill="#2a2118" filter="url(#b1)" opacity="1"/>
<rect x="174.80" y="533.00" width="31.20" height="9.60" rx="4.80" fill="#2a2118" filter="url(#b1)" opacity="1"/>
<path d="M97.00,536.80 Q98.56,535.05 104.80,535.05 L115.20,535.05 Q121.44,535.05 123.00,536.80 Q121.44,538.55 115.20,538.55 L104.80,538.55 Q98.56,538.55 97.00,536.80 Z" fill="#40362a" filter="url(#b2)" opacity="1"/>
<path d="M136.00,537.60 Q137.74,536.00 144.70,536.00 L156.30,536.00 Q163.26,536.00 165.00,537.60 Q163.26,539.20 156.30,539.20 L144.70,539.20 Q137.74,539.20 136.00,537.60 Z" fill="#40362a" filter="url(#b2)" opacity="1"/>
<path d="M179.00,537.60 Q180.38,536.00 185.90,536.00 L195.10,536.00 Q200.62,536.00 202.00,537.60 Q200.62,539.20 195.10,539.20 L185.90,539.20 Q180.38,539.20 179.00,537.60 Z" fill="#40362a" filter="url(#b2)" opacity="1"/>
<path d="M136.20,475.80 Q138.02,474.70 141.65,474.70 L161.05,474.70 Q164.68,474.70 166.50,475.80 Q164.68,476.90 161.05,476.90 L141.65,476.90 Q138.02,476.90 136.20,475.80 Z" fill="#b4b4b4" filter="url(#b2)" opacity="1"/>
<path d="M140.00,497.20 Q141.44,496.40 144.32,496.40 L159.68,496.40 Q162.56,496.40 164.00,497.20 Q162.56,498.00 159.68,498.00 L144.32,498.00 Q141.44,498.00 140.00,497.20 Z" fill="#d6d6d6" filter="url(#b2)" opacity="1"/>
<path d="M180.50,475.50 Q182.16,474.20 185.49,474.20 L203.21,474.20 Q206.54,474.20 208.20,475.50 Q206.54,476.80 203.21,476.80 L185.49,476.80 Q182.16,476.80 180.50,475.50 Z" fill="#7a7a7a" filter="url(#b2)" opacity="1"/>
<path d="M183.50,497.80 Q185.09,496.90 188.27,496.90 L205.23,496.90 Q208.41,496.90 210.00,497.80 Q208.41,498.70 205.23,498.70 L188.27,498.70 Q185.09,498.70 183.50,497.80 Z" fill="#c4c4c4" filter="url(#b2)" opacity="1"/>
<text x="228.00" y="480.60" font-size="11.8" text-anchor="start" font-weight="normal" fill="#1e1e1e" style="stroke-width:0.25px" >P-p70S6K</text>
<text x="228.00" y="501.20" font-size="11.8" text-anchor="start" font-weight="normal" fill="#1e1e1e" style="stroke-width:0.25px" >4EBP-1</text>
<text x="228.00" y="521.00" font-size="11.8" text-anchor="start" font-weight="normal" fill="#1e1e1e" style="stroke-width:0.25px" >ALK</text>
<text x="228.00" y="540.60" font-size="11.8" text-anchor="start" font-weight="normal" fill="#1e1e1e" style="stroke-width:0.25px" >Actin</text>
<text x="347.70" y="463.00" font-size="11.3" text-anchor="middle" font-weight="normal" fill="#1e1e1e" style="stroke-width:0.24px" >C</text>
<text x="394.30" y="463.00" font-size="11.3" text-anchor="middle" font-weight="normal" fill="#1e1e1e" style="stroke-width:0.24px" >U0126</text>
<rect x="325.30" y="466.00" width="94.60" height="80.20" fill="#fff" stroke="#111" stroke-width="1.3" />
<path d="M336.30,476.70 Q338.05,475.70 341.56,475.70 L360.24,475.70 Q363.75,475.70 365.50,476.70 Q363.75,477.70 360.24,477.70 L341.56,477.70 Q338.05,477.70 336.30,476.70 Z" fill="#a0a0a0" filter="url(#b1)" opacity="1"/>
<path d="M336.00,480.20 Q337.84,478.60 343.65,478.60 L358.95,478.60 Q364.76,478.60 366.60,480.20 Q364.76,481.80 358.95,481.80 L343.65,481.80 Q337.84,481.80 336.00,480.20 Z" fill="#0a0a0a" filter="url(#b1)" opacity="1"/>
<path d="M375.70,476.20 Q377.40,475.20 380.81,475.20 L398.99,475.20 Q402.40,475.20 404.10,476.20 Q402.40,477.20 398.99,477.20 L380.81,477.20 Q377.40,477.20 375.70,476.20 Z" fill="#a0a0a0" filter="url(#b1)" opacity="1"/>
<path d="M375.40,479.50 Q377.27,477.90 383.17,477.90 L398.73,477.90 Q404.63,477.90 406.50,479.50 Q404.63,481.10 398.73,481.10 L383.17,481.10 Q377.27,481.10 375.40,479.50 Z" fill="#0a0a0a" filter="url(#b1)" opacity="1"/>
<path d="M335.30,496.40 Q336.69,495.25 340.38,495.25 L353.32,495.25 Q357.01,495.25 358.40,496.40 Q357.01,497.55 353.32,497.55 L340.38,497.55 Q336.69,497.55 335.30,496.40 Z" fill="#444" filter="url(#b1)" opacity="1"/>
<path d="M335.30,501.00 Q336.69,499.75 340.38,499.75 L353.32,499.75 Q357.01,499.75 358.40,501.00 Q357.01,502.25 353.32,502.25 L340.38,502.25 Q336.69,502.25 335.30,501.00 Z" fill="#444" filter="url(#b1)" opacity="1"/>
<path d="M368.60,494.50 Q370.40,493.65 374.00,493.65 L393.20,493.65 Q396.80,493.65 398.60,494.50 Q396.80,495.35 393.20,495.35 L374.00,495.35 Q370.40,495.35 368.60,494.50 Z" fill="#d0d0d0" filter="url(#b2)" opacity="1"/>
<path d="M368.60,499.50 Q370.40,498.65 374.00,498.65 L393.20,498.65 Q396.80,498.65 398.60,499.50 Q396.80,500.35 393.20,500.35 L374.00,500.35 Q370.40,500.35 368.60,499.50 Z" fill="#d0d0d0" filter="url(#b2)" opacity="1"/>
<path d="M336.90,520.60 Q337.81,519.80 339.62,519.80 L349.28,519.80 Q351.09,519.80 352.00,520.60 Q351.09,521.40 349.28,521.40 L339.62,521.40 Q337.81,521.40 336.90,520.60 Z" fill="#9a9a9a" filter="url(#b2)" opacity="1"/>
<path d="M348.00,520.60 Q349.09,519.90 351.26,519.90 L362.84,519.90 Q365.01,519.90 366.10,520.60 Q365.01,521.30 362.84,521.30 L351.26,521.30 Q349.09,521.30 348.00,520.60 Z" fill="#cfcfcf" filter="url(#b2)" opacity="1"/>
<path d="M332.30,537.40 Q334.33,535.00 339.06,535.00 L359.34,535.00 Q364.07,535.00 366.10,537.40 Q364.07,539.80 359.34,539.80 L339.06,539.80 Q334.33,539.80 332.30,537.40 Z" fill="#151515" filter="url(#b1)" opacity="1"/>
<path d="M368.00,537.00 Q370.47,534.40 378.27,534.40 L398.83,534.40 Q406.63,534.40 409.10,537.00 Q406.63,539.60 398.83,539.60 L378.27,539.60 Q370.47,539.60 368.00,537.00 Z" fill="#151515" filter="url(#b1)" opacity="1"/>
<text x="433.60" y="487.10" font-size="11.6" text-anchor="start" font-weight="normal" fill="#1e1e1e" style="stroke-width:0.25px" >p44/42</text>
<text x="433.60" y="507.00" font-size="11.6" text-anchor="start" font-weight="normal" fill="#1e1e1e" style="stroke-width:0.25px" >P-p44/42</text>
<text x="433.60" y="527.30" font-size="11.6" text-anchor="start" font-weight="normal" fill="#1e1e1e" style="stroke-width:0.25px" >PARP</text>
<text x="433.60" y="547.60" font-size="11.6" text-anchor="start" font-weight="normal" fill="#1e1e1e" style="stroke-width:0.25px" >Actin</text>
</svg></body></html>
